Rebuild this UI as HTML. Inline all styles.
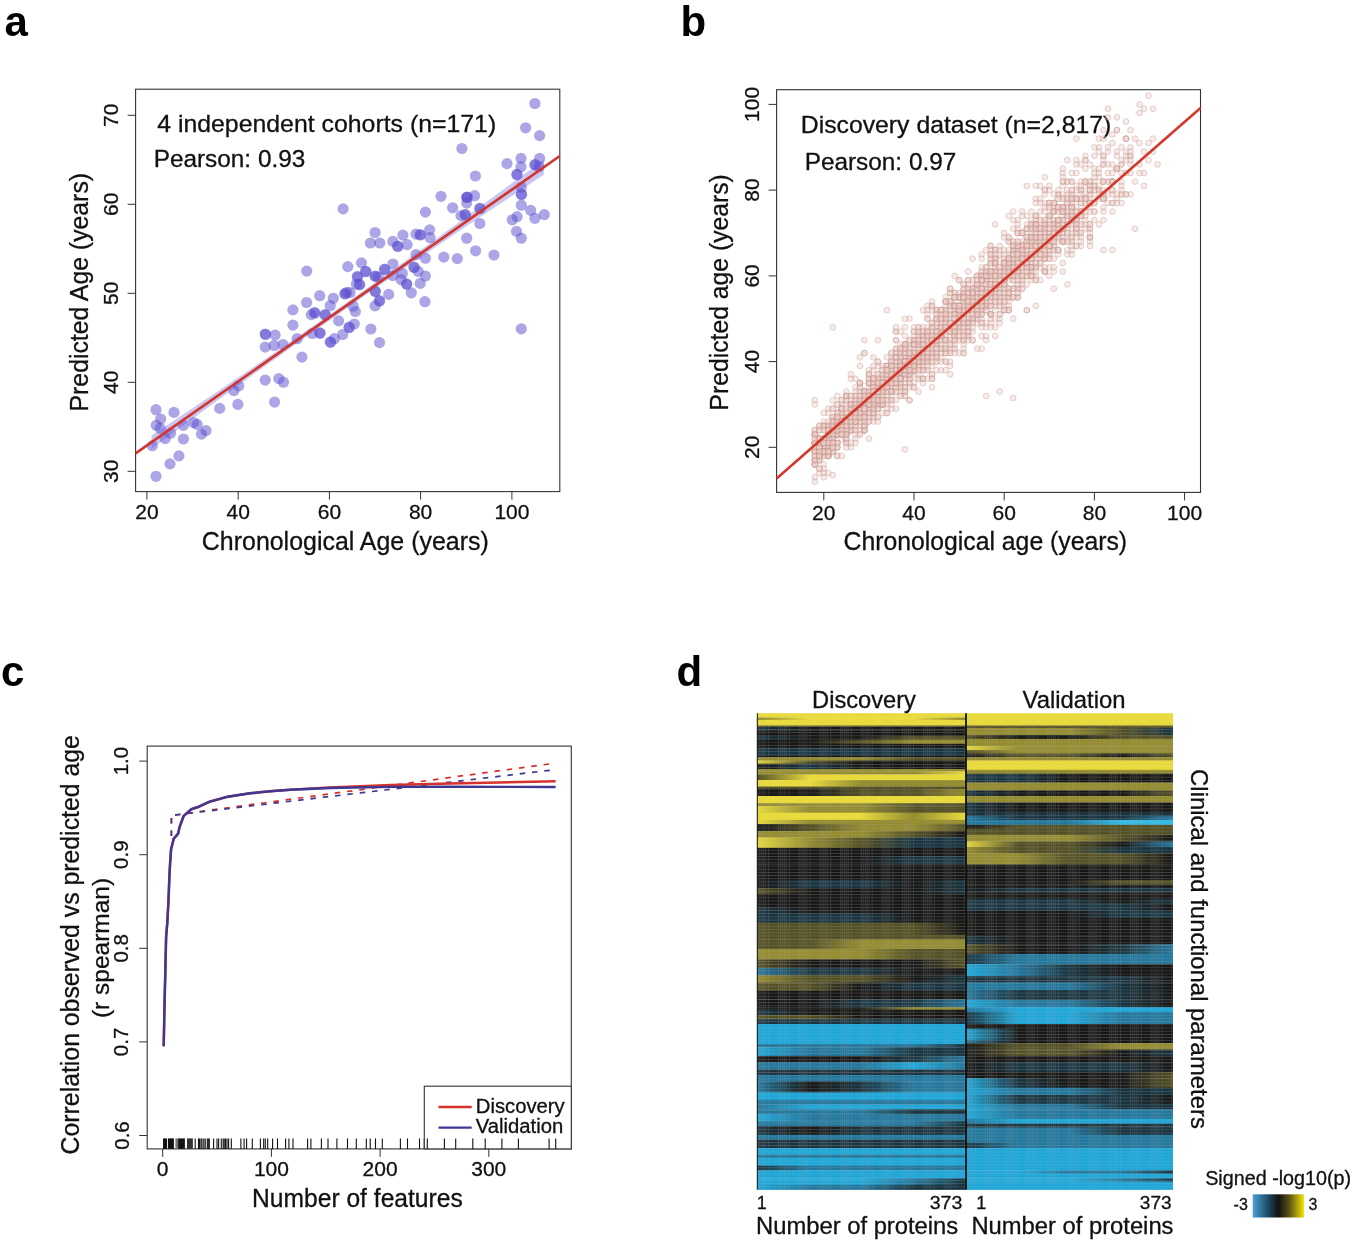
<!DOCTYPE html>
<html><head><meta charset="utf-8"><title>Figure</title>
<style>html,body{margin:0;padding:0;background:#fff;}svg{display:block;will-change:transform;}text{font-family:"Liberation Sans",sans-serif;}</style>
</head><body>
<svg width="1352" height="1240" viewBox="0 0 1352 1240">
<rect width="1352" height="1240" fill="#fff"/>
<text x="4.5" y="35.5" font-size="42" text-anchor="start" fill="#000" font-weight="bold">a</text>
<text x="680.5" y="35.5" font-size="42" text-anchor="start" fill="#000" font-weight="bold">b</text>
<text x="1.0" y="686.3" font-size="42" text-anchor="start" fill="#000" font-weight="bold">c</text>
<text x="676.5" y="686.3" font-size="42" text-anchor="start" fill="#000" font-weight="bold">d</text>
<rect x="135.6" y="89.2" width="424.2" height="402.4" fill="none" stroke="#333" stroke-width="1.1"/>
<line x1="146.9" y1="491.6" x2="146.9" y2="499.6" stroke="#333" stroke-width="1"/>
<text x="146.9" y="518.8" font-size="21" text-anchor="middle" fill="#111" stroke="#111" stroke-width="0.3">20</text>
<line x1="238.2" y1="491.6" x2="238.2" y2="499.6" stroke="#333" stroke-width="1"/>
<text x="238.2" y="518.8" font-size="21" text-anchor="middle" fill="#111" stroke="#111" stroke-width="0.3">40</text>
<line x1="329.4" y1="491.6" x2="329.4" y2="499.6" stroke="#333" stroke-width="1"/>
<text x="329.4" y="518.8" font-size="21" text-anchor="middle" fill="#111" stroke="#111" stroke-width="0.3">60</text>
<line x1="420.6" y1="491.6" x2="420.6" y2="499.6" stroke="#333" stroke-width="1"/>
<text x="420.6" y="518.8" font-size="21" text-anchor="middle" fill="#111" stroke="#111" stroke-width="0.3">80</text>
<line x1="511.9" y1="491.6" x2="511.9" y2="499.6" stroke="#333" stroke-width="1"/>
<text x="511.9" y="518.8" font-size="21" text-anchor="middle" fill="#111" stroke="#111" stroke-width="0.3">100</text>
<line x1="127.6" y1="471.3" x2="135.6" y2="471.3" stroke="#333" stroke-width="1"/>
<text x="117.6" y="471.3" font-size="21" text-anchor="middle" fill="#111" stroke="#111" stroke-width="0.3" transform="rotate(-90 117.6 471.3)">30</text>
<line x1="127.6" y1="382.3" x2="135.6" y2="382.3" stroke="#333" stroke-width="1"/>
<text x="117.6" y="382.3" font-size="21" text-anchor="middle" fill="#111" stroke="#111" stroke-width="0.3" transform="rotate(-90 117.6 382.3)">40</text>
<line x1="127.6" y1="293.3" x2="135.6" y2="293.3" stroke="#333" stroke-width="1"/>
<text x="117.6" y="293.3" font-size="21" text-anchor="middle" fill="#111" stroke="#111" stroke-width="0.3" transform="rotate(-90 117.6 293.3)">50</text>
<line x1="127.6" y1="204.3" x2="135.6" y2="204.3" stroke="#333" stroke-width="1"/>
<text x="117.6" y="204.3" font-size="21" text-anchor="middle" fill="#111" stroke="#111" stroke-width="0.3" transform="rotate(-90 117.6 204.3)">60</text>
<line x1="127.6" y1="115.3" x2="135.6" y2="115.3" stroke="#333" stroke-width="1"/>
<text x="117.6" y="115.3" font-size="21" text-anchor="middle" fill="#111" stroke="#111" stroke-width="0.3" transform="rotate(-90 117.6 115.3)">70</text>
<text x="345.3" y="549.8" font-size="25" text-anchor="middle" fill="#111" stroke="#111" stroke-width="0.3" textLength="286.9" lengthAdjust="spacingAndGlyphs">Chronological Age (years)</text>
<text x="87.7" y="292.2" font-size="25" text-anchor="middle" fill="#111" stroke="#111" stroke-width="0.3" textLength="238.5" lengthAdjust="spacingAndGlyphs" transform="rotate(-90 87.7 292.2)">Predicted Age (years)</text>
<text x="157.2" y="131.8" font-size="24.5" text-anchor="start" fill="#111" stroke="#111" stroke-width="0.3" textLength="339.0" lengthAdjust="spacingAndGlyphs">4 independent cohorts (n=171)</text>
<text x="153.7" y="166.6" font-size="24.5" text-anchor="start" fill="#111" stroke="#111" stroke-width="0.3" textLength="151.6" lengthAdjust="spacingAndGlyphs">Pearson: 0.93</text>
<polygon points="151.5,435.4 169.7,423.4 192.5,408.2 215.3,392.9 238.2,377.5 261.0,362.0 283.8,346.3 306.6,330.6 329.4,314.7 352.2,298.7 375.0,282.5 397.8,266.3 420.6,249.9 443.5,233.5 466.3,216.9 489.1,200.1 511.9,183.3 534.7,166.4 543.8,159.5 543.8,174.8 534.7,180.8 511.9,195.9 489.1,211.0 466.3,226.3 443.5,241.7 420.6,257.2 397.8,272.8 375.0,288.5 352.2,304.4 329.4,320.4 306.6,336.5 283.8,352.7 261.0,369.0 238.2,385.5 215.3,402.1 192.5,418.8 169.7,435.6 151.5,449.1" fill="#b3aeea" fill-opacity="0.7"/>
<circle cx="156.0" cy="409.7" r="5.6" fill="#5a4ecf" fill-opacity="0.5"/>
<circle cx="174.0" cy="412.4" r="5.6" fill="#5a4ecf" fill-opacity="0.5"/>
<circle cx="160.7" cy="419.0" r="5.6" fill="#5a4ecf" fill-opacity="0.5"/>
<circle cx="156.3" cy="425.3" r="5.6" fill="#5a4ecf" fill-opacity="0.5"/>
<circle cx="160.3" cy="428.4" r="5.6" fill="#5a4ecf" fill-opacity="0.5"/>
<circle cx="152.3" cy="445.7" r="5.6" fill="#5a4ecf" fill-opacity="0.5"/>
<circle cx="165.2" cy="438.6" r="5.6" fill="#5a4ecf" fill-opacity="0.5"/>
<circle cx="170.5" cy="433.2" r="5.6" fill="#5a4ecf" fill-opacity="0.5"/>
<circle cx="183.4" cy="425.3" r="5.6" fill="#5a4ecf" fill-opacity="0.5"/>
<circle cx="193.6" cy="422.6" r="5.6" fill="#5a4ecf" fill-opacity="0.5"/>
<circle cx="197.1" cy="424.4" r="5.6" fill="#5a4ecf" fill-opacity="0.5"/>
<circle cx="206.0" cy="430.6" r="5.6" fill="#5a4ecf" fill-opacity="0.5"/>
<circle cx="201.5" cy="434.1" r="5.6" fill="#5a4ecf" fill-opacity="0.5"/>
<circle cx="183.4" cy="439.0" r="5.6" fill="#5a4ecf" fill-opacity="0.5"/>
<circle cx="178.9" cy="455.9" r="5.6" fill="#5a4ecf" fill-opacity="0.5"/>
<circle cx="170.0" cy="463.9" r="5.6" fill="#5a4ecf" fill-opacity="0.5"/>
<circle cx="156.0" cy="476.3" r="5.6" fill="#5a4ecf" fill-opacity="0.5"/>
<circle cx="219.7" cy="408.4" r="5.6" fill="#5a4ecf" fill-opacity="0.5"/>
<circle cx="237.9" cy="404.4" r="5.6" fill="#5a4ecf" fill-opacity="0.5"/>
<circle cx="233.9" cy="390.6" r="5.6" fill="#5a4ecf" fill-opacity="0.5"/>
<circle cx="238.8" cy="385.8" r="5.6" fill="#5a4ecf" fill-opacity="0.5"/>
<circle cx="265.2" cy="334.0" r="5.6" fill="#5a4ecf" fill-opacity="0.5"/>
<circle cx="265.5" cy="334.5" r="5.6" fill="#5a4ecf" fill-opacity="0.5"/>
<circle cx="275.1" cy="335.0" r="5.6" fill="#5a4ecf" fill-opacity="0.5"/>
<circle cx="265.2" cy="347.1" r="5.6" fill="#5a4ecf" fill-opacity="0.5"/>
<circle cx="274.1" cy="345.5" r="5.6" fill="#5a4ecf" fill-opacity="0.5"/>
<circle cx="283.0" cy="344.5" r="5.6" fill="#5a4ecf" fill-opacity="0.5"/>
<circle cx="292.9" cy="309.9" r="5.6" fill="#5a4ecf" fill-opacity="0.5"/>
<circle cx="292.9" cy="325.1" r="5.6" fill="#5a4ecf" fill-opacity="0.5"/>
<circle cx="297.1" cy="338.7" r="5.6" fill="#5a4ecf" fill-opacity="0.5"/>
<circle cx="301.9" cy="357.1" r="5.6" fill="#5a4ecf" fill-opacity="0.5"/>
<circle cx="265.2" cy="380.1" r="5.6" fill="#5a4ecf" fill-opacity="0.5"/>
<circle cx="278.8" cy="378.6" r="5.6" fill="#5a4ecf" fill-opacity="0.5"/>
<circle cx="283.5" cy="382.2" r="5.6" fill="#5a4ecf" fill-opacity="0.5"/>
<circle cx="274.6" cy="402.1" r="5.6" fill="#5a4ecf" fill-opacity="0.5"/>
<circle cx="306.6" cy="302.5" r="5.6" fill="#5a4ecf" fill-opacity="0.5"/>
<circle cx="319.7" cy="295.7" r="5.6" fill="#5a4ecf" fill-opacity="0.5"/>
<circle cx="314.4" cy="312.5" r="5.6" fill="#5a4ecf" fill-opacity="0.5"/>
<circle cx="315.0" cy="313.0" r="5.6" fill="#5a4ecf" fill-opacity="0.5"/>
<circle cx="311.3" cy="314.6" r="5.6" fill="#5a4ecf" fill-opacity="0.5"/>
<circle cx="330.2" cy="305.7" r="5.6" fill="#5a4ecf" fill-opacity="0.5"/>
<circle cx="333.3" cy="298.3" r="5.6" fill="#5a4ecf" fill-opacity="0.5"/>
<circle cx="324.9" cy="314.6" r="5.6" fill="#5a4ecf" fill-opacity="0.5"/>
<circle cx="325.5" cy="315.0" r="5.6" fill="#5a4ecf" fill-opacity="0.5"/>
<circle cx="319.7" cy="332.9" r="5.6" fill="#5a4ecf" fill-opacity="0.5"/>
<circle cx="320.2" cy="333.3" r="5.6" fill="#5a4ecf" fill-opacity="0.5"/>
<circle cx="312.3" cy="333.5" r="5.6" fill="#5a4ecf" fill-opacity="0.5"/>
<circle cx="330.2" cy="341.9" r="5.6" fill="#5a4ecf" fill-opacity="0.5"/>
<circle cx="330.6" cy="342.3" r="5.6" fill="#5a4ecf" fill-opacity="0.5"/>
<circle cx="334.4" cy="338.7" r="5.6" fill="#5a4ecf" fill-opacity="0.5"/>
<circle cx="338.6" cy="320.9" r="5.6" fill="#5a4ecf" fill-opacity="0.5"/>
<circle cx="342.7" cy="334.5" r="5.6" fill="#5a4ecf" fill-opacity="0.5"/>
<circle cx="349.0" cy="327.2" r="5.6" fill="#5a4ecf" fill-opacity="0.5"/>
<circle cx="349.4" cy="327.6" r="5.6" fill="#5a4ecf" fill-opacity="0.5"/>
<circle cx="344.8" cy="293.6" r="5.6" fill="#5a4ecf" fill-opacity="0.5"/>
<circle cx="345.2" cy="294.0" r="5.6" fill="#5a4ecf" fill-opacity="0.5"/>
<circle cx="350.1" cy="292.6" r="5.6" fill="#5a4ecf" fill-opacity="0.5"/>
<circle cx="356.4" cy="284.2" r="5.6" fill="#5a4ecf" fill-opacity="0.5"/>
<circle cx="355.3" cy="311.5" r="5.6" fill="#5a4ecf" fill-opacity="0.5"/>
<circle cx="354.3" cy="324.0" r="5.6" fill="#5a4ecf" fill-opacity="0.5"/>
<circle cx="353.2" cy="306.2" r="5.6" fill="#5a4ecf" fill-opacity="0.5"/>
<circle cx="306.7" cy="271.1" r="5.6" fill="#5a4ecf" fill-opacity="0.5"/>
<circle cx="379.5" cy="342.6" r="5.6" fill="#5a4ecf" fill-opacity="0.5"/>
<circle cx="343.1" cy="208.9" r="5.6" fill="#5a4ecf" fill-opacity="0.5"/>
<circle cx="425.4" cy="212.1" r="5.6" fill="#5a4ecf" fill-opacity="0.5"/>
<circle cx="375.1" cy="232.5" r="5.6" fill="#5a4ecf" fill-opacity="0.5"/>
<circle cx="370.4" cy="243.0" r="5.6" fill="#5a4ecf" fill-opacity="0.5"/>
<circle cx="379.8" cy="243.0" r="5.6" fill="#5a4ecf" fill-opacity="0.5"/>
<circle cx="392.9" cy="241.4" r="5.6" fill="#5a4ecf" fill-opacity="0.5"/>
<circle cx="402.9" cy="235.1" r="5.6" fill="#5a4ecf" fill-opacity="0.5"/>
<circle cx="397.6" cy="246.1" r="5.6" fill="#5a4ecf" fill-opacity="0.5"/>
<circle cx="397.9" cy="246.5" r="5.6" fill="#5a4ecf" fill-opacity="0.5"/>
<circle cx="407.1" cy="244.6" r="5.6" fill="#5a4ecf" fill-opacity="0.5"/>
<circle cx="416.0" cy="234.1" r="5.6" fill="#5a4ecf" fill-opacity="0.5"/>
<circle cx="420.2" cy="234.6" r="5.6" fill="#5a4ecf" fill-opacity="0.5"/>
<circle cx="420.5" cy="235.0" r="5.6" fill="#5a4ecf" fill-opacity="0.5"/>
<circle cx="429.6" cy="229.9" r="5.6" fill="#5a4ecf" fill-opacity="0.5"/>
<circle cx="430.1" cy="237.7" r="5.6" fill="#5a4ecf" fill-opacity="0.5"/>
<circle cx="443.8" cy="257.1" r="5.6" fill="#5a4ecf" fill-opacity="0.5"/>
<circle cx="416.0" cy="254.5" r="5.6" fill="#5a4ecf" fill-opacity="0.5"/>
<circle cx="425.4" cy="258.2" r="5.6" fill="#5a4ecf" fill-opacity="0.5"/>
<circle cx="413.9" cy="267.1" r="5.6" fill="#5a4ecf" fill-opacity="0.5"/>
<circle cx="414.2" cy="267.5" r="5.6" fill="#5a4ecf" fill-opacity="0.5"/>
<circle cx="418.1" cy="271.3" r="5.6" fill="#5a4ecf" fill-opacity="0.5"/>
<circle cx="425.4" cy="276.0" r="5.6" fill="#5a4ecf" fill-opacity="0.5"/>
<circle cx="420.2" cy="283.4" r="5.6" fill="#5a4ecf" fill-opacity="0.5"/>
<circle cx="406.5" cy="283.9" r="5.6" fill="#5a4ecf" fill-opacity="0.5"/>
<circle cx="406.8" cy="284.3" r="5.6" fill="#5a4ecf" fill-opacity="0.5"/>
<circle cx="411.3" cy="292.8" r="5.6" fill="#5a4ecf" fill-opacity="0.5"/>
<circle cx="401.3" cy="279.7" r="5.6" fill="#5a4ecf" fill-opacity="0.5"/>
<circle cx="402.3" cy="273.4" r="5.6" fill="#5a4ecf" fill-opacity="0.5"/>
<circle cx="392.9" cy="264.0" r="5.6" fill="#5a4ecf" fill-opacity="0.5"/>
<circle cx="392.9" cy="275.5" r="5.6" fill="#5a4ecf" fill-opacity="0.5"/>
<circle cx="384.5" cy="269.2" r="5.6" fill="#5a4ecf" fill-opacity="0.5"/>
<circle cx="384.8" cy="269.6" r="5.6" fill="#5a4ecf" fill-opacity="0.5"/>
<circle cx="375.1" cy="276.0" r="5.6" fill="#5a4ecf" fill-opacity="0.5"/>
<circle cx="375.4" cy="276.4" r="5.6" fill="#5a4ecf" fill-opacity="0.5"/>
<circle cx="378.2" cy="277.1" r="5.6" fill="#5a4ecf" fill-opacity="0.5"/>
<circle cx="375.1" cy="291.2" r="5.6" fill="#5a4ecf" fill-opacity="0.5"/>
<circle cx="375.4" cy="291.6" r="5.6" fill="#5a4ecf" fill-opacity="0.5"/>
<circle cx="379.3" cy="300.7" r="5.6" fill="#5a4ecf" fill-opacity="0.5"/>
<circle cx="379.6" cy="301.1" r="5.6" fill="#5a4ecf" fill-opacity="0.5"/>
<circle cx="388.7" cy="294.4" r="5.6" fill="#5a4ecf" fill-opacity="0.5"/>
<circle cx="375.1" cy="305.9" r="5.6" fill="#5a4ecf" fill-opacity="0.5"/>
<circle cx="424.9" cy="301.7" r="5.6" fill="#5a4ecf" fill-opacity="0.5"/>
<circle cx="347.8" cy="266.6" r="5.6" fill="#5a4ecf" fill-opacity="0.5"/>
<circle cx="361.5" cy="262.9" r="5.6" fill="#5a4ecf" fill-opacity="0.5"/>
<circle cx="365.6" cy="271.3" r="5.6" fill="#5a4ecf" fill-opacity="0.5"/>
<circle cx="365.9" cy="271.7" r="5.6" fill="#5a4ecf" fill-opacity="0.5"/>
<circle cx="357.3" cy="276.5" r="5.6" fill="#5a4ecf" fill-opacity="0.5"/>
<circle cx="357.6" cy="276.9" r="5.6" fill="#5a4ecf" fill-opacity="0.5"/>
<circle cx="359.4" cy="284.4" r="5.6" fill="#5a4ecf" fill-opacity="0.5"/>
<circle cx="359.7" cy="284.8" r="5.6" fill="#5a4ecf" fill-opacity="0.5"/>
<circle cx="346.8" cy="292.3" r="5.6" fill="#5a4ecf" fill-opacity="0.5"/>
<circle cx="370.9" cy="329.0" r="5.6" fill="#5a4ecf" fill-opacity="0.5"/>
<circle cx="441.0" cy="196.3" r="5.6" fill="#5a4ecf" fill-opacity="0.5"/>
<circle cx="452.6" cy="207.8" r="5.6" fill="#5a4ecf" fill-opacity="0.5"/>
<circle cx="466.7" cy="197.3" r="5.6" fill="#5a4ecf" fill-opacity="0.5"/>
<circle cx="467.0" cy="197.6" r="5.6" fill="#5a4ecf" fill-opacity="0.5"/>
<circle cx="467.3" cy="197.0" r="5.6" fill="#5a4ecf" fill-opacity="0.5"/>
<circle cx="474.6" cy="195.7" r="5.6" fill="#5a4ecf" fill-opacity="0.5"/>
<circle cx="466.7" cy="203.1" r="5.6" fill="#5a4ecf" fill-opacity="0.5"/>
<circle cx="465.2" cy="214.6" r="5.6" fill="#5a4ecf" fill-opacity="0.5"/>
<circle cx="465.5" cy="214.9" r="5.6" fill="#5a4ecf" fill-opacity="0.5"/>
<circle cx="461.0" cy="215.6" r="5.6" fill="#5a4ecf" fill-opacity="0.5"/>
<circle cx="479.8" cy="208.3" r="5.6" fill="#5a4ecf" fill-opacity="0.5"/>
<circle cx="480.1" cy="208.6" r="5.6" fill="#5a4ecf" fill-opacity="0.5"/>
<circle cx="479.8" cy="223.5" r="5.6" fill="#5a4ecf" fill-opacity="0.5"/>
<circle cx="466.7" cy="238.2" r="5.6" fill="#5a4ecf" fill-opacity="0.5"/>
<circle cx="475.6" cy="250.8" r="5.6" fill="#5a4ecf" fill-opacity="0.5"/>
<circle cx="457.3" cy="258.6" r="5.6" fill="#5a4ecf" fill-opacity="0.5"/>
<circle cx="494.0" cy="255.0" r="5.6" fill="#5a4ecf" fill-opacity="0.5"/>
<circle cx="521.3" cy="187.3" r="5.6" fill="#5a4ecf" fill-opacity="0.5"/>
<circle cx="521.3" cy="194.2" r="5.6" fill="#5a4ecf" fill-opacity="0.5"/>
<circle cx="521.6" cy="194.5" r="5.6" fill="#5a4ecf" fill-opacity="0.5"/>
<circle cx="521.3" cy="205.2" r="5.6" fill="#5a4ecf" fill-opacity="0.5"/>
<circle cx="530.7" cy="210.4" r="5.6" fill="#5a4ecf" fill-opacity="0.5"/>
<circle cx="534.9" cy="218.3" r="5.6" fill="#5a4ecf" fill-opacity="0.5"/>
<circle cx="544.3" cy="214.6" r="5.6" fill="#5a4ecf" fill-opacity="0.5"/>
<circle cx="517.1" cy="216.7" r="5.6" fill="#5a4ecf" fill-opacity="0.5"/>
<circle cx="512.3" cy="219.8" r="5.6" fill="#5a4ecf" fill-opacity="0.5"/>
<circle cx="516.5" cy="231.4" r="5.6" fill="#5a4ecf" fill-opacity="0.5"/>
<circle cx="521.3" cy="238.2" r="5.6" fill="#5a4ecf" fill-opacity="0.5"/>
<circle cx="534.9" cy="103.5" r="5.6" fill="#5a4ecf" fill-opacity="0.5"/>
<circle cx="525.6" cy="127.8" r="5.6" fill="#5a4ecf" fill-opacity="0.5"/>
<circle cx="539.6" cy="135.6" r="5.6" fill="#5a4ecf" fill-opacity="0.5"/>
<circle cx="461.9" cy="148.5" r="5.6" fill="#5a4ecf" fill-opacity="0.5"/>
<circle cx="475.4" cy="176.0" r="5.6" fill="#5a4ecf" fill-opacity="0.5"/>
<circle cx="507.0" cy="163.6" r="5.6" fill="#5a4ecf" fill-opacity="0.5"/>
<circle cx="521.0" cy="158.4" r="5.6" fill="#5a4ecf" fill-opacity="0.5"/>
<circle cx="521.0" cy="166.7" r="5.6" fill="#5a4ecf" fill-opacity="0.5"/>
<circle cx="516.8" cy="174.4" r="5.6" fill="#5a4ecf" fill-opacity="0.5"/>
<circle cx="517.1" cy="174.7" r="5.6" fill="#5a4ecf" fill-opacity="0.5"/>
<circle cx="539.6" cy="158.4" r="5.6" fill="#5a4ecf" fill-opacity="0.5"/>
<circle cx="534.9" cy="164.6" r="5.6" fill="#5a4ecf" fill-opacity="0.5"/>
<circle cx="535.2" cy="164.9" r="5.6" fill="#5a4ecf" fill-opacity="0.5"/>
<circle cx="539.1" cy="166.7" r="5.6" fill="#5a4ecf" fill-opacity="0.5"/>
<circle cx="521.3" cy="328.8" r="5.6" fill="#5a4ecf" fill-opacity="0.5"/>
<line x1="135.6" y1="453.4" x2="559.8" y2="156.0" stroke="#d2352c" stroke-width="2.6"/>
<rect x="776.6" y="89.7" width="423.9" height="402.7" fill="none" stroke="#333" stroke-width="1.1"/>
<line x1="823.8" y1="492.4" x2="823.8" y2="500.4" stroke="#333" stroke-width="1"/>
<text x="823.8" y="519.8" font-size="21" text-anchor="middle" fill="#111" stroke="#111" stroke-width="0.3">20</text>
<line x1="914.0" y1="492.4" x2="914.0" y2="500.4" stroke="#333" stroke-width="1"/>
<text x="914.0" y="519.8" font-size="21" text-anchor="middle" fill="#111" stroke="#111" stroke-width="0.3">40</text>
<line x1="1004.2" y1="492.4" x2="1004.2" y2="500.4" stroke="#333" stroke-width="1"/>
<text x="1004.2" y="519.8" font-size="21" text-anchor="middle" fill="#111" stroke="#111" stroke-width="0.3">60</text>
<line x1="1094.4" y1="492.4" x2="1094.4" y2="500.4" stroke="#333" stroke-width="1"/>
<text x="1094.4" y="519.8" font-size="21" text-anchor="middle" fill="#111" stroke="#111" stroke-width="0.3">80</text>
<line x1="1184.6" y1="492.4" x2="1184.6" y2="500.4" stroke="#333" stroke-width="1"/>
<text x="1184.6" y="519.8" font-size="21" text-anchor="middle" fill="#111" stroke="#111" stroke-width="0.3">100</text>
<line x1="768.6" y1="447.3" x2="776.6" y2="447.3" stroke="#333" stroke-width="1"/>
<text x="758.6" y="447.3" font-size="21" text-anchor="middle" fill="#111" stroke="#111" stroke-width="0.3" transform="rotate(-90 758.6 447.3)">20</text>
<line x1="768.6" y1="361.6" x2="776.6" y2="361.6" stroke="#333" stroke-width="1"/>
<text x="758.6" y="361.6" font-size="21" text-anchor="middle" fill="#111" stroke="#111" stroke-width="0.3" transform="rotate(-90 758.6 361.6)">40</text>
<line x1="768.6" y1="275.9" x2="776.6" y2="275.9" stroke="#333" stroke-width="1"/>
<text x="758.6" y="275.9" font-size="21" text-anchor="middle" fill="#111" stroke="#111" stroke-width="0.3" transform="rotate(-90 758.6 275.9)">60</text>
<line x1="768.6" y1="190.1" x2="776.6" y2="190.1" stroke="#333" stroke-width="1"/>
<text x="758.6" y="190.1" font-size="21" text-anchor="middle" fill="#111" stroke="#111" stroke-width="0.3" transform="rotate(-90 758.6 190.1)">80</text>
<line x1="768.6" y1="104.4" x2="776.6" y2="104.4" stroke="#333" stroke-width="1"/>
<text x="758.6" y="104.4" font-size="21" text-anchor="middle" fill="#111" stroke="#111" stroke-width="0.3" transform="rotate(-90 758.6 104.4)">100</text>
<text x="985.3" y="550.1" font-size="25" text-anchor="middle" fill="#111" stroke="#111" stroke-width="0.3" textLength="283.6" lengthAdjust="spacingAndGlyphs">Chronological age (years)</text>
<text x="727.9" y="292.3" font-size="25" text-anchor="middle" fill="#111" stroke="#111" stroke-width="0.3" textLength="236.2" lengthAdjust="spacingAndGlyphs" transform="rotate(-90 727.9 292.3)">Predicted age (years)</text>
<text x="800.8" y="133.4" font-size="24.5" text-anchor="start" fill="#111" stroke="#111" stroke-width="0.3" textLength="310.4" lengthAdjust="spacingAndGlyphs">Discovery dataset (n=2,817)</text>
<text x="804.7" y="169.7" font-size="24.5" text-anchor="start" fill="#111" stroke="#111" stroke-width="0.3" textLength="151.6" lengthAdjust="spacingAndGlyphs">Pearson: 0.97</text>
<g fill="#ecccc6" fill-opacity="0.38" stroke="#bb8883" stroke-opacity="0.40" stroke-width="0.9">
<circle cx="941.1" cy="370.2" r="2.9"/>
<circle cx="954.6" cy="335.9" r="2.9"/>
<circle cx="864.4" cy="425.9" r="2.9"/>
<circle cx="837.3" cy="434.4" r="2.9"/>
<circle cx="837.3" cy="395.9" r="2.9"/>
<circle cx="1112.4" cy="143.0" r="2.9"/>
<circle cx="855.4" cy="413.0" r="2.9"/>
<circle cx="864.4" cy="408.7" r="2.9"/>
<circle cx="819.3" cy="460.2" r="2.9"/>
<circle cx="959.1" cy="314.4" r="2.9"/>
<circle cx="954.6" cy="331.6" r="2.9"/>
<circle cx="1139.5" cy="173.0" r="2.9"/>
<circle cx="1049.3" cy="237.3" r="2.9"/>
<circle cx="891.4" cy="391.6" r="2.9"/>
<circle cx="1049.3" cy="254.4" r="2.9"/>
<circle cx="1094.4" cy="190.1" r="2.9"/>
<circle cx="1071.8" cy="211.6" r="2.9"/>
<circle cx="1112.4" cy="181.6" r="2.9"/>
<circle cx="1031.3" cy="245.9" r="2.9"/>
<circle cx="837.3" cy="447.3" r="2.9"/>
<circle cx="846.3" cy="395.9" r="2.9"/>
<circle cx="841.8" cy="408.7" r="2.9"/>
<circle cx="968.1" cy="297.3" r="2.9"/>
<circle cx="864.4" cy="408.7" r="2.9"/>
<circle cx="846.3" cy="430.2" r="2.9"/>
<circle cx="873.4" cy="400.2" r="2.9"/>
<circle cx="896.0" cy="340.2" r="2.9"/>
<circle cx="873.4" cy="417.3" r="2.9"/>
<circle cx="841.8" cy="413.0" r="2.9"/>
<circle cx="873.4" cy="400.2" r="2.9"/>
<circle cx="896.0" cy="331.6" r="2.9"/>
<circle cx="882.4" cy="378.7" r="2.9"/>
<circle cx="918.5" cy="391.6" r="2.9"/>
<circle cx="972.6" cy="293.0" r="2.9"/>
<circle cx="864.4" cy="391.6" r="2.9"/>
<circle cx="882.4" cy="365.9" r="2.9"/>
<circle cx="1017.7" cy="250.1" r="2.9"/>
<circle cx="1062.8" cy="228.7" r="2.9"/>
<circle cx="932.0" cy="340.2" r="2.9"/>
<circle cx="877.9" cy="391.6" r="2.9"/>
<circle cx="882.4" cy="383.0" r="2.9"/>
<circle cx="859.9" cy="425.9" r="2.9"/>
<circle cx="832.8" cy="434.4" r="2.9"/>
<circle cx="986.2" cy="271.6" r="2.9"/>
<circle cx="1076.4" cy="207.3" r="2.9"/>
<circle cx="936.5" cy="327.3" r="2.9"/>
<circle cx="972.6" cy="288.7" r="2.9"/>
<circle cx="914.0" cy="327.3" r="2.9"/>
<circle cx="1004.2" cy="310.1" r="2.9"/>
<circle cx="850.9" cy="417.3" r="2.9"/>
<circle cx="1008.7" cy="271.6" r="2.9"/>
<circle cx="819.3" cy="455.9" r="2.9"/>
<circle cx="900.5" cy="383.0" r="2.9"/>
<circle cx="832.8" cy="451.6" r="2.9"/>
<circle cx="1017.7" cy="271.6" r="2.9"/>
<circle cx="1035.8" cy="228.7" r="2.9"/>
<circle cx="1067.3" cy="228.7" r="2.9"/>
<circle cx="927.5" cy="340.2" r="2.9"/>
<circle cx="986.2" cy="327.3" r="2.9"/>
<circle cx="977.1" cy="305.9" r="2.9"/>
<circle cx="1130.5" cy="164.4" r="2.9"/>
<circle cx="1017.7" cy="288.7" r="2.9"/>
<circle cx="936.5" cy="323.0" r="2.9"/>
<circle cx="837.3" cy="430.2" r="2.9"/>
<circle cx="945.6" cy="335.9" r="2.9"/>
<circle cx="1008.7" cy="297.3" r="2.9"/>
<circle cx="882.4" cy="378.7" r="2.9"/>
<circle cx="868.9" cy="383.0" r="2.9"/>
<circle cx="1071.8" cy="224.4" r="2.9"/>
<circle cx="905.0" cy="383.0" r="2.9"/>
<circle cx="868.9" cy="421.6" r="2.9"/>
<circle cx="1062.8" cy="207.3" r="2.9"/>
<circle cx="977.1" cy="305.9" r="2.9"/>
<circle cx="1044.8" cy="228.7" r="2.9"/>
<circle cx="1013.2" cy="254.4" r="2.9"/>
<circle cx="936.5" cy="344.4" r="2.9"/>
<circle cx="873.4" cy="413.0" r="2.9"/>
<circle cx="900.5" cy="361.6" r="2.9"/>
<circle cx="1112.4" cy="181.6" r="2.9"/>
<circle cx="1058.3" cy="194.4" r="2.9"/>
<circle cx="900.5" cy="365.9" r="2.9"/>
<circle cx="819.3" cy="425.9" r="2.9"/>
<circle cx="1044.8" cy="228.7" r="2.9"/>
<circle cx="990.7" cy="314.4" r="2.9"/>
<circle cx="1040.3" cy="233.0" r="2.9"/>
<circle cx="1004.2" cy="267.3" r="2.9"/>
<circle cx="814.8" cy="443.0" r="2.9"/>
<circle cx="1013.2" cy="263.0" r="2.9"/>
<circle cx="1008.7" cy="258.7" r="2.9"/>
<circle cx="986.2" cy="293.0" r="2.9"/>
<circle cx="1071.8" cy="207.3" r="2.9"/>
<circle cx="850.9" cy="425.9" r="2.9"/>
<circle cx="986.2" cy="280.1" r="2.9"/>
<circle cx="1058.3" cy="237.3" r="2.9"/>
<circle cx="1089.9" cy="228.7" r="2.9"/>
<circle cx="1013.2" cy="263.0" r="2.9"/>
<circle cx="990.7" cy="293.0" r="2.9"/>
<circle cx="1112.4" cy="190.1" r="2.9"/>
<circle cx="963.6" cy="310.1" r="2.9"/>
<circle cx="1053.8" cy="245.9" r="2.9"/>
<circle cx="837.3" cy="447.3" r="2.9"/>
<circle cx="950.1" cy="314.4" r="2.9"/>
<circle cx="1035.8" cy="254.4" r="2.9"/>
<circle cx="905.0" cy="365.9" r="2.9"/>
<circle cx="959.1" cy="327.3" r="2.9"/>
<circle cx="1049.3" cy="254.4" r="2.9"/>
<circle cx="1089.9" cy="241.6" r="2.9"/>
<circle cx="891.4" cy="365.9" r="2.9"/>
<circle cx="990.7" cy="323.0" r="2.9"/>
<circle cx="900.5" cy="378.7" r="2.9"/>
<circle cx="1049.3" cy="224.4" r="2.9"/>
<circle cx="1103.4" cy="194.4" r="2.9"/>
<circle cx="972.6" cy="297.3" r="2.9"/>
<circle cx="981.6" cy="254.4" r="2.9"/>
<circle cx="923.0" cy="357.3" r="2.9"/>
<circle cx="968.1" cy="335.9" r="2.9"/>
<circle cx="963.6" cy="348.7" r="2.9"/>
<circle cx="886.9" cy="365.9" r="2.9"/>
<circle cx="846.3" cy="443.0" r="2.9"/>
<circle cx="945.6" cy="318.7" r="2.9"/>
<circle cx="864.4" cy="425.9" r="2.9"/>
<circle cx="1031.3" cy="275.9" r="2.9"/>
<circle cx="1004.2" cy="263.0" r="2.9"/>
<circle cx="914.0" cy="365.9" r="2.9"/>
<circle cx="846.3" cy="425.9" r="2.9"/>
<circle cx="882.4" cy="383.0" r="2.9"/>
<circle cx="918.5" cy="340.2" r="2.9"/>
<circle cx="959.1" cy="310.1" r="2.9"/>
<circle cx="990.7" cy="280.1" r="2.9"/>
<circle cx="1049.3" cy="267.3" r="2.9"/>
<circle cx="1017.7" cy="288.7" r="2.9"/>
<circle cx="1067.3" cy="224.4" r="2.9"/>
<circle cx="873.4" cy="387.3" r="2.9"/>
<circle cx="1062.8" cy="211.6" r="2.9"/>
<circle cx="886.9" cy="365.9" r="2.9"/>
<circle cx="1031.3" cy="267.3" r="2.9"/>
<circle cx="923.0" cy="353.0" r="2.9"/>
<circle cx="1004.2" cy="280.1" r="2.9"/>
<circle cx="1103.4" cy="164.4" r="2.9"/>
<circle cx="954.6" cy="310.1" r="2.9"/>
<circle cx="864.4" cy="395.9" r="2.9"/>
<circle cx="968.1" cy="331.6" r="2.9"/>
<circle cx="864.4" cy="408.7" r="2.9"/>
<circle cx="1049.3" cy="185.9" r="2.9"/>
<circle cx="828.3" cy="425.9" r="2.9"/>
<circle cx="905.0" cy="374.4" r="2.9"/>
<circle cx="954.6" cy="331.6" r="2.9"/>
<circle cx="1008.7" cy="267.3" r="2.9"/>
<circle cx="1017.7" cy="271.6" r="2.9"/>
<circle cx="868.9" cy="374.4" r="2.9"/>
<circle cx="1067.3" cy="207.3" r="2.9"/>
<circle cx="990.7" cy="314.4" r="2.9"/>
<circle cx="981.6" cy="348.7" r="2.9"/>
<circle cx="886.9" cy="387.3" r="2.9"/>
<circle cx="1022.2" cy="254.4" r="2.9"/>
<circle cx="1067.3" cy="254.4" r="2.9"/>
<circle cx="1008.7" cy="267.3" r="2.9"/>
<circle cx="1013.2" cy="288.7" r="2.9"/>
<circle cx="814.8" cy="443.0" r="2.9"/>
<circle cx="990.7" cy="297.3" r="2.9"/>
<circle cx="999.7" cy="288.7" r="2.9"/>
<circle cx="995.2" cy="305.9" r="2.9"/>
<circle cx="1153.0" cy="151.6" r="2.9"/>
<circle cx="1008.7" cy="215.9" r="2.9"/>
<circle cx="986.2" cy="293.0" r="2.9"/>
<circle cx="828.3" cy="447.3" r="2.9"/>
<circle cx="918.5" cy="344.4" r="2.9"/>
<circle cx="968.1" cy="301.6" r="2.9"/>
<circle cx="1103.4" cy="250.1" r="2.9"/>
<circle cx="1040.3" cy="241.6" r="2.9"/>
<circle cx="823.8" cy="455.9" r="2.9"/>
<circle cx="855.4" cy="421.6" r="2.9"/>
<circle cx="981.6" cy="275.9" r="2.9"/>
<circle cx="959.1" cy="323.0" r="2.9"/>
<circle cx="914.0" cy="365.9" r="2.9"/>
<circle cx="891.4" cy="361.6" r="2.9"/>
<circle cx="896.0" cy="365.9" r="2.9"/>
<circle cx="855.4" cy="413.0" r="2.9"/>
<circle cx="1022.2" cy="233.0" r="2.9"/>
<circle cx="832.8" cy="438.7" r="2.9"/>
<circle cx="932.0" cy="387.3" r="2.9"/>
<circle cx="959.1" cy="310.1" r="2.9"/>
<circle cx="1013.2" cy="318.7" r="2.9"/>
<circle cx="981.6" cy="271.6" r="2.9"/>
<circle cx="868.9" cy="404.4" r="2.9"/>
<circle cx="936.5" cy="340.2" r="2.9"/>
<circle cx="941.1" cy="335.9" r="2.9"/>
<circle cx="1031.3" cy="224.4" r="2.9"/>
<circle cx="1139.5" cy="113.0" r="2.9"/>
<circle cx="846.3" cy="430.2" r="2.9"/>
<circle cx="1031.3" cy="263.0" r="2.9"/>
<circle cx="1004.2" cy="288.7" r="2.9"/>
<circle cx="977.1" cy="323.0" r="2.9"/>
<circle cx="882.4" cy="404.4" r="2.9"/>
<circle cx="1076.4" cy="198.7" r="2.9"/>
<circle cx="886.9" cy="391.6" r="2.9"/>
<circle cx="963.6" cy="305.9" r="2.9"/>
<circle cx="968.1" cy="305.9" r="2.9"/>
<circle cx="918.5" cy="365.9" r="2.9"/>
<circle cx="1022.2" cy="258.7" r="2.9"/>
<circle cx="832.8" cy="421.6" r="2.9"/>
<circle cx="1026.8" cy="228.7" r="2.9"/>
<circle cx="932.0" cy="344.4" r="2.9"/>
<circle cx="995.2" cy="250.1" r="2.9"/>
<circle cx="905.0" cy="391.6" r="2.9"/>
<circle cx="932.0" cy="353.0" r="2.9"/>
<circle cx="841.8" cy="417.3" r="2.9"/>
<circle cx="968.1" cy="335.9" r="2.9"/>
<circle cx="1031.3" cy="241.6" r="2.9"/>
<circle cx="837.3" cy="413.0" r="2.9"/>
<circle cx="1013.2" cy="271.6" r="2.9"/>
<circle cx="914.0" cy="370.2" r="2.9"/>
<circle cx="914.0" cy="344.4" r="2.9"/>
<circle cx="1076.4" cy="185.9" r="2.9"/>
<circle cx="1071.8" cy="250.1" r="2.9"/>
<circle cx="900.5" cy="361.6" r="2.9"/>
<circle cx="1080.9" cy="190.1" r="2.9"/>
<circle cx="914.0" cy="365.9" r="2.9"/>
<circle cx="923.0" cy="357.3" r="2.9"/>
<circle cx="1035.8" cy="237.3" r="2.9"/>
<circle cx="1044.8" cy="250.1" r="2.9"/>
<circle cx="1062.8" cy="228.7" r="2.9"/>
<circle cx="819.3" cy="460.2" r="2.9"/>
<circle cx="1098.9" cy="190.1" r="2.9"/>
<circle cx="1035.8" cy="224.4" r="2.9"/>
<circle cx="837.3" cy="421.6" r="2.9"/>
<circle cx="837.3" cy="455.9" r="2.9"/>
<circle cx="850.9" cy="417.3" r="2.9"/>
<circle cx="873.4" cy="417.3" r="2.9"/>
<circle cx="959.1" cy="314.4" r="2.9"/>
<circle cx="1103.4" cy="207.3" r="2.9"/>
<circle cx="950.1" cy="353.0" r="2.9"/>
<circle cx="1076.4" cy="215.9" r="2.9"/>
<circle cx="1044.8" cy="258.7" r="2.9"/>
<circle cx="1044.8" cy="271.6" r="2.9"/>
<circle cx="1094.4" cy="211.6" r="2.9"/>
<circle cx="1035.8" cy="267.3" r="2.9"/>
<circle cx="932.0" cy="327.3" r="2.9"/>
<circle cx="918.5" cy="335.9" r="2.9"/>
<circle cx="868.9" cy="413.0" r="2.9"/>
<circle cx="828.3" cy="434.4" r="2.9"/>
<circle cx="846.3" cy="434.4" r="2.9"/>
<circle cx="828.3" cy="455.9" r="2.9"/>
<circle cx="977.1" cy="293.0" r="2.9"/>
<circle cx="864.4" cy="404.4" r="2.9"/>
<circle cx="977.1" cy="288.7" r="2.9"/>
<circle cx="864.4" cy="408.7" r="2.9"/>
<circle cx="900.5" cy="365.9" r="2.9"/>
<circle cx="1040.3" cy="258.7" r="2.9"/>
<circle cx="1071.8" cy="211.6" r="2.9"/>
<circle cx="963.6" cy="293.0" r="2.9"/>
<circle cx="828.3" cy="443.0" r="2.9"/>
<circle cx="1035.8" cy="267.3" r="2.9"/>
<circle cx="891.4" cy="370.2" r="2.9"/>
<circle cx="995.2" cy="284.4" r="2.9"/>
<circle cx="918.5" cy="353.0" r="2.9"/>
<circle cx="1013.2" cy="275.9" r="2.9"/>
<circle cx="900.5" cy="378.7" r="2.9"/>
<circle cx="1058.3" cy="254.4" r="2.9"/>
<circle cx="886.9" cy="387.3" r="2.9"/>
<circle cx="855.4" cy="413.0" r="2.9"/>
<circle cx="1049.3" cy="237.3" r="2.9"/>
<circle cx="837.3" cy="404.4" r="2.9"/>
<circle cx="945.6" cy="370.2" r="2.9"/>
<circle cx="1053.8" cy="220.1" r="2.9"/>
<circle cx="1031.3" cy="267.3" r="2.9"/>
<circle cx="1044.8" cy="233.0" r="2.9"/>
<circle cx="855.4" cy="400.2" r="2.9"/>
<circle cx="900.5" cy="374.4" r="2.9"/>
<circle cx="941.1" cy="327.3" r="2.9"/>
<circle cx="914.0" cy="361.6" r="2.9"/>
<circle cx="941.1" cy="340.2" r="2.9"/>
<circle cx="1044.8" cy="241.6" r="2.9"/>
<circle cx="1013.2" cy="271.6" r="2.9"/>
<circle cx="968.1" cy="310.1" r="2.9"/>
<circle cx="1035.8" cy="245.9" r="2.9"/>
<circle cx="986.2" cy="297.3" r="2.9"/>
<circle cx="896.0" cy="361.6" r="2.9"/>
<circle cx="923.0" cy="357.3" r="2.9"/>
<circle cx="1017.7" cy="275.9" r="2.9"/>
<circle cx="1089.9" cy="228.7" r="2.9"/>
<circle cx="1044.8" cy="245.9" r="2.9"/>
<circle cx="1004.2" cy="271.6" r="2.9"/>
<circle cx="864.4" cy="425.9" r="2.9"/>
<circle cx="837.3" cy="417.3" r="2.9"/>
<circle cx="855.4" cy="391.6" r="2.9"/>
<circle cx="1076.4" cy="233.0" r="2.9"/>
<circle cx="1026.8" cy="245.9" r="2.9"/>
<circle cx="918.5" cy="344.4" r="2.9"/>
<circle cx="923.0" cy="365.9" r="2.9"/>
<circle cx="995.2" cy="335.9" r="2.9"/>
<circle cx="819.3" cy="451.6" r="2.9"/>
<circle cx="841.8" cy="417.3" r="2.9"/>
<circle cx="954.6" cy="314.4" r="2.9"/>
<circle cx="855.4" cy="438.7" r="2.9"/>
<circle cx="1067.3" cy="237.3" r="2.9"/>
<circle cx="850.9" cy="421.6" r="2.9"/>
<circle cx="1121.5" cy="203.0" r="2.9"/>
<circle cx="868.9" cy="404.4" r="2.9"/>
<circle cx="986.2" cy="288.7" r="2.9"/>
<circle cx="972.6" cy="297.3" r="2.9"/>
<circle cx="905.0" cy="357.3" r="2.9"/>
<circle cx="846.3" cy="425.9" r="2.9"/>
<circle cx="850.9" cy="404.4" r="2.9"/>
<circle cx="968.1" cy="323.0" r="2.9"/>
<circle cx="1071.8" cy="173.0" r="2.9"/>
<circle cx="846.3" cy="425.9" r="2.9"/>
<circle cx="891.4" cy="374.4" r="2.9"/>
<circle cx="1044.8" cy="245.9" r="2.9"/>
<circle cx="963.6" cy="310.1" r="2.9"/>
<circle cx="1121.5" cy="164.4" r="2.9"/>
<circle cx="995.2" cy="293.0" r="2.9"/>
<circle cx="918.5" cy="335.9" r="2.9"/>
<circle cx="1035.8" cy="233.0" r="2.9"/>
<circle cx="850.9" cy="417.3" r="2.9"/>
<circle cx="972.6" cy="297.3" r="2.9"/>
<circle cx="972.6" cy="288.7" r="2.9"/>
<circle cx="990.7" cy="263.0" r="2.9"/>
<circle cx="1094.4" cy="185.9" r="2.9"/>
<circle cx="945.6" cy="348.7" r="2.9"/>
<circle cx="1026.8" cy="241.6" r="2.9"/>
<circle cx="950.1" cy="293.0" r="2.9"/>
<circle cx="927.5" cy="348.7" r="2.9"/>
<circle cx="972.6" cy="288.7" r="2.9"/>
<circle cx="932.0" cy="353.0" r="2.9"/>
<circle cx="900.5" cy="353.0" r="2.9"/>
<circle cx="1017.7" cy="254.4" r="2.9"/>
<circle cx="1022.2" cy="245.9" r="2.9"/>
<circle cx="846.3" cy="434.4" r="2.9"/>
<circle cx="828.3" cy="434.4" r="2.9"/>
<circle cx="959.1" cy="318.7" r="2.9"/>
<circle cx="877.9" cy="340.2" r="2.9"/>
<circle cx="999.7" cy="305.9" r="2.9"/>
<circle cx="932.0" cy="340.2" r="2.9"/>
<circle cx="972.6" cy="318.7" r="2.9"/>
<circle cx="841.8" cy="425.9" r="2.9"/>
<circle cx="1089.9" cy="207.3" r="2.9"/>
<circle cx="905.0" cy="327.3" r="2.9"/>
<circle cx="923.0" cy="370.2" r="2.9"/>
<circle cx="977.1" cy="297.3" r="2.9"/>
<circle cx="900.5" cy="370.2" r="2.9"/>
<circle cx="1080.9" cy="181.6" r="2.9"/>
<circle cx="896.0" cy="378.7" r="2.9"/>
<circle cx="1067.3" cy="203.0" r="2.9"/>
<circle cx="945.6" cy="301.6" r="2.9"/>
<circle cx="1062.8" cy="207.3" r="2.9"/>
<circle cx="864.4" cy="404.4" r="2.9"/>
<circle cx="828.3" cy="425.9" r="2.9"/>
<circle cx="1067.3" cy="194.4" r="2.9"/>
<circle cx="1013.2" cy="250.1" r="2.9"/>
<circle cx="936.5" cy="318.7" r="2.9"/>
<circle cx="1013.2" cy="250.1" r="2.9"/>
<circle cx="864.4" cy="404.4" r="2.9"/>
<circle cx="918.5" cy="331.6" r="2.9"/>
<circle cx="1062.8" cy="233.0" r="2.9"/>
<circle cx="1080.9" cy="211.6" r="2.9"/>
<circle cx="891.4" cy="383.0" r="2.9"/>
<circle cx="936.5" cy="344.4" r="2.9"/>
<circle cx="959.1" cy="297.3" r="2.9"/>
<circle cx="882.4" cy="383.0" r="2.9"/>
<circle cx="837.3" cy="434.4" r="2.9"/>
<circle cx="891.4" cy="357.3" r="2.9"/>
<circle cx="864.4" cy="340.2" r="2.9"/>
<circle cx="941.1" cy="335.9" r="2.9"/>
<circle cx="954.6" cy="340.2" r="2.9"/>
<circle cx="968.1" cy="318.7" r="2.9"/>
<circle cx="1031.3" cy="267.3" r="2.9"/>
<circle cx="954.6" cy="305.9" r="2.9"/>
<circle cx="1089.9" cy="224.4" r="2.9"/>
<circle cx="1031.3" cy="237.3" r="2.9"/>
<circle cx="936.5" cy="318.7" r="2.9"/>
<circle cx="1031.3" cy="245.9" r="2.9"/>
<circle cx="873.4" cy="408.7" r="2.9"/>
<circle cx="950.1" cy="305.9" r="2.9"/>
<circle cx="972.6" cy="301.6" r="2.9"/>
<circle cx="864.4" cy="404.4" r="2.9"/>
<circle cx="932.0" cy="340.2" r="2.9"/>
<circle cx="886.9" cy="383.0" r="2.9"/>
<circle cx="972.6" cy="310.1" r="2.9"/>
<circle cx="1035.8" cy="245.9" r="2.9"/>
<circle cx="823.8" cy="438.7" r="2.9"/>
<circle cx="986.2" cy="305.9" r="2.9"/>
<circle cx="837.3" cy="434.4" r="2.9"/>
<circle cx="859.9" cy="408.7" r="2.9"/>
<circle cx="1044.8" cy="224.4" r="2.9"/>
<circle cx="828.3" cy="447.3" r="2.9"/>
<circle cx="1103.4" cy="138.7" r="2.9"/>
<circle cx="1116.9" cy="168.7" r="2.9"/>
<circle cx="941.1" cy="335.9" r="2.9"/>
<circle cx="1062.8" cy="228.7" r="2.9"/>
<circle cx="923.0" cy="335.9" r="2.9"/>
<circle cx="823.8" cy="425.9" r="2.9"/>
<circle cx="877.9" cy="395.9" r="2.9"/>
<circle cx="968.1" cy="310.1" r="2.9"/>
<circle cx="914.0" cy="344.4" r="2.9"/>
<circle cx="1112.4" cy="181.6" r="2.9"/>
<circle cx="995.2" cy="271.6" r="2.9"/>
<circle cx="1053.8" cy="203.0" r="2.9"/>
<circle cx="1062.8" cy="241.6" r="2.9"/>
<circle cx="918.5" cy="353.0" r="2.9"/>
<circle cx="873.4" cy="404.4" r="2.9"/>
<circle cx="859.9" cy="404.4" r="2.9"/>
<circle cx="873.4" cy="408.7" r="2.9"/>
<circle cx="1130.5" cy="155.9" r="2.9"/>
<circle cx="1053.8" cy="207.3" r="2.9"/>
<circle cx="1004.2" cy="275.9" r="2.9"/>
<circle cx="864.4" cy="408.7" r="2.9"/>
<circle cx="1013.2" cy="250.1" r="2.9"/>
<circle cx="914.0" cy="340.2" r="2.9"/>
<circle cx="1026.8" cy="215.9" r="2.9"/>
<circle cx="1071.8" cy="194.4" r="2.9"/>
<circle cx="837.3" cy="430.2" r="2.9"/>
<circle cx="905.0" cy="344.4" r="2.9"/>
<circle cx="923.0" cy="353.0" r="2.9"/>
<circle cx="977.1" cy="288.7" r="2.9"/>
<circle cx="963.6" cy="297.3" r="2.9"/>
<circle cx="1008.7" cy="275.9" r="2.9"/>
<circle cx="855.4" cy="395.9" r="2.9"/>
<circle cx="891.4" cy="383.0" r="2.9"/>
<circle cx="1053.8" cy="250.1" r="2.9"/>
<circle cx="896.0" cy="370.2" r="2.9"/>
<circle cx="819.3" cy="455.9" r="2.9"/>
<circle cx="1107.9" cy="203.0" r="2.9"/>
<circle cx="999.7" cy="267.3" r="2.9"/>
<circle cx="999.7" cy="288.7" r="2.9"/>
<circle cx="1058.3" cy="194.4" r="2.9"/>
<circle cx="932.0" cy="348.7" r="2.9"/>
<circle cx="905.0" cy="365.9" r="2.9"/>
<circle cx="891.4" cy="374.4" r="2.9"/>
<circle cx="859.9" cy="400.2" r="2.9"/>
<circle cx="877.9" cy="383.0" r="2.9"/>
<circle cx="855.4" cy="408.7" r="2.9"/>
<circle cx="1008.7" cy="288.7" r="2.9"/>
<circle cx="923.0" cy="357.3" r="2.9"/>
<circle cx="828.3" cy="438.7" r="2.9"/>
<circle cx="977.1" cy="318.7" r="2.9"/>
<circle cx="819.3" cy="447.3" r="2.9"/>
<circle cx="1062.8" cy="237.3" r="2.9"/>
<circle cx="864.4" cy="408.7" r="2.9"/>
<circle cx="986.2" cy="275.9" r="2.9"/>
<circle cx="1085.4" cy="207.3" r="2.9"/>
<circle cx="986.2" cy="305.9" r="2.9"/>
<circle cx="891.4" cy="391.6" r="2.9"/>
<circle cx="1062.8" cy="228.7" r="2.9"/>
<circle cx="850.9" cy="430.2" r="2.9"/>
<circle cx="1107.9" cy="181.6" r="2.9"/>
<circle cx="864.4" cy="404.4" r="2.9"/>
<circle cx="814.8" cy="434.4" r="2.9"/>
<circle cx="923.0" cy="348.7" r="2.9"/>
<circle cx="968.1" cy="288.7" r="2.9"/>
<circle cx="968.1" cy="288.7" r="2.9"/>
<circle cx="909.5" cy="400.2" r="2.9"/>
<circle cx="900.5" cy="378.7" r="2.9"/>
<circle cx="1098.9" cy="224.4" r="2.9"/>
<circle cx="855.4" cy="425.9" r="2.9"/>
<circle cx="914.0" cy="370.2" r="2.9"/>
<circle cx="1022.2" cy="271.6" r="2.9"/>
<circle cx="905.0" cy="370.2" r="2.9"/>
<circle cx="954.6" cy="314.4" r="2.9"/>
<circle cx="841.8" cy="430.2" r="2.9"/>
<circle cx="1026.8" cy="263.0" r="2.9"/>
<circle cx="859.9" cy="365.9" r="2.9"/>
<circle cx="882.4" cy="413.0" r="2.9"/>
<circle cx="1013.2" cy="267.3" r="2.9"/>
<circle cx="1013.2" cy="275.9" r="2.9"/>
<circle cx="1049.3" cy="215.9" r="2.9"/>
<circle cx="972.6" cy="331.6" r="2.9"/>
<circle cx="1044.8" cy="224.4" r="2.9"/>
<circle cx="846.3" cy="434.4" r="2.9"/>
<circle cx="864.4" cy="353.0" r="2.9"/>
<circle cx="1103.4" cy="211.6" r="2.9"/>
<circle cx="1004.2" cy="297.3" r="2.9"/>
<circle cx="1080.9" cy="190.1" r="2.9"/>
<circle cx="828.3" cy="430.2" r="2.9"/>
<circle cx="891.4" cy="387.3" r="2.9"/>
<circle cx="905.0" cy="391.6" r="2.9"/>
<circle cx="918.5" cy="361.6" r="2.9"/>
<circle cx="1035.8" cy="237.3" r="2.9"/>
<circle cx="986.2" cy="305.9" r="2.9"/>
<circle cx="1112.4" cy="203.0" r="2.9"/>
<circle cx="1035.8" cy="228.7" r="2.9"/>
<circle cx="859.9" cy="387.3" r="2.9"/>
<circle cx="950.1" cy="301.6" r="2.9"/>
<circle cx="905.0" cy="348.7" r="2.9"/>
<circle cx="986.2" cy="288.7" r="2.9"/>
<circle cx="877.9" cy="404.4" r="2.9"/>
<circle cx="828.3" cy="425.9" r="2.9"/>
<circle cx="832.8" cy="443.0" r="2.9"/>
<circle cx="945.6" cy="318.7" r="2.9"/>
<circle cx="950.1" cy="327.3" r="2.9"/>
<circle cx="1040.3" cy="250.1" r="2.9"/>
<circle cx="995.2" cy="280.1" r="2.9"/>
<circle cx="891.4" cy="353.0" r="2.9"/>
<circle cx="936.5" cy="353.0" r="2.9"/>
<circle cx="1013.2" cy="267.3" r="2.9"/>
<circle cx="846.3" cy="400.2" r="2.9"/>
<circle cx="900.5" cy="353.0" r="2.9"/>
<circle cx="814.8" cy="400.2" r="2.9"/>
<circle cx="959.1" cy="305.9" r="2.9"/>
<circle cx="923.0" cy="378.7" r="2.9"/>
<circle cx="1044.8" cy="177.3" r="2.9"/>
<circle cx="1089.9" cy="224.4" r="2.9"/>
<circle cx="1071.8" cy="181.6" r="2.9"/>
<circle cx="923.0" cy="357.3" r="2.9"/>
<circle cx="995.2" cy="275.9" r="2.9"/>
<circle cx="909.5" cy="378.7" r="2.9"/>
<circle cx="1071.8" cy="215.9" r="2.9"/>
<circle cx="1022.2" cy="250.1" r="2.9"/>
<circle cx="1022.2" cy="288.7" r="2.9"/>
<circle cx="841.8" cy="434.4" r="2.9"/>
<circle cx="909.5" cy="365.9" r="2.9"/>
<circle cx="927.5" cy="344.4" r="2.9"/>
<circle cx="963.6" cy="301.6" r="2.9"/>
<circle cx="900.5" cy="374.4" r="2.9"/>
<circle cx="841.8" cy="413.0" r="2.9"/>
<circle cx="873.4" cy="400.2" r="2.9"/>
<circle cx="1008.7" cy="267.3" r="2.9"/>
<circle cx="1089.9" cy="181.6" r="2.9"/>
<circle cx="864.4" cy="430.2" r="2.9"/>
<circle cx="990.7" cy="245.9" r="2.9"/>
<circle cx="990.7" cy="284.4" r="2.9"/>
<circle cx="1053.8" cy="203.0" r="2.9"/>
<circle cx="954.6" cy="331.6" r="2.9"/>
<circle cx="1004.2" cy="280.1" r="2.9"/>
<circle cx="999.7" cy="297.3" r="2.9"/>
<circle cx="981.6" cy="288.7" r="2.9"/>
<circle cx="954.6" cy="297.3" r="2.9"/>
<circle cx="977.1" cy="297.3" r="2.9"/>
<circle cx="1080.9" cy="190.1" r="2.9"/>
<circle cx="1017.7" cy="245.9" r="2.9"/>
<circle cx="1017.7" cy="245.9" r="2.9"/>
<circle cx="846.3" cy="425.9" r="2.9"/>
<circle cx="950.1" cy="323.0" r="2.9"/>
<circle cx="1085.4" cy="160.1" r="2.9"/>
<circle cx="1035.8" cy="305.9" r="2.9"/>
<circle cx="1058.3" cy="228.7" r="2.9"/>
<circle cx="941.1" cy="348.7" r="2.9"/>
<circle cx="1053.8" cy="224.4" r="2.9"/>
<circle cx="832.8" cy="425.9" r="2.9"/>
<circle cx="1031.3" cy="267.3" r="2.9"/>
<circle cx="1053.8" cy="228.7" r="2.9"/>
<circle cx="968.1" cy="284.4" r="2.9"/>
<circle cx="914.0" cy="357.3" r="2.9"/>
<circle cx="1053.8" cy="224.4" r="2.9"/>
<circle cx="846.3" cy="417.3" r="2.9"/>
<circle cx="986.2" cy="275.9" r="2.9"/>
<circle cx="832.8" cy="425.9" r="2.9"/>
<circle cx="1058.3" cy="228.7" r="2.9"/>
<circle cx="868.9" cy="391.6" r="2.9"/>
<circle cx="909.5" cy="374.4" r="2.9"/>
<circle cx="981.6" cy="275.9" r="2.9"/>
<circle cx="864.4" cy="391.6" r="2.9"/>
<circle cx="850.9" cy="378.7" r="2.9"/>
<circle cx="914.0" cy="365.9" r="2.9"/>
<circle cx="1130.5" cy="173.0" r="2.9"/>
<circle cx="900.5" cy="395.9" r="2.9"/>
<circle cx="855.4" cy="421.6" r="2.9"/>
<circle cx="927.5" cy="361.6" r="2.9"/>
<circle cx="954.6" cy="305.9" r="2.9"/>
<circle cx="877.9" cy="400.2" r="2.9"/>
<circle cx="891.4" cy="374.4" r="2.9"/>
<circle cx="999.7" cy="293.0" r="2.9"/>
<circle cx="1080.9" cy="233.0" r="2.9"/>
<circle cx="936.5" cy="310.1" r="2.9"/>
<circle cx="936.5" cy="331.6" r="2.9"/>
<circle cx="896.0" cy="383.0" r="2.9"/>
<circle cx="927.5" cy="370.2" r="2.9"/>
<circle cx="1067.3" cy="215.9" r="2.9"/>
<circle cx="1040.3" cy="220.1" r="2.9"/>
<circle cx="977.1" cy="310.1" r="2.9"/>
<circle cx="837.3" cy="434.4" r="2.9"/>
<circle cx="918.5" cy="361.6" r="2.9"/>
<circle cx="1067.3" cy="250.1" r="2.9"/>
<circle cx="819.3" cy="455.9" r="2.9"/>
<circle cx="941.1" cy="348.7" r="2.9"/>
<circle cx="999.7" cy="318.7" r="2.9"/>
<circle cx="1130.5" cy="194.4" r="2.9"/>
<circle cx="1044.8" cy="258.7" r="2.9"/>
<circle cx="832.8" cy="451.6" r="2.9"/>
<circle cx="923.0" cy="357.3" r="2.9"/>
<circle cx="868.9" cy="408.7" r="2.9"/>
<circle cx="850.9" cy="417.3" r="2.9"/>
<circle cx="859.9" cy="421.6" r="2.9"/>
<circle cx="882.4" cy="404.4" r="2.9"/>
<circle cx="1017.7" cy="263.0" r="2.9"/>
<circle cx="814.8" cy="455.9" r="2.9"/>
<circle cx="1089.9" cy="194.4" r="2.9"/>
<circle cx="963.6" cy="314.4" r="2.9"/>
<circle cx="841.8" cy="425.9" r="2.9"/>
<circle cx="846.3" cy="434.4" r="2.9"/>
<circle cx="850.9" cy="404.4" r="2.9"/>
<circle cx="1031.3" cy="237.3" r="2.9"/>
<circle cx="927.5" cy="335.9" r="2.9"/>
<circle cx="968.1" cy="305.9" r="2.9"/>
<circle cx="1049.3" cy="203.0" r="2.9"/>
<circle cx="1103.4" cy="155.9" r="2.9"/>
<circle cx="927.5" cy="370.2" r="2.9"/>
<circle cx="927.5" cy="348.7" r="2.9"/>
<circle cx="1017.7" cy="233.0" r="2.9"/>
<circle cx="855.4" cy="417.3" r="2.9"/>
<circle cx="896.0" cy="357.3" r="2.9"/>
<circle cx="823.8" cy="447.3" r="2.9"/>
<circle cx="832.8" cy="434.4" r="2.9"/>
<circle cx="905.0" cy="361.6" r="2.9"/>
<circle cx="995.2" cy="250.1" r="2.9"/>
<circle cx="954.6" cy="348.7" r="2.9"/>
<circle cx="923.0" cy="357.3" r="2.9"/>
<circle cx="914.0" cy="335.9" r="2.9"/>
<circle cx="945.6" cy="340.2" r="2.9"/>
<circle cx="828.3" cy="430.2" r="2.9"/>
<circle cx="828.3" cy="455.9" r="2.9"/>
<circle cx="873.4" cy="387.3" r="2.9"/>
<circle cx="950.1" cy="314.4" r="2.9"/>
<circle cx="1022.2" cy="263.0" r="2.9"/>
<circle cx="1098.9" cy="147.3" r="2.9"/>
<circle cx="914.0" cy="383.0" r="2.9"/>
<circle cx="914.0" cy="365.9" r="2.9"/>
<circle cx="900.5" cy="353.0" r="2.9"/>
<circle cx="959.1" cy="310.1" r="2.9"/>
<circle cx="882.4" cy="391.6" r="2.9"/>
<circle cx="1053.8" cy="194.4" r="2.9"/>
<circle cx="891.4" cy="383.0" r="2.9"/>
<circle cx="1044.8" cy="245.9" r="2.9"/>
<circle cx="900.5" cy="361.6" r="2.9"/>
<circle cx="828.3" cy="455.9" r="2.9"/>
<circle cx="823.8" cy="455.9" r="2.9"/>
<circle cx="990.7" cy="275.9" r="2.9"/>
<circle cx="972.6" cy="314.4" r="2.9"/>
<circle cx="1004.2" cy="297.3" r="2.9"/>
<circle cx="1076.4" cy="173.0" r="2.9"/>
<circle cx="1022.2" cy="245.9" r="2.9"/>
<circle cx="936.5" cy="344.4" r="2.9"/>
<circle cx="1017.7" cy="233.0" r="2.9"/>
<circle cx="999.7" cy="258.7" r="2.9"/>
<circle cx="846.3" cy="417.3" r="2.9"/>
<circle cx="968.1" cy="301.6" r="2.9"/>
<circle cx="873.4" cy="413.0" r="2.9"/>
<circle cx="846.3" cy="417.3" r="2.9"/>
<circle cx="945.6" cy="314.4" r="2.9"/>
<circle cx="999.7" cy="275.9" r="2.9"/>
<circle cx="950.1" cy="331.6" r="2.9"/>
<circle cx="841.8" cy="438.7" r="2.9"/>
<circle cx="859.9" cy="417.3" r="2.9"/>
<circle cx="859.9" cy="413.0" r="2.9"/>
<circle cx="977.1" cy="318.7" r="2.9"/>
<circle cx="1049.3" cy="237.3" r="2.9"/>
<circle cx="977.1" cy="348.7" r="2.9"/>
<circle cx="1008.7" cy="267.3" r="2.9"/>
<circle cx="886.9" cy="387.3" r="2.9"/>
<circle cx="828.3" cy="455.9" r="2.9"/>
<circle cx="918.5" cy="357.3" r="2.9"/>
<circle cx="968.1" cy="327.3" r="2.9"/>
<circle cx="1071.8" cy="237.3" r="2.9"/>
<circle cx="1022.2" cy="241.6" r="2.9"/>
<circle cx="823.8" cy="425.9" r="2.9"/>
<circle cx="972.6" cy="318.7" r="2.9"/>
<circle cx="1089.9" cy="203.0" r="2.9"/>
<circle cx="1035.8" cy="215.9" r="2.9"/>
<circle cx="868.9" cy="387.3" r="2.9"/>
<circle cx="981.6" cy="275.9" r="2.9"/>
<circle cx="1067.3" cy="190.1" r="2.9"/>
<circle cx="1004.2" cy="305.9" r="2.9"/>
<circle cx="896.0" cy="348.7" r="2.9"/>
<circle cx="1017.7" cy="250.1" r="2.9"/>
<circle cx="963.6" cy="314.4" r="2.9"/>
<circle cx="850.9" cy="408.7" r="2.9"/>
<circle cx="886.9" cy="387.3" r="2.9"/>
<circle cx="1058.3" cy="207.3" r="2.9"/>
<circle cx="1053.8" cy="211.6" r="2.9"/>
<circle cx="1017.7" cy="284.4" r="2.9"/>
<circle cx="995.2" cy="258.7" r="2.9"/>
<circle cx="828.3" cy="447.3" r="2.9"/>
<circle cx="914.0" cy="357.3" r="2.9"/>
<circle cx="914.0" cy="370.2" r="2.9"/>
<circle cx="1085.4" cy="228.7" r="2.9"/>
<circle cx="877.9" cy="395.9" r="2.9"/>
<circle cx="841.8" cy="400.2" r="2.9"/>
<circle cx="1067.3" cy="181.6" r="2.9"/>
<circle cx="1121.5" cy="147.3" r="2.9"/>
<circle cx="999.7" cy="275.9" r="2.9"/>
<circle cx="1116.9" cy="168.7" r="2.9"/>
<circle cx="1053.8" cy="203.0" r="2.9"/>
<circle cx="959.1" cy="310.1" r="2.9"/>
<circle cx="950.1" cy="305.9" r="2.9"/>
<circle cx="1008.7" cy="280.1" r="2.9"/>
<circle cx="950.1" cy="365.9" r="2.9"/>
<circle cx="850.9" cy="430.2" r="2.9"/>
<circle cx="905.0" cy="378.7" r="2.9"/>
<circle cx="1089.9" cy="245.9" r="2.9"/>
<circle cx="1053.8" cy="224.4" r="2.9"/>
<circle cx="977.1" cy="301.6" r="2.9"/>
<circle cx="986.2" cy="297.3" r="2.9"/>
<circle cx="959.1" cy="314.4" r="2.9"/>
<circle cx="1058.3" cy="220.1" r="2.9"/>
<circle cx="1044.8" cy="245.9" r="2.9"/>
<circle cx="1022.2" cy="280.1" r="2.9"/>
<circle cx="814.8" cy="434.4" r="2.9"/>
<circle cx="1044.8" cy="224.4" r="2.9"/>
<circle cx="905.0" cy="370.2" r="2.9"/>
<circle cx="886.9" cy="383.0" r="2.9"/>
<circle cx="959.1" cy="331.6" r="2.9"/>
<circle cx="877.9" cy="374.4" r="2.9"/>
<circle cx="859.9" cy="404.4" r="2.9"/>
<circle cx="1031.3" cy="237.3" r="2.9"/>
<circle cx="877.9" cy="400.2" r="2.9"/>
<circle cx="882.4" cy="400.2" r="2.9"/>
<circle cx="864.4" cy="404.4" r="2.9"/>
<circle cx="1017.7" cy="245.9" r="2.9"/>
<circle cx="1035.8" cy="254.4" r="2.9"/>
<circle cx="882.4" cy="391.6" r="2.9"/>
<circle cx="927.5" cy="331.6" r="2.9"/>
<circle cx="1071.8" cy="215.9" r="2.9"/>
<circle cx="923.0" cy="335.9" r="2.9"/>
<circle cx="905.0" cy="348.7" r="2.9"/>
<circle cx="918.5" cy="361.6" r="2.9"/>
<circle cx="945.6" cy="310.1" r="2.9"/>
<circle cx="814.8" cy="464.4" r="2.9"/>
<circle cx="1071.8" cy="203.0" r="2.9"/>
<circle cx="1098.9" cy="177.3" r="2.9"/>
<circle cx="909.5" cy="357.3" r="2.9"/>
<circle cx="1089.9" cy="203.0" r="2.9"/>
<circle cx="850.9" cy="430.2" r="2.9"/>
<circle cx="1089.9" cy="237.3" r="2.9"/>
<circle cx="918.5" cy="348.7" r="2.9"/>
<circle cx="832.8" cy="430.2" r="2.9"/>
<circle cx="909.5" cy="353.0" r="2.9"/>
<circle cx="846.3" cy="421.6" r="2.9"/>
<circle cx="963.6" cy="340.2" r="2.9"/>
<circle cx="1089.9" cy="211.6" r="2.9"/>
<circle cx="900.5" cy="365.9" r="2.9"/>
<circle cx="1076.4" cy="220.1" r="2.9"/>
<circle cx="972.6" cy="305.9" r="2.9"/>
<circle cx="1035.8" cy="224.4" r="2.9"/>
<circle cx="1049.3" cy="237.3" r="2.9"/>
<circle cx="864.4" cy="353.0" r="2.9"/>
<circle cx="1026.8" cy="258.7" r="2.9"/>
<circle cx="859.9" cy="408.7" r="2.9"/>
<circle cx="873.4" cy="387.3" r="2.9"/>
<circle cx="950.1" cy="323.0" r="2.9"/>
<circle cx="941.1" cy="331.6" r="2.9"/>
<circle cx="823.8" cy="443.0" r="2.9"/>
<circle cx="986.2" cy="305.9" r="2.9"/>
<circle cx="900.5" cy="361.6" r="2.9"/>
<circle cx="1062.8" cy="241.6" r="2.9"/>
<circle cx="941.1" cy="344.4" r="2.9"/>
<circle cx="1071.8" cy="207.3" r="2.9"/>
<circle cx="1062.8" cy="173.0" r="2.9"/>
<circle cx="954.6" cy="310.1" r="2.9"/>
<circle cx="1013.2" cy="267.3" r="2.9"/>
<circle cx="977.1" cy="275.9" r="2.9"/>
<circle cx="841.8" cy="404.4" r="2.9"/>
<circle cx="909.5" cy="378.7" r="2.9"/>
<circle cx="954.6" cy="327.3" r="2.9"/>
<circle cx="814.8" cy="460.2" r="2.9"/>
<circle cx="990.7" cy="288.7" r="2.9"/>
<circle cx="837.3" cy="443.0" r="2.9"/>
<circle cx="1103.4" cy="181.6" r="2.9"/>
<circle cx="936.5" cy="314.4" r="2.9"/>
<circle cx="1044.8" cy="220.1" r="2.9"/>
<circle cx="882.4" cy="374.4" r="2.9"/>
<circle cx="968.1" cy="323.0" r="2.9"/>
<circle cx="950.1" cy="340.2" r="2.9"/>
<circle cx="954.6" cy="318.7" r="2.9"/>
<circle cx="868.9" cy="395.9" r="2.9"/>
<circle cx="1112.4" cy="134.4" r="2.9"/>
<circle cx="1004.2" cy="267.3" r="2.9"/>
<circle cx="1035.8" cy="275.9" r="2.9"/>
<circle cx="1040.3" cy="245.9" r="2.9"/>
<circle cx="819.3" cy="438.7" r="2.9"/>
<circle cx="909.5" cy="357.3" r="2.9"/>
<circle cx="1080.9" cy="233.0" r="2.9"/>
<circle cx="832.8" cy="438.7" r="2.9"/>
<circle cx="1058.3" cy="233.0" r="2.9"/>
<circle cx="864.4" cy="413.0" r="2.9"/>
<circle cx="986.2" cy="323.0" r="2.9"/>
<circle cx="1017.7" cy="228.7" r="2.9"/>
<circle cx="1031.3" cy="237.3" r="2.9"/>
<circle cx="972.6" cy="280.1" r="2.9"/>
<circle cx="918.5" cy="361.6" r="2.9"/>
<circle cx="819.3" cy="438.7" r="2.9"/>
<circle cx="995.2" cy="258.7" r="2.9"/>
<circle cx="1008.7" cy="288.7" r="2.9"/>
<circle cx="864.4" cy="408.7" r="2.9"/>
<circle cx="1004.2" cy="258.7" r="2.9"/>
<circle cx="1071.8" cy="220.1" r="2.9"/>
<circle cx="1089.9" cy="237.3" r="2.9"/>
<circle cx="905.0" cy="395.9" r="2.9"/>
<circle cx="959.1" cy="323.0" r="2.9"/>
<circle cx="963.6" cy="314.4" r="2.9"/>
<circle cx="1022.2" cy="258.7" r="2.9"/>
<circle cx="877.9" cy="383.0" r="2.9"/>
<circle cx="832.8" cy="425.9" r="2.9"/>
<circle cx="1089.9" cy="190.1" r="2.9"/>
<circle cx="927.5" cy="357.3" r="2.9"/>
<circle cx="1094.4" cy="181.6" r="2.9"/>
<circle cx="932.0" cy="353.0" r="2.9"/>
<circle cx="990.7" cy="318.7" r="2.9"/>
<circle cx="1067.3" cy="215.9" r="2.9"/>
<circle cx="959.1" cy="297.3" r="2.9"/>
<circle cx="1026.8" cy="245.9" r="2.9"/>
<circle cx="886.9" cy="383.0" r="2.9"/>
<circle cx="1017.7" cy="275.9" r="2.9"/>
<circle cx="1008.7" cy="241.6" r="2.9"/>
<circle cx="932.0" cy="327.3" r="2.9"/>
<circle cx="1062.8" cy="194.4" r="2.9"/>
<circle cx="1008.7" cy="267.3" r="2.9"/>
<circle cx="846.3" cy="438.7" r="2.9"/>
<circle cx="923.0" cy="344.4" r="2.9"/>
<circle cx="1004.2" cy="280.1" r="2.9"/>
<circle cx="846.3" cy="421.6" r="2.9"/>
<circle cx="832.8" cy="434.4" r="2.9"/>
<circle cx="945.6" cy="297.3" r="2.9"/>
<circle cx="950.1" cy="301.6" r="2.9"/>
<circle cx="900.5" cy="365.9" r="2.9"/>
<circle cx="873.4" cy="400.2" r="2.9"/>
<circle cx="954.6" cy="335.9" r="2.9"/>
<circle cx="882.4" cy="383.0" r="2.9"/>
<circle cx="1008.7" cy="288.7" r="2.9"/>
<circle cx="941.1" cy="331.6" r="2.9"/>
<circle cx="986.2" cy="305.9" r="2.9"/>
<circle cx="941.1" cy="327.3" r="2.9"/>
<circle cx="1062.8" cy="241.6" r="2.9"/>
<circle cx="1107.9" cy="173.0" r="2.9"/>
<circle cx="923.0" cy="361.6" r="2.9"/>
<circle cx="1013.2" cy="297.3" r="2.9"/>
<circle cx="995.2" cy="293.0" r="2.9"/>
<circle cx="877.9" cy="404.4" r="2.9"/>
<circle cx="963.6" cy="297.3" r="2.9"/>
<circle cx="819.3" cy="451.6" r="2.9"/>
<circle cx="1026.8" cy="258.7" r="2.9"/>
<circle cx="923.0" cy="331.6" r="2.9"/>
<circle cx="868.9" cy="400.2" r="2.9"/>
<circle cx="1040.3" cy="245.9" r="2.9"/>
<circle cx="923.0" cy="370.2" r="2.9"/>
<circle cx="1022.2" cy="275.9" r="2.9"/>
<circle cx="882.4" cy="395.9" r="2.9"/>
<circle cx="1121.5" cy="194.4" r="2.9"/>
<circle cx="1031.3" cy="267.3" r="2.9"/>
<circle cx="891.4" cy="361.6" r="2.9"/>
<circle cx="959.1" cy="327.3" r="2.9"/>
<circle cx="1067.3" cy="215.9" r="2.9"/>
<circle cx="891.4" cy="374.4" r="2.9"/>
<circle cx="981.6" cy="314.4" r="2.9"/>
<circle cx="959.1" cy="297.3" r="2.9"/>
<circle cx="909.5" cy="365.9" r="2.9"/>
<circle cx="832.8" cy="443.0" r="2.9"/>
<circle cx="1044.8" cy="207.3" r="2.9"/>
<circle cx="886.9" cy="378.7" r="2.9"/>
<circle cx="918.5" cy="361.6" r="2.9"/>
<circle cx="1058.3" cy="237.3" r="2.9"/>
<circle cx="882.4" cy="378.7" r="2.9"/>
<circle cx="1035.8" cy="245.9" r="2.9"/>
<circle cx="1008.7" cy="271.6" r="2.9"/>
<circle cx="873.4" cy="421.6" r="2.9"/>
<circle cx="1008.7" cy="293.0" r="2.9"/>
<circle cx="945.6" cy="301.6" r="2.9"/>
<circle cx="936.5" cy="331.6" r="2.9"/>
<circle cx="1121.5" cy="194.4" r="2.9"/>
<circle cx="873.4" cy="404.4" r="2.9"/>
<circle cx="909.5" cy="370.2" r="2.9"/>
<circle cx="932.0" cy="327.3" r="2.9"/>
<circle cx="859.9" cy="434.4" r="2.9"/>
<circle cx="1008.7" cy="263.0" r="2.9"/>
<circle cx="877.9" cy="365.9" r="2.9"/>
<circle cx="877.9" cy="395.9" r="2.9"/>
<circle cx="828.3" cy="443.0" r="2.9"/>
<circle cx="963.6" cy="314.4" r="2.9"/>
<circle cx="909.5" cy="344.4" r="2.9"/>
<circle cx="828.3" cy="413.0" r="2.9"/>
<circle cx="859.9" cy="408.7" r="2.9"/>
<circle cx="999.7" cy="284.4" r="2.9"/>
<circle cx="891.4" cy="391.6" r="2.9"/>
<circle cx="914.0" cy="365.9" r="2.9"/>
<circle cx="886.9" cy="365.9" r="2.9"/>
<circle cx="886.9" cy="357.3" r="2.9"/>
<circle cx="954.6" cy="335.9" r="2.9"/>
<circle cx="1062.8" cy="220.1" r="2.9"/>
<circle cx="1004.2" cy="301.6" r="2.9"/>
<circle cx="927.5" cy="361.6" r="2.9"/>
<circle cx="959.1" cy="305.9" r="2.9"/>
<circle cx="1031.3" cy="233.0" r="2.9"/>
<circle cx="896.0" cy="353.0" r="2.9"/>
<circle cx="891.4" cy="374.4" r="2.9"/>
<circle cx="1058.3" cy="207.3" r="2.9"/>
<circle cx="1022.2" cy="284.4" r="2.9"/>
<circle cx="923.0" cy="383.0" r="2.9"/>
<circle cx="1076.4" cy="224.4" r="2.9"/>
<circle cx="832.8" cy="434.4" r="2.9"/>
<circle cx="954.6" cy="275.9" r="2.9"/>
<circle cx="1053.8" cy="288.7" r="2.9"/>
<circle cx="1130.5" cy="147.3" r="2.9"/>
<circle cx="990.7" cy="245.9" r="2.9"/>
<circle cx="936.5" cy="353.0" r="2.9"/>
<circle cx="977.1" cy="310.1" r="2.9"/>
<circle cx="1067.3" cy="224.4" r="2.9"/>
<circle cx="873.4" cy="413.0" r="2.9"/>
<circle cx="972.6" cy="297.3" r="2.9"/>
<circle cx="819.3" cy="447.3" r="2.9"/>
<circle cx="832.8" cy="417.3" r="2.9"/>
<circle cx="905.0" cy="344.4" r="2.9"/>
<circle cx="990.7" cy="293.0" r="2.9"/>
<circle cx="1026.8" cy="185.9" r="2.9"/>
<circle cx="850.9" cy="413.0" r="2.9"/>
<circle cx="819.3" cy="443.0" r="2.9"/>
<circle cx="900.5" cy="357.3" r="2.9"/>
<circle cx="1044.8" cy="228.7" r="2.9"/>
<circle cx="1085.4" cy="155.9" r="2.9"/>
<circle cx="1044.8" cy="245.9" r="2.9"/>
<circle cx="1013.2" cy="258.7" r="2.9"/>
<circle cx="877.9" cy="378.7" r="2.9"/>
<circle cx="1076.4" cy="211.6" r="2.9"/>
<circle cx="877.9" cy="400.2" r="2.9"/>
<circle cx="1049.3" cy="250.1" r="2.9"/>
<circle cx="986.2" cy="340.2" r="2.9"/>
<circle cx="1013.2" cy="275.9" r="2.9"/>
<circle cx="918.5" cy="357.3" r="2.9"/>
<circle cx="828.3" cy="408.7" r="2.9"/>
<circle cx="905.0" cy="361.6" r="2.9"/>
<circle cx="977.1" cy="293.0" r="2.9"/>
<circle cx="950.1" cy="331.6" r="2.9"/>
<circle cx="972.6" cy="305.9" r="2.9"/>
<circle cx="832.8" cy="430.2" r="2.9"/>
<circle cx="823.8" cy="438.7" r="2.9"/>
<circle cx="986.2" cy="275.9" r="2.9"/>
<circle cx="1026.8" cy="254.4" r="2.9"/>
<circle cx="855.4" cy="417.3" r="2.9"/>
<circle cx="823.8" cy="421.6" r="2.9"/>
<circle cx="837.3" cy="413.0" r="2.9"/>
<circle cx="1076.4" cy="220.1" r="2.9"/>
<circle cx="864.4" cy="391.6" r="2.9"/>
<circle cx="859.9" cy="391.6" r="2.9"/>
<circle cx="963.6" cy="318.7" r="2.9"/>
<circle cx="954.6" cy="314.4" r="2.9"/>
<circle cx="945.6" cy="310.1" r="2.9"/>
<circle cx="905.0" cy="344.4" r="2.9"/>
<circle cx="923.0" cy="365.9" r="2.9"/>
<circle cx="1085.4" cy="185.9" r="2.9"/>
<circle cx="918.5" cy="344.4" r="2.9"/>
<circle cx="1071.8" cy="194.4" r="2.9"/>
<circle cx="1022.2" cy="254.4" r="2.9"/>
<circle cx="1008.7" cy="263.0" r="2.9"/>
<circle cx="1053.8" cy="237.3" r="2.9"/>
<circle cx="841.8" cy="408.7" r="2.9"/>
<circle cx="914.0" cy="361.6" r="2.9"/>
<circle cx="1094.4" cy="168.7" r="2.9"/>
<circle cx="1148.5" cy="160.1" r="2.9"/>
<circle cx="995.2" cy="275.9" r="2.9"/>
<circle cx="968.1" cy="310.1" r="2.9"/>
<circle cx="1031.3" cy="224.4" r="2.9"/>
<circle cx="905.0" cy="361.6" r="2.9"/>
<circle cx="864.4" cy="430.2" r="2.9"/>
<circle cx="886.9" cy="374.4" r="2.9"/>
<circle cx="1008.7" cy="258.7" r="2.9"/>
<circle cx="968.1" cy="280.1" r="2.9"/>
<circle cx="814.8" cy="451.6" r="2.9"/>
<circle cx="891.4" cy="383.0" r="2.9"/>
<circle cx="990.7" cy="263.0" r="2.9"/>
<circle cx="945.6" cy="318.7" r="2.9"/>
<circle cx="1053.8" cy="211.6" r="2.9"/>
<circle cx="923.0" cy="357.3" r="2.9"/>
<circle cx="1022.2" cy="288.7" r="2.9"/>
<circle cx="1031.3" cy="245.9" r="2.9"/>
<circle cx="868.9" cy="400.2" r="2.9"/>
<circle cx="927.5" cy="335.9" r="2.9"/>
<circle cx="999.7" cy="254.4" r="2.9"/>
<circle cx="828.3" cy="438.7" r="2.9"/>
<circle cx="1044.8" cy="233.0" r="2.9"/>
<circle cx="963.6" cy="288.7" r="2.9"/>
<circle cx="990.7" cy="271.6" r="2.9"/>
<circle cx="859.9" cy="395.9" r="2.9"/>
<circle cx="981.6" cy="288.7" r="2.9"/>
<circle cx="909.5" cy="348.7" r="2.9"/>
<circle cx="1062.8" cy="198.7" r="2.9"/>
<circle cx="977.1" cy="284.4" r="2.9"/>
<circle cx="891.4" cy="395.9" r="2.9"/>
<circle cx="990.7" cy="293.0" r="2.9"/>
<circle cx="886.9" cy="383.0" r="2.9"/>
<circle cx="954.6" cy="327.3" r="2.9"/>
<circle cx="981.6" cy="297.3" r="2.9"/>
<circle cx="1126.0" cy="155.9" r="2.9"/>
<circle cx="954.6" cy="335.9" r="2.9"/>
<circle cx="923.0" cy="335.9" r="2.9"/>
<circle cx="945.6" cy="340.2" r="2.9"/>
<circle cx="1153.0" cy="108.7" r="2.9"/>
<circle cx="1004.2" cy="271.6" r="2.9"/>
<circle cx="981.6" cy="288.7" r="2.9"/>
<circle cx="936.5" cy="344.4" r="2.9"/>
<circle cx="873.4" cy="370.2" r="2.9"/>
<circle cx="850.9" cy="430.2" r="2.9"/>
<circle cx="1062.8" cy="220.1" r="2.9"/>
<circle cx="873.4" cy="404.4" r="2.9"/>
<circle cx="981.6" cy="258.7" r="2.9"/>
<circle cx="850.9" cy="408.7" r="2.9"/>
<circle cx="841.8" cy="408.7" r="2.9"/>
<circle cx="1067.3" cy="211.6" r="2.9"/>
<circle cx="868.9" cy="383.0" r="2.9"/>
<circle cx="896.0" cy="370.2" r="2.9"/>
<circle cx="868.9" cy="404.4" r="2.9"/>
<circle cx="1089.9" cy="203.0" r="2.9"/>
<circle cx="900.5" cy="378.7" r="2.9"/>
<circle cx="823.8" cy="468.7" r="2.9"/>
<circle cx="850.9" cy="447.3" r="2.9"/>
<circle cx="882.4" cy="400.2" r="2.9"/>
<circle cx="900.5" cy="361.6" r="2.9"/>
<circle cx="905.0" cy="348.7" r="2.9"/>
<circle cx="1008.7" cy="254.4" r="2.9"/>
<circle cx="837.3" cy="421.6" r="2.9"/>
<circle cx="990.7" cy="258.7" r="2.9"/>
<circle cx="914.0" cy="340.2" r="2.9"/>
<circle cx="846.3" cy="395.9" r="2.9"/>
<circle cx="981.6" cy="318.7" r="2.9"/>
<circle cx="1058.3" cy="250.1" r="2.9"/>
<circle cx="927.5" cy="357.3" r="2.9"/>
<circle cx="914.0" cy="370.2" r="2.9"/>
<circle cx="909.5" cy="383.0" r="2.9"/>
<circle cx="999.7" cy="250.1" r="2.9"/>
<circle cx="918.5" cy="361.6" r="2.9"/>
<circle cx="841.8" cy="434.4" r="2.9"/>
<circle cx="1076.4" cy="198.7" r="2.9"/>
<circle cx="850.9" cy="404.4" r="2.9"/>
<circle cx="882.4" cy="387.3" r="2.9"/>
<circle cx="909.5" cy="374.4" r="2.9"/>
<circle cx="868.9" cy="404.4" r="2.9"/>
<circle cx="1017.7" cy="220.1" r="2.9"/>
<circle cx="905.0" cy="387.3" r="2.9"/>
<circle cx="846.3" cy="404.4" r="2.9"/>
<circle cx="814.8" cy="443.0" r="2.9"/>
<circle cx="981.6" cy="297.3" r="2.9"/>
<circle cx="909.5" cy="361.6" r="2.9"/>
<circle cx="914.0" cy="331.6" r="2.9"/>
<circle cx="846.3" cy="434.4" r="2.9"/>
<circle cx="837.3" cy="434.4" r="2.9"/>
<circle cx="927.5" cy="318.7" r="2.9"/>
<circle cx="1067.3" cy="160.1" r="2.9"/>
<circle cx="1026.8" cy="267.3" r="2.9"/>
<circle cx="999.7" cy="297.3" r="2.9"/>
<circle cx="959.1" cy="335.9" r="2.9"/>
<circle cx="1004.2" cy="263.0" r="2.9"/>
<circle cx="1031.3" cy="245.9" r="2.9"/>
<circle cx="823.8" cy="447.3" r="2.9"/>
<circle cx="1094.4" cy="203.0" r="2.9"/>
<circle cx="972.6" cy="288.7" r="2.9"/>
<circle cx="1031.3" cy="271.6" r="2.9"/>
<circle cx="814.8" cy="434.4" r="2.9"/>
<circle cx="837.3" cy="430.2" r="2.9"/>
<circle cx="1026.8" cy="258.7" r="2.9"/>
<circle cx="999.7" cy="301.6" r="2.9"/>
<circle cx="941.1" cy="323.0" r="2.9"/>
<circle cx="999.7" cy="271.6" r="2.9"/>
<circle cx="963.6" cy="310.1" r="2.9"/>
<circle cx="814.8" cy="430.2" r="2.9"/>
<circle cx="855.4" cy="417.3" r="2.9"/>
<circle cx="1107.9" cy="164.4" r="2.9"/>
<circle cx="1085.4" cy="168.7" r="2.9"/>
<circle cx="846.3" cy="417.3" r="2.9"/>
<circle cx="1071.8" cy="198.7" r="2.9"/>
<circle cx="846.3" cy="430.2" r="2.9"/>
<circle cx="1013.2" cy="254.4" r="2.9"/>
<circle cx="936.5" cy="357.3" r="2.9"/>
<circle cx="941.1" cy="331.6" r="2.9"/>
<circle cx="1013.2" cy="280.1" r="2.9"/>
<circle cx="823.8" cy="430.2" r="2.9"/>
<circle cx="914.0" cy="353.0" r="2.9"/>
<circle cx="1085.4" cy="198.7" r="2.9"/>
<circle cx="819.3" cy="451.6" r="2.9"/>
<circle cx="850.9" cy="408.7" r="2.9"/>
<circle cx="1049.3" cy="237.3" r="2.9"/>
<circle cx="814.8" cy="451.6" r="2.9"/>
<circle cx="1035.8" cy="254.4" r="2.9"/>
<circle cx="1026.8" cy="237.3" r="2.9"/>
<circle cx="896.0" cy="391.6" r="2.9"/>
<circle cx="1035.8" cy="241.6" r="2.9"/>
<circle cx="1040.3" cy="220.1" r="2.9"/>
<circle cx="1085.4" cy="215.9" r="2.9"/>
<circle cx="1126.0" cy="151.6" r="2.9"/>
<circle cx="896.0" cy="353.0" r="2.9"/>
<circle cx="1049.3" cy="241.6" r="2.9"/>
<circle cx="1053.8" cy="241.6" r="2.9"/>
<circle cx="828.3" cy="443.0" r="2.9"/>
<circle cx="1085.4" cy="181.6" r="2.9"/>
<circle cx="1040.3" cy="228.7" r="2.9"/>
<circle cx="909.5" cy="361.6" r="2.9"/>
<circle cx="828.3" cy="430.2" r="2.9"/>
<circle cx="923.0" cy="348.7" r="2.9"/>
<circle cx="896.0" cy="357.3" r="2.9"/>
<circle cx="950.1" cy="323.0" r="2.9"/>
<circle cx="886.9" cy="374.4" r="2.9"/>
<circle cx="846.3" cy="417.3" r="2.9"/>
<circle cx="1058.3" cy="224.4" r="2.9"/>
<circle cx="936.5" cy="340.2" r="2.9"/>
<circle cx="1031.3" cy="271.6" r="2.9"/>
<circle cx="1022.2" cy="267.3" r="2.9"/>
<circle cx="1035.8" cy="224.4" r="2.9"/>
<circle cx="999.7" cy="314.4" r="2.9"/>
<circle cx="963.6" cy="331.6" r="2.9"/>
<circle cx="1053.8" cy="241.6" r="2.9"/>
<circle cx="981.6" cy="323.0" r="2.9"/>
<circle cx="828.3" cy="451.6" r="2.9"/>
<circle cx="859.9" cy="408.7" r="2.9"/>
<circle cx="850.9" cy="417.3" r="2.9"/>
<circle cx="900.5" cy="387.3" r="2.9"/>
<circle cx="814.8" cy="451.6" r="2.9"/>
<circle cx="1031.3" cy="220.1" r="2.9"/>
<circle cx="837.3" cy="404.4" r="2.9"/>
<circle cx="1080.9" cy="211.6" r="2.9"/>
<circle cx="905.0" cy="335.9" r="2.9"/>
<circle cx="846.3" cy="443.0" r="2.9"/>
<circle cx="886.9" cy="387.3" r="2.9"/>
<circle cx="927.5" cy="353.0" r="2.9"/>
<circle cx="932.0" cy="374.4" r="2.9"/>
<circle cx="1071.8" cy="241.6" r="2.9"/>
<circle cx="877.9" cy="391.6" r="2.9"/>
<circle cx="981.6" cy="275.9" r="2.9"/>
<circle cx="1126.0" cy="160.1" r="2.9"/>
<circle cx="868.9" cy="370.2" r="2.9"/>
<circle cx="877.9" cy="391.6" r="2.9"/>
<circle cx="886.9" cy="310.1" r="2.9"/>
<circle cx="1013.2" cy="280.1" r="2.9"/>
<circle cx="1022.2" cy="258.7" r="2.9"/>
<circle cx="959.1" cy="340.2" r="2.9"/>
<circle cx="905.0" cy="374.4" r="2.9"/>
<circle cx="873.4" cy="404.4" r="2.9"/>
<circle cx="1098.9" cy="138.7" r="2.9"/>
<circle cx="1049.3" cy="250.1" r="2.9"/>
<circle cx="972.6" cy="280.1" r="2.9"/>
<circle cx="1049.3" cy="190.1" r="2.9"/>
<circle cx="950.1" cy="314.4" r="2.9"/>
<circle cx="1126.0" cy="194.4" r="2.9"/>
<circle cx="1008.7" cy="263.0" r="2.9"/>
<circle cx="990.7" cy="254.4" r="2.9"/>
<circle cx="1035.8" cy="228.7" r="2.9"/>
<circle cx="868.9" cy="421.6" r="2.9"/>
<circle cx="841.8" cy="408.7" r="2.9"/>
<circle cx="877.9" cy="387.3" r="2.9"/>
<circle cx="927.5" cy="357.3" r="2.9"/>
<circle cx="819.3" cy="473.0" r="2.9"/>
<circle cx="981.6" cy="301.6" r="2.9"/>
<circle cx="909.5" cy="383.0" r="2.9"/>
<circle cx="1004.2" cy="280.1" r="2.9"/>
<circle cx="999.7" cy="305.9" r="2.9"/>
<circle cx="1040.3" cy="267.3" r="2.9"/>
<circle cx="941.1" cy="314.4" r="2.9"/>
<circle cx="1053.8" cy="228.7" r="2.9"/>
<circle cx="914.0" cy="331.6" r="2.9"/>
<circle cx="1116.9" cy="168.7" r="2.9"/>
<circle cx="1053.8" cy="220.1" r="2.9"/>
<circle cx="1067.3" cy="284.4" r="2.9"/>
<circle cx="814.8" cy="455.9" r="2.9"/>
<circle cx="923.0" cy="340.2" r="2.9"/>
<circle cx="1004.2" cy="263.0" r="2.9"/>
<circle cx="846.3" cy="417.3" r="2.9"/>
<circle cx="932.0" cy="340.2" r="2.9"/>
<circle cx="868.9" cy="413.0" r="2.9"/>
<circle cx="877.9" cy="383.0" r="2.9"/>
<circle cx="896.0" cy="374.4" r="2.9"/>
<circle cx="959.1" cy="297.3" r="2.9"/>
<circle cx="909.5" cy="370.2" r="2.9"/>
<circle cx="1008.7" cy="237.3" r="2.9"/>
<circle cx="1058.3" cy="224.4" r="2.9"/>
<circle cx="1022.2" cy="267.3" r="2.9"/>
<circle cx="1121.5" cy="164.4" r="2.9"/>
<circle cx="986.2" cy="301.6" r="2.9"/>
<circle cx="850.9" cy="404.4" r="2.9"/>
<circle cx="1112.4" cy="181.6" r="2.9"/>
<circle cx="832.8" cy="438.7" r="2.9"/>
<circle cx="896.0" cy="387.3" r="2.9"/>
<circle cx="900.5" cy="387.3" r="2.9"/>
<circle cx="1062.8" cy="263.0" r="2.9"/>
<circle cx="882.4" cy="387.3" r="2.9"/>
<circle cx="832.8" cy="430.2" r="2.9"/>
<circle cx="1013.2" cy="271.6" r="2.9"/>
<circle cx="814.8" cy="451.6" r="2.9"/>
<circle cx="1040.3" cy="250.1" r="2.9"/>
<circle cx="936.5" cy="310.1" r="2.9"/>
<circle cx="959.1" cy="280.1" r="2.9"/>
<circle cx="1013.2" cy="271.6" r="2.9"/>
<circle cx="972.6" cy="318.7" r="2.9"/>
<circle cx="959.1" cy="318.7" r="2.9"/>
<circle cx="909.5" cy="353.0" r="2.9"/>
<circle cx="914.0" cy="361.6" r="2.9"/>
<circle cx="1022.2" cy="258.7" r="2.9"/>
<circle cx="977.1" cy="288.7" r="2.9"/>
<circle cx="981.6" cy="327.3" r="2.9"/>
<circle cx="877.9" cy="417.3" r="2.9"/>
<circle cx="855.4" cy="400.2" r="2.9"/>
<circle cx="914.0" cy="357.3" r="2.9"/>
<circle cx="900.5" cy="344.4" r="2.9"/>
<circle cx="819.3" cy="438.7" r="2.9"/>
<circle cx="1008.7" cy="267.3" r="2.9"/>
<circle cx="1017.7" cy="233.0" r="2.9"/>
<circle cx="855.4" cy="387.3" r="2.9"/>
<circle cx="963.6" cy="293.0" r="2.9"/>
<circle cx="832.8" cy="417.3" r="2.9"/>
<circle cx="823.8" cy="425.9" r="2.9"/>
<circle cx="914.0" cy="357.3" r="2.9"/>
<circle cx="995.2" cy="258.7" r="2.9"/>
<circle cx="936.5" cy="340.2" r="2.9"/>
<circle cx="886.9" cy="378.7" r="2.9"/>
<circle cx="1035.8" cy="237.3" r="2.9"/>
<circle cx="1013.2" cy="275.9" r="2.9"/>
<circle cx="1008.7" cy="271.6" r="2.9"/>
<circle cx="891.4" cy="370.2" r="2.9"/>
<circle cx="837.3" cy="417.3" r="2.9"/>
<circle cx="846.3" cy="400.2" r="2.9"/>
<circle cx="923.0" cy="361.6" r="2.9"/>
<circle cx="859.9" cy="413.0" r="2.9"/>
<circle cx="814.8" cy="477.3" r="2.9"/>
<circle cx="837.3" cy="425.9" r="2.9"/>
<circle cx="846.3" cy="438.7" r="2.9"/>
<circle cx="850.9" cy="408.7" r="2.9"/>
<circle cx="1035.8" cy="224.4" r="2.9"/>
<circle cx="850.9" cy="421.6" r="2.9"/>
<circle cx="819.3" cy="443.0" r="2.9"/>
<circle cx="1004.2" cy="267.3" r="2.9"/>
<circle cx="1044.8" cy="258.7" r="2.9"/>
<circle cx="1035.8" cy="224.4" r="2.9"/>
<circle cx="1026.8" cy="310.1" r="2.9"/>
<circle cx="932.0" cy="335.9" r="2.9"/>
<circle cx="1103.4" cy="181.6" r="2.9"/>
<circle cx="886.9" cy="413.0" r="2.9"/>
<circle cx="828.3" cy="451.6" r="2.9"/>
<circle cx="855.4" cy="443.0" r="2.9"/>
<circle cx="832.8" cy="438.7" r="2.9"/>
<circle cx="1040.3" cy="241.6" r="2.9"/>
<circle cx="1053.8" cy="245.9" r="2.9"/>
<circle cx="1031.3" cy="267.3" r="2.9"/>
<circle cx="941.1" cy="335.9" r="2.9"/>
<circle cx="932.0" cy="340.2" r="2.9"/>
<circle cx="1044.8" cy="271.6" r="2.9"/>
<circle cx="855.4" cy="430.2" r="2.9"/>
<circle cx="1049.3" cy="258.7" r="2.9"/>
<circle cx="823.8" cy="451.6" r="2.9"/>
<circle cx="932.0" cy="323.0" r="2.9"/>
<circle cx="886.9" cy="395.9" r="2.9"/>
<circle cx="1080.9" cy="211.6" r="2.9"/>
<circle cx="868.9" cy="400.2" r="2.9"/>
<circle cx="1058.3" cy="224.4" r="2.9"/>
<circle cx="814.8" cy="460.2" r="2.9"/>
<circle cx="1071.8" cy="220.1" r="2.9"/>
<circle cx="891.4" cy="391.6" r="2.9"/>
<circle cx="886.9" cy="391.6" r="2.9"/>
<circle cx="1004.2" cy="263.0" r="2.9"/>
<circle cx="977.1" cy="310.1" r="2.9"/>
<circle cx="995.2" cy="280.1" r="2.9"/>
<circle cx="981.6" cy="297.3" r="2.9"/>
<circle cx="850.9" cy="413.0" r="2.9"/>
<circle cx="886.9" cy="404.4" r="2.9"/>
<circle cx="1044.8" cy="203.0" r="2.9"/>
<circle cx="981.6" cy="275.9" r="2.9"/>
<circle cx="905.0" cy="374.4" r="2.9"/>
<circle cx="972.6" cy="305.9" r="2.9"/>
<circle cx="1013.2" cy="241.6" r="2.9"/>
<circle cx="819.3" cy="455.9" r="2.9"/>
<circle cx="963.6" cy="301.6" r="2.9"/>
<circle cx="981.6" cy="323.0" r="2.9"/>
<circle cx="968.1" cy="318.7" r="2.9"/>
<circle cx="846.3" cy="447.3" r="2.9"/>
<circle cx="896.0" cy="365.9" r="2.9"/>
<circle cx="959.1" cy="327.3" r="2.9"/>
<circle cx="837.3" cy="430.2" r="2.9"/>
<circle cx="891.4" cy="365.9" r="2.9"/>
<circle cx="959.1" cy="305.9" r="2.9"/>
<circle cx="986.2" cy="271.6" r="2.9"/>
<circle cx="981.6" cy="301.6" r="2.9"/>
<circle cx="873.4" cy="383.0" r="2.9"/>
<circle cx="977.1" cy="275.9" r="2.9"/>
<circle cx="1026.8" cy="258.7" r="2.9"/>
<circle cx="918.5" cy="378.7" r="2.9"/>
<circle cx="864.4" cy="395.9" r="2.9"/>
<circle cx="1112.4" cy="250.1" r="2.9"/>
<circle cx="918.5" cy="327.3" r="2.9"/>
<circle cx="1013.2" cy="263.0" r="2.9"/>
<circle cx="1031.3" cy="280.1" r="2.9"/>
<circle cx="990.7" cy="275.9" r="2.9"/>
<circle cx="999.7" cy="288.7" r="2.9"/>
<circle cx="1008.7" cy="275.9" r="2.9"/>
<circle cx="1103.4" cy="198.7" r="2.9"/>
<circle cx="914.0" cy="357.3" r="2.9"/>
<circle cx="1062.8" cy="207.3" r="2.9"/>
<circle cx="959.1" cy="293.0" r="2.9"/>
<circle cx="837.3" cy="430.2" r="2.9"/>
<circle cx="1071.8" cy="215.9" r="2.9"/>
<circle cx="990.7" cy="297.3" r="2.9"/>
<circle cx="936.5" cy="335.9" r="2.9"/>
<circle cx="846.3" cy="434.4" r="2.9"/>
<circle cx="1035.8" cy="250.1" r="2.9"/>
<circle cx="905.0" cy="348.7" r="2.9"/>
<circle cx="963.6" cy="318.7" r="2.9"/>
<circle cx="823.8" cy="451.6" r="2.9"/>
<circle cx="855.4" cy="425.9" r="2.9"/>
<circle cx="936.5" cy="357.3" r="2.9"/>
<circle cx="986.2" cy="280.1" r="2.9"/>
<circle cx="1035.8" cy="241.6" r="2.9"/>
<circle cx="963.6" cy="327.3" r="2.9"/>
<circle cx="882.4" cy="391.6" r="2.9"/>
<circle cx="882.4" cy="404.4" r="2.9"/>
<circle cx="886.9" cy="374.4" r="2.9"/>
<circle cx="972.6" cy="318.7" r="2.9"/>
<circle cx="963.6" cy="353.0" r="2.9"/>
<circle cx="837.3" cy="443.0" r="2.9"/>
<circle cx="814.8" cy="434.4" r="2.9"/>
<circle cx="819.3" cy="443.0" r="2.9"/>
<circle cx="950.1" cy="323.0" r="2.9"/>
<circle cx="814.8" cy="447.3" r="2.9"/>
<circle cx="1103.4" cy="160.1" r="2.9"/>
<circle cx="1053.8" cy="267.3" r="2.9"/>
<circle cx="877.9" cy="408.7" r="2.9"/>
<circle cx="945.6" cy="301.6" r="2.9"/>
<circle cx="868.9" cy="383.0" r="2.9"/>
<circle cx="1035.8" cy="224.4" r="2.9"/>
<circle cx="877.9" cy="387.3" r="2.9"/>
<circle cx="877.9" cy="378.7" r="2.9"/>
<circle cx="977.1" cy="301.6" r="2.9"/>
<circle cx="1135.0" cy="228.7" r="2.9"/>
<circle cx="954.6" cy="318.7" r="2.9"/>
<circle cx="841.8" cy="400.2" r="2.9"/>
<circle cx="868.9" cy="395.9" r="2.9"/>
<circle cx="1026.8" cy="267.3" r="2.9"/>
<circle cx="1130.5" cy="155.9" r="2.9"/>
<circle cx="936.5" cy="361.6" r="2.9"/>
<circle cx="1031.3" cy="258.7" r="2.9"/>
<circle cx="1031.3" cy="241.6" r="2.9"/>
<circle cx="864.4" cy="400.2" r="2.9"/>
<circle cx="891.4" cy="365.9" r="2.9"/>
<circle cx="1089.9" cy="203.0" r="2.9"/>
<circle cx="1026.8" cy="275.9" r="2.9"/>
<circle cx="995.2" cy="284.4" r="2.9"/>
<circle cx="1004.2" cy="284.4" r="2.9"/>
<circle cx="923.0" cy="335.9" r="2.9"/>
<circle cx="814.8" cy="464.4" r="2.9"/>
<circle cx="1017.7" cy="258.7" r="2.9"/>
<circle cx="927.5" cy="348.7" r="2.9"/>
<circle cx="1004.2" cy="250.1" r="2.9"/>
<circle cx="1031.3" cy="258.7" r="2.9"/>
<circle cx="882.4" cy="391.6" r="2.9"/>
<circle cx="1089.9" cy="233.0" r="2.9"/>
<circle cx="990.7" cy="284.4" r="2.9"/>
<circle cx="819.3" cy="443.0" r="2.9"/>
<circle cx="1098.9" cy="190.1" r="2.9"/>
<circle cx="999.7" cy="275.9" r="2.9"/>
<circle cx="877.9" cy="400.2" r="2.9"/>
<circle cx="1026.8" cy="254.4" r="2.9"/>
<circle cx="981.6" cy="275.9" r="2.9"/>
<circle cx="864.4" cy="400.2" r="2.9"/>
<circle cx="977.1" cy="297.3" r="2.9"/>
<circle cx="990.7" cy="314.4" r="2.9"/>
<circle cx="1049.3" cy="245.9" r="2.9"/>
<circle cx="1062.8" cy="181.6" r="2.9"/>
<circle cx="1004.2" cy="280.1" r="2.9"/>
<circle cx="882.4" cy="374.4" r="2.9"/>
<circle cx="981.6" cy="280.1" r="2.9"/>
<circle cx="981.6" cy="310.1" r="2.9"/>
<circle cx="1008.7" cy="267.3" r="2.9"/>
<circle cx="900.5" cy="378.7" r="2.9"/>
<circle cx="990.7" cy="271.6" r="2.9"/>
<circle cx="1026.8" cy="241.6" r="2.9"/>
<circle cx="936.5" cy="361.6" r="2.9"/>
<circle cx="995.2" cy="297.3" r="2.9"/>
<circle cx="968.1" cy="280.1" r="2.9"/>
<circle cx="914.0" cy="348.7" r="2.9"/>
<circle cx="1089.9" cy="194.4" r="2.9"/>
<circle cx="1067.3" cy="181.6" r="2.9"/>
<circle cx="819.3" cy="451.6" r="2.9"/>
<circle cx="832.8" cy="443.0" r="2.9"/>
<circle cx="1044.8" cy="190.1" r="2.9"/>
<circle cx="864.4" cy="413.0" r="2.9"/>
<circle cx="950.1" cy="327.3" r="2.9"/>
<circle cx="891.4" cy="383.0" r="2.9"/>
<circle cx="828.3" cy="447.3" r="2.9"/>
<circle cx="977.1" cy="305.9" r="2.9"/>
<circle cx="1013.2" cy="288.7" r="2.9"/>
<circle cx="1058.3" cy="220.1" r="2.9"/>
<circle cx="981.6" cy="284.4" r="2.9"/>
<circle cx="1004.2" cy="233.0" r="2.9"/>
<circle cx="868.9" cy="391.6" r="2.9"/>
<circle cx="986.2" cy="280.1" r="2.9"/>
<circle cx="945.6" cy="348.7" r="2.9"/>
<circle cx="909.5" cy="370.2" r="2.9"/>
<circle cx="846.3" cy="395.9" r="2.9"/>
<circle cx="923.0" cy="357.3" r="2.9"/>
<circle cx="981.6" cy="305.9" r="2.9"/>
<circle cx="909.5" cy="374.4" r="2.9"/>
<circle cx="882.4" cy="370.2" r="2.9"/>
<circle cx="1017.7" cy="271.6" r="2.9"/>
<circle cx="918.5" cy="365.9" r="2.9"/>
<circle cx="855.4" cy="408.7" r="2.9"/>
<circle cx="837.3" cy="430.2" r="2.9"/>
<circle cx="932.0" cy="357.3" r="2.9"/>
<circle cx="1062.8" cy="233.0" r="2.9"/>
<circle cx="1080.9" cy="245.9" r="2.9"/>
<circle cx="977.1" cy="284.4" r="2.9"/>
<circle cx="986.2" cy="284.4" r="2.9"/>
<circle cx="932.0" cy="348.7" r="2.9"/>
<circle cx="1049.3" cy="241.6" r="2.9"/>
<circle cx="877.9" cy="400.2" r="2.9"/>
<circle cx="927.5" cy="331.6" r="2.9"/>
<circle cx="900.5" cy="378.7" r="2.9"/>
<circle cx="909.5" cy="361.6" r="2.9"/>
<circle cx="1085.4" cy="160.1" r="2.9"/>
<circle cx="950.1" cy="301.6" r="2.9"/>
<circle cx="999.7" cy="275.9" r="2.9"/>
<circle cx="896.0" cy="374.4" r="2.9"/>
<circle cx="891.4" cy="378.7" r="2.9"/>
<circle cx="1026.8" cy="250.1" r="2.9"/>
<circle cx="837.3" cy="430.2" r="2.9"/>
<circle cx="950.1" cy="331.6" r="2.9"/>
<circle cx="1031.3" cy="275.9" r="2.9"/>
<circle cx="819.3" cy="447.3" r="2.9"/>
<circle cx="923.0" cy="348.7" r="2.9"/>
<circle cx="963.6" cy="323.0" r="2.9"/>
<circle cx="832.8" cy="408.7" r="2.9"/>
<circle cx="963.6" cy="331.6" r="2.9"/>
<circle cx="981.6" cy="305.9" r="2.9"/>
<circle cx="936.5" cy="335.9" r="2.9"/>
<circle cx="823.8" cy="447.3" r="2.9"/>
<circle cx="945.6" cy="323.0" r="2.9"/>
<circle cx="1031.3" cy="267.3" r="2.9"/>
<circle cx="814.8" cy="404.4" r="2.9"/>
<circle cx="1058.3" cy="211.6" r="2.9"/>
<circle cx="1085.4" cy="224.4" r="2.9"/>
<circle cx="936.5" cy="353.0" r="2.9"/>
<circle cx="909.5" cy="374.4" r="2.9"/>
<circle cx="868.9" cy="417.3" r="2.9"/>
<circle cx="828.3" cy="438.7" r="2.9"/>
<circle cx="1013.2" cy="258.7" r="2.9"/>
<circle cx="981.6" cy="280.1" r="2.9"/>
<circle cx="1026.8" cy="237.3" r="2.9"/>
<circle cx="1022.2" cy="250.1" r="2.9"/>
<circle cx="968.1" cy="305.9" r="2.9"/>
<circle cx="1053.8" cy="258.7" r="2.9"/>
<circle cx="995.2" cy="263.0" r="2.9"/>
<circle cx="954.6" cy="331.6" r="2.9"/>
<circle cx="864.4" cy="400.2" r="2.9"/>
<circle cx="823.8" cy="425.9" r="2.9"/>
<circle cx="1044.8" cy="245.9" r="2.9"/>
<circle cx="864.4" cy="413.0" r="2.9"/>
<circle cx="941.1" cy="327.3" r="2.9"/>
<circle cx="859.9" cy="383.0" r="2.9"/>
<circle cx="882.4" cy="404.4" r="2.9"/>
<circle cx="932.0" cy="378.7" r="2.9"/>
<circle cx="941.1" cy="323.0" r="2.9"/>
<circle cx="1017.7" cy="267.3" r="2.9"/>
<circle cx="1022.2" cy="254.4" r="2.9"/>
<circle cx="846.3" cy="421.6" r="2.9"/>
<circle cx="986.2" cy="305.9" r="2.9"/>
<circle cx="832.8" cy="425.9" r="2.9"/>
<circle cx="823.8" cy="464.4" r="2.9"/>
<circle cx="877.9" cy="361.6" r="2.9"/>
<circle cx="1008.7" cy="301.6" r="2.9"/>
<circle cx="1022.2" cy="245.9" r="2.9"/>
<circle cx="1094.4" cy="173.0" r="2.9"/>
<circle cx="1026.8" cy="228.7" r="2.9"/>
<circle cx="832.8" cy="417.3" r="2.9"/>
<circle cx="972.6" cy="340.2" r="2.9"/>
<circle cx="1044.8" cy="267.3" r="2.9"/>
<circle cx="954.6" cy="305.9" r="2.9"/>
<circle cx="990.7" cy="293.0" r="2.9"/>
<circle cx="977.1" cy="288.7" r="2.9"/>
<circle cx="1058.3" cy="233.0" r="2.9"/>
<circle cx="819.3" cy="460.2" r="2.9"/>
<circle cx="968.1" cy="323.0" r="2.9"/>
<circle cx="1026.8" cy="241.6" r="2.9"/>
<circle cx="873.4" cy="378.7" r="2.9"/>
<circle cx="914.0" cy="361.6" r="2.9"/>
<circle cx="828.3" cy="455.9" r="2.9"/>
<circle cx="1022.2" cy="211.6" r="2.9"/>
<circle cx="891.4" cy="391.6" r="2.9"/>
<circle cx="868.9" cy="391.6" r="2.9"/>
<circle cx="819.3" cy="447.3" r="2.9"/>
<circle cx="981.6" cy="301.6" r="2.9"/>
<circle cx="959.1" cy="318.7" r="2.9"/>
<circle cx="873.4" cy="387.3" r="2.9"/>
<circle cx="977.1" cy="284.4" r="2.9"/>
<circle cx="891.4" cy="391.6" r="2.9"/>
<circle cx="868.9" cy="408.7" r="2.9"/>
<circle cx="1017.7" cy="254.4" r="2.9"/>
<circle cx="1116.9" cy="198.7" r="2.9"/>
<circle cx="914.0" cy="361.6" r="2.9"/>
<circle cx="859.9" cy="383.0" r="2.9"/>
<circle cx="1076.4" cy="224.4" r="2.9"/>
<circle cx="959.1" cy="310.1" r="2.9"/>
<circle cx="841.8" cy="408.7" r="2.9"/>
<circle cx="1112.4" cy="203.0" r="2.9"/>
<circle cx="1103.4" cy="130.1" r="2.9"/>
<circle cx="819.3" cy="447.3" r="2.9"/>
<circle cx="905.0" cy="365.9" r="2.9"/>
<circle cx="837.3" cy="425.9" r="2.9"/>
<circle cx="959.1" cy="353.0" r="2.9"/>
<circle cx="1031.3" cy="275.9" r="2.9"/>
<circle cx="972.6" cy="293.0" r="2.9"/>
<circle cx="932.0" cy="305.9" r="2.9"/>
<circle cx="1026.8" cy="250.1" r="2.9"/>
<circle cx="873.4" cy="391.6" r="2.9"/>
<circle cx="977.1" cy="314.4" r="2.9"/>
<circle cx="1008.7" cy="263.0" r="2.9"/>
<circle cx="981.6" cy="293.0" r="2.9"/>
<circle cx="909.5" cy="370.2" r="2.9"/>
<circle cx="986.2" cy="267.3" r="2.9"/>
<circle cx="954.6" cy="314.4" r="2.9"/>
<circle cx="963.6" cy="310.1" r="2.9"/>
<circle cx="977.1" cy="284.4" r="2.9"/>
<circle cx="1049.3" cy="245.9" r="2.9"/>
<circle cx="986.2" cy="275.9" r="2.9"/>
<circle cx="927.5" cy="305.9" r="2.9"/>
<circle cx="864.4" cy="395.9" r="2.9"/>
<circle cx="963.6" cy="318.7" r="2.9"/>
<circle cx="981.6" cy="305.9" r="2.9"/>
<circle cx="819.3" cy="455.9" r="2.9"/>
<circle cx="1053.8" cy="271.6" r="2.9"/>
<circle cx="900.5" cy="387.3" r="2.9"/>
<circle cx="968.1" cy="323.0" r="2.9"/>
<circle cx="877.9" cy="391.6" r="2.9"/>
<circle cx="837.3" cy="430.2" r="2.9"/>
<circle cx="1094.4" cy="155.9" r="2.9"/>
<circle cx="814.8" cy="430.2" r="2.9"/>
<circle cx="914.0" cy="361.6" r="2.9"/>
<circle cx="819.3" cy="443.0" r="2.9"/>
<circle cx="945.6" cy="327.3" r="2.9"/>
<circle cx="950.1" cy="288.7" r="2.9"/>
<circle cx="909.5" cy="365.9" r="2.9"/>
<circle cx="1017.7" cy="297.3" r="2.9"/>
<circle cx="859.9" cy="417.3" r="2.9"/>
<circle cx="882.4" cy="387.3" r="2.9"/>
<circle cx="1040.3" cy="280.1" r="2.9"/>
<circle cx="1004.2" cy="301.6" r="2.9"/>
<circle cx="1004.2" cy="254.4" r="2.9"/>
<circle cx="968.1" cy="323.0" r="2.9"/>
<circle cx="1085.4" cy="203.0" r="2.9"/>
<circle cx="900.5" cy="365.9" r="2.9"/>
<circle cx="990.7" cy="275.9" r="2.9"/>
<circle cx="923.0" cy="353.0" r="2.9"/>
<circle cx="945.6" cy="310.1" r="2.9"/>
<circle cx="837.3" cy="421.6" r="2.9"/>
<circle cx="986.2" cy="310.1" r="2.9"/>
<circle cx="1121.5" cy="185.9" r="2.9"/>
<circle cx="932.0" cy="335.9" r="2.9"/>
<circle cx="1144.0" cy="173.0" r="2.9"/>
<circle cx="1040.3" cy="228.7" r="2.9"/>
<circle cx="877.9" cy="421.6" r="2.9"/>
<circle cx="977.1" cy="297.3" r="2.9"/>
<circle cx="1076.4" cy="160.1" r="2.9"/>
<circle cx="986.2" cy="267.3" r="2.9"/>
<circle cx="896.0" cy="387.3" r="2.9"/>
<circle cx="1107.9" cy="108.7" r="2.9"/>
<circle cx="1094.4" cy="220.1" r="2.9"/>
<circle cx="891.4" cy="374.4" r="2.9"/>
<circle cx="972.6" cy="297.3" r="2.9"/>
<circle cx="855.4" cy="400.2" r="2.9"/>
<circle cx="846.3" cy="413.0" r="2.9"/>
<circle cx="1112.4" cy="194.4" r="2.9"/>
<circle cx="819.3" cy="438.7" r="2.9"/>
<circle cx="1031.3" cy="254.4" r="2.9"/>
<circle cx="1085.4" cy="198.7" r="2.9"/>
<circle cx="1094.4" cy="177.3" r="2.9"/>
<circle cx="864.4" cy="430.2" r="2.9"/>
<circle cx="995.2" cy="267.3" r="2.9"/>
<circle cx="1013.2" cy="228.7" r="2.9"/>
<circle cx="927.5" cy="340.2" r="2.9"/>
<circle cx="859.9" cy="395.9" r="2.9"/>
<circle cx="990.7" cy="275.9" r="2.9"/>
<circle cx="846.3" cy="430.2" r="2.9"/>
<circle cx="981.6" cy="310.1" r="2.9"/>
<circle cx="1071.8" cy="203.0" r="2.9"/>
<circle cx="837.3" cy="434.4" r="2.9"/>
<circle cx="873.4" cy="383.0" r="2.9"/>
<circle cx="1062.8" cy="211.6" r="2.9"/>
<circle cx="828.3" cy="434.4" r="2.9"/>
<circle cx="1013.2" cy="245.9" r="2.9"/>
<circle cx="959.1" cy="297.3" r="2.9"/>
<circle cx="963.6" cy="297.3" r="2.9"/>
<circle cx="1080.9" cy="215.9" r="2.9"/>
<circle cx="1017.7" cy="245.9" r="2.9"/>
<circle cx="873.4" cy="391.6" r="2.9"/>
<circle cx="936.5" cy="323.0" r="2.9"/>
<circle cx="945.6" cy="340.2" r="2.9"/>
<circle cx="1013.2" cy="258.7" r="2.9"/>
<circle cx="896.0" cy="374.4" r="2.9"/>
<circle cx="868.9" cy="404.4" r="2.9"/>
<circle cx="886.9" cy="387.3" r="2.9"/>
<circle cx="1044.8" cy="254.4" r="2.9"/>
<circle cx="864.4" cy="430.2" r="2.9"/>
<circle cx="954.6" cy="305.9" r="2.9"/>
<circle cx="819.3" cy="455.9" r="2.9"/>
<circle cx="814.8" cy="443.0" r="2.9"/>
<circle cx="846.3" cy="417.3" r="2.9"/>
<circle cx="859.9" cy="417.3" r="2.9"/>
<circle cx="841.8" cy="434.4" r="2.9"/>
<circle cx="1130.5" cy="151.6" r="2.9"/>
<circle cx="1017.7" cy="297.3" r="2.9"/>
<circle cx="990.7" cy="250.1" r="2.9"/>
<circle cx="828.3" cy="451.6" r="2.9"/>
<circle cx="1144.0" cy="151.6" r="2.9"/>
<circle cx="882.4" cy="370.2" r="2.9"/>
<circle cx="868.9" cy="378.7" r="2.9"/>
<circle cx="999.7" cy="275.9" r="2.9"/>
<circle cx="1026.8" cy="263.0" r="2.9"/>
<circle cx="950.1" cy="361.6" r="2.9"/>
<circle cx="923.0" cy="357.3" r="2.9"/>
<circle cx="859.9" cy="404.4" r="2.9"/>
<circle cx="923.0" cy="310.1" r="2.9"/>
<circle cx="945.6" cy="327.3" r="2.9"/>
<circle cx="896.0" cy="331.6" r="2.9"/>
<circle cx="846.3" cy="417.3" r="2.9"/>
<circle cx="968.1" cy="310.1" r="2.9"/>
<circle cx="882.4" cy="404.4" r="2.9"/>
<circle cx="832.8" cy="421.6" r="2.9"/>
<circle cx="1040.3" cy="254.4" r="2.9"/>
<circle cx="850.9" cy="395.9" r="2.9"/>
<circle cx="1035.8" cy="280.1" r="2.9"/>
<circle cx="972.6" cy="318.7" r="2.9"/>
<circle cx="1031.3" cy="241.6" r="2.9"/>
<circle cx="832.8" cy="451.6" r="2.9"/>
<circle cx="819.3" cy="455.9" r="2.9"/>
<circle cx="1031.3" cy="254.4" r="2.9"/>
<circle cx="1040.3" cy="254.4" r="2.9"/>
<circle cx="941.1" cy="361.6" r="2.9"/>
<circle cx="990.7" cy="280.1" r="2.9"/>
<circle cx="896.0" cy="383.0" r="2.9"/>
<circle cx="1022.2" cy="215.9" r="2.9"/>
<circle cx="1107.9" cy="181.6" r="2.9"/>
<circle cx="1017.7" cy="245.9" r="2.9"/>
<circle cx="841.8" cy="421.6" r="2.9"/>
<circle cx="918.5" cy="357.3" r="2.9"/>
<circle cx="905.0" cy="361.6" r="2.9"/>
<circle cx="990.7" cy="293.0" r="2.9"/>
<circle cx="1004.2" cy="293.0" r="2.9"/>
<circle cx="927.5" cy="357.3" r="2.9"/>
<circle cx="828.3" cy="438.7" r="2.9"/>
<circle cx="905.0" cy="344.4" r="2.9"/>
<circle cx="896.0" cy="374.4" r="2.9"/>
<circle cx="1013.2" cy="275.9" r="2.9"/>
<circle cx="1017.7" cy="258.7" r="2.9"/>
<circle cx="900.5" cy="391.6" r="2.9"/>
<circle cx="823.8" cy="451.6" r="2.9"/>
<circle cx="1053.8" cy="233.0" r="2.9"/>
<circle cx="877.9" cy="361.6" r="2.9"/>
<circle cx="1062.8" cy="207.3" r="2.9"/>
<circle cx="977.1" cy="275.9" r="2.9"/>
<circle cx="918.5" cy="378.7" r="2.9"/>
<circle cx="1085.4" cy="220.1" r="2.9"/>
<circle cx="837.3" cy="443.0" r="2.9"/>
<circle cx="877.9" cy="408.7" r="2.9"/>
<circle cx="1071.8" cy="233.0" r="2.9"/>
<circle cx="914.0" cy="353.0" r="2.9"/>
<circle cx="945.6" cy="327.3" r="2.9"/>
<circle cx="1035.8" cy="258.7" r="2.9"/>
<circle cx="1017.7" cy="271.6" r="2.9"/>
<circle cx="914.0" cy="344.4" r="2.9"/>
<circle cx="1148.5" cy="143.0" r="2.9"/>
<circle cx="1008.7" cy="297.3" r="2.9"/>
<circle cx="891.4" cy="378.7" r="2.9"/>
<circle cx="877.9" cy="387.3" r="2.9"/>
<circle cx="954.6" cy="293.0" r="2.9"/>
<circle cx="1022.2" cy="263.0" r="2.9"/>
<circle cx="954.6" cy="301.6" r="2.9"/>
<circle cx="846.3" cy="413.0" r="2.9"/>
<circle cx="873.4" cy="357.3" r="2.9"/>
<circle cx="1116.9" cy="130.1" r="2.9"/>
<circle cx="850.9" cy="374.4" r="2.9"/>
<circle cx="855.4" cy="434.4" r="2.9"/>
<circle cx="1049.3" cy="275.9" r="2.9"/>
<circle cx="1017.7" cy="224.4" r="2.9"/>
<circle cx="1026.8" cy="271.6" r="2.9"/>
<circle cx="1008.7" cy="293.0" r="2.9"/>
<circle cx="972.6" cy="258.7" r="2.9"/>
<circle cx="1008.7" cy="258.7" r="2.9"/>
<circle cx="1080.9" cy="203.0" r="2.9"/>
<circle cx="1058.3" cy="220.1" r="2.9"/>
<circle cx="1049.3" cy="237.3" r="2.9"/>
<circle cx="873.4" cy="387.3" r="2.9"/>
<circle cx="1035.8" cy="237.3" r="2.9"/>
<circle cx="891.4" cy="400.2" r="2.9"/>
<circle cx="1126.0" cy="138.7" r="2.9"/>
<circle cx="959.1" cy="318.7" r="2.9"/>
<circle cx="1004.2" cy="310.1" r="2.9"/>
<circle cx="1044.8" cy="237.3" r="2.9"/>
<circle cx="1040.3" cy="237.3" r="2.9"/>
<circle cx="1049.3" cy="233.0" r="2.9"/>
<circle cx="995.2" cy="297.3" r="2.9"/>
<circle cx="855.4" cy="408.7" r="2.9"/>
<circle cx="1089.9" cy="203.0" r="2.9"/>
<circle cx="1008.7" cy="310.1" r="2.9"/>
<circle cx="927.5" cy="357.3" r="2.9"/>
<circle cx="1049.3" cy="215.9" r="2.9"/>
<circle cx="1062.8" cy="185.9" r="2.9"/>
<circle cx="900.5" cy="370.2" r="2.9"/>
<circle cx="927.5" cy="318.7" r="2.9"/>
<circle cx="1035.8" cy="224.4" r="2.9"/>
<circle cx="1040.3" cy="211.6" r="2.9"/>
<circle cx="918.5" cy="353.0" r="2.9"/>
<circle cx="1053.8" cy="228.7" r="2.9"/>
<circle cx="1026.8" cy="224.4" r="2.9"/>
<circle cx="832.8" cy="447.3" r="2.9"/>
<circle cx="968.1" cy="305.9" r="2.9"/>
<circle cx="923.0" cy="378.7" r="2.9"/>
<circle cx="864.4" cy="408.7" r="2.9"/>
<circle cx="886.9" cy="370.2" r="2.9"/>
<circle cx="1098.9" cy="194.4" r="2.9"/>
<circle cx="914.0" cy="361.6" r="2.9"/>
<circle cx="954.6" cy="340.2" r="2.9"/>
<circle cx="1004.2" cy="284.4" r="2.9"/>
<circle cx="932.0" cy="348.7" r="2.9"/>
<circle cx="1031.3" cy="245.9" r="2.9"/>
<circle cx="1098.9" cy="168.7" r="2.9"/>
<circle cx="936.5" cy="310.1" r="2.9"/>
<circle cx="954.6" cy="327.3" r="2.9"/>
<circle cx="918.5" cy="344.4" r="2.9"/>
<circle cx="945.6" cy="323.0" r="2.9"/>
<circle cx="963.6" cy="310.1" r="2.9"/>
<circle cx="959.1" cy="310.1" r="2.9"/>
<circle cx="950.1" cy="348.7" r="2.9"/>
<circle cx="828.3" cy="430.2" r="2.9"/>
<circle cx="882.4" cy="404.4" r="2.9"/>
<circle cx="1098.9" cy="198.7" r="2.9"/>
<circle cx="986.2" cy="301.6" r="2.9"/>
<circle cx="868.9" cy="404.4" r="2.9"/>
<circle cx="977.1" cy="305.9" r="2.9"/>
<circle cx="1107.9" cy="117.3" r="2.9"/>
<circle cx="972.6" cy="301.6" r="2.9"/>
<circle cx="977.1" cy="284.4" r="2.9"/>
<circle cx="1022.2" cy="267.3" r="2.9"/>
<circle cx="886.9" cy="370.2" r="2.9"/>
<circle cx="963.6" cy="284.4" r="2.9"/>
<circle cx="981.6" cy="314.4" r="2.9"/>
<circle cx="896.0" cy="370.2" r="2.9"/>
<circle cx="968.1" cy="293.0" r="2.9"/>
<circle cx="1035.8" cy="271.6" r="2.9"/>
<circle cx="1071.8" cy="220.1" r="2.9"/>
<circle cx="864.4" cy="391.6" r="2.9"/>
<circle cx="1022.2" cy="275.9" r="2.9"/>
<circle cx="1008.7" cy="297.3" r="2.9"/>
<circle cx="1062.8" cy="224.4" r="2.9"/>
<circle cx="923.0" cy="327.3" r="2.9"/>
<circle cx="954.6" cy="327.3" r="2.9"/>
<circle cx="896.0" cy="357.3" r="2.9"/>
<circle cx="891.4" cy="408.7" r="2.9"/>
<circle cx="995.2" cy="297.3" r="2.9"/>
<circle cx="923.0" cy="370.2" r="2.9"/>
<circle cx="1022.2" cy="245.9" r="2.9"/>
<circle cx="1062.8" cy="177.3" r="2.9"/>
<circle cx="850.9" cy="408.7" r="2.9"/>
<circle cx="909.5" cy="357.3" r="2.9"/>
<circle cx="963.6" cy="293.0" r="2.9"/>
<circle cx="986.2" cy="288.7" r="2.9"/>
<circle cx="1044.8" cy="271.6" r="2.9"/>
<circle cx="990.7" cy="284.4" r="2.9"/>
<circle cx="1004.2" cy="271.6" r="2.9"/>
<circle cx="1094.4" cy="198.7" r="2.9"/>
<circle cx="1103.4" cy="155.9" r="2.9"/>
<circle cx="882.4" cy="400.2" r="2.9"/>
<circle cx="850.9" cy="425.9" r="2.9"/>
<circle cx="936.5" cy="348.7" r="2.9"/>
<circle cx="841.8" cy="430.2" r="2.9"/>
<circle cx="832.8" cy="447.3" r="2.9"/>
<circle cx="936.5" cy="340.2" r="2.9"/>
<circle cx="819.3" cy="447.3" r="2.9"/>
<circle cx="823.8" cy="413.0" r="2.9"/>
<circle cx="914.0" cy="374.4" r="2.9"/>
<circle cx="945.6" cy="331.6" r="2.9"/>
<circle cx="864.4" cy="421.6" r="2.9"/>
<circle cx="1017.7" cy="267.3" r="2.9"/>
<circle cx="873.4" cy="391.6" r="2.9"/>
<circle cx="927.5" cy="348.7" r="2.9"/>
<circle cx="873.4" cy="391.6" r="2.9"/>
<circle cx="981.6" cy="310.1" r="2.9"/>
<circle cx="932.0" cy="331.6" r="2.9"/>
<circle cx="1053.8" cy="211.6" r="2.9"/>
<circle cx="846.3" cy="438.7" r="2.9"/>
<circle cx="1089.9" cy="185.9" r="2.9"/>
<circle cx="1058.3" cy="207.3" r="2.9"/>
<circle cx="1049.3" cy="224.4" r="2.9"/>
<circle cx="1053.8" cy="228.7" r="2.9"/>
<circle cx="959.1" cy="305.9" r="2.9"/>
<circle cx="1067.3" cy="241.6" r="2.9"/>
<circle cx="1031.3" cy="228.7" r="2.9"/>
<circle cx="954.6" cy="318.7" r="2.9"/>
<circle cx="968.1" cy="335.9" r="2.9"/>
<circle cx="891.4" cy="370.2" r="2.9"/>
<circle cx="877.9" cy="400.2" r="2.9"/>
<circle cx="1026.8" cy="237.3" r="2.9"/>
<circle cx="886.9" cy="365.9" r="2.9"/>
<circle cx="990.7" cy="263.0" r="2.9"/>
<circle cx="918.5" cy="353.0" r="2.9"/>
<circle cx="900.5" cy="365.9" r="2.9"/>
<circle cx="1017.7" cy="263.0" r="2.9"/>
<circle cx="909.5" cy="357.3" r="2.9"/>
<circle cx="972.6" cy="314.4" r="2.9"/>
<circle cx="1035.8" cy="263.0" r="2.9"/>
<circle cx="1004.2" cy="237.3" r="2.9"/>
<circle cx="873.4" cy="408.7" r="2.9"/>
<circle cx="905.0" cy="374.4" r="2.9"/>
<circle cx="995.2" cy="271.6" r="2.9"/>
<circle cx="1008.7" cy="263.0" r="2.9"/>
<circle cx="981.6" cy="280.1" r="2.9"/>
<circle cx="927.5" cy="361.6" r="2.9"/>
<circle cx="1071.8" cy="241.6" r="2.9"/>
<circle cx="1062.8" cy="241.6" r="2.9"/>
<circle cx="954.6" cy="327.3" r="2.9"/>
<circle cx="990.7" cy="254.4" r="2.9"/>
<circle cx="981.6" cy="301.6" r="2.9"/>
<circle cx="1071.8" cy="254.4" r="2.9"/>
<circle cx="1062.8" cy="215.9" r="2.9"/>
<circle cx="963.6" cy="353.0" r="2.9"/>
<circle cx="963.6" cy="297.3" r="2.9"/>
<circle cx="941.1" cy="335.9" r="2.9"/>
<circle cx="832.8" cy="421.6" r="2.9"/>
<circle cx="819.3" cy="451.6" r="2.9"/>
<circle cx="900.5" cy="378.7" r="2.9"/>
<circle cx="968.1" cy="318.7" r="2.9"/>
<circle cx="1076.4" cy="138.7" r="2.9"/>
<circle cx="1004.2" cy="263.0" r="2.9"/>
<circle cx="990.7" cy="301.6" r="2.9"/>
<circle cx="963.6" cy="297.3" r="2.9"/>
<circle cx="1049.3" cy="233.0" r="2.9"/>
<circle cx="1058.3" cy="198.7" r="2.9"/>
<circle cx="1053.8" cy="211.6" r="2.9"/>
<circle cx="1103.4" cy="194.4" r="2.9"/>
<circle cx="959.1" cy="314.4" r="2.9"/>
<circle cx="995.2" cy="310.1" r="2.9"/>
<circle cx="918.5" cy="331.6" r="2.9"/>
<circle cx="1017.7" cy="263.0" r="2.9"/>
<circle cx="1022.2" cy="245.9" r="2.9"/>
<circle cx="841.8" cy="421.6" r="2.9"/>
<circle cx="1035.8" cy="237.3" r="2.9"/>
<circle cx="995.2" cy="263.0" r="2.9"/>
<circle cx="1053.8" cy="233.0" r="2.9"/>
<circle cx="814.8" cy="451.6" r="2.9"/>
<circle cx="1062.8" cy="220.1" r="2.9"/>
<circle cx="814.8" cy="443.0" r="2.9"/>
<circle cx="1026.8" cy="263.0" r="2.9"/>
<circle cx="846.3" cy="421.6" r="2.9"/>
<circle cx="918.5" cy="331.6" r="2.9"/>
<circle cx="927.5" cy="335.9" r="2.9"/>
<circle cx="1031.3" cy="228.7" r="2.9"/>
<circle cx="1044.8" cy="233.0" r="2.9"/>
<circle cx="936.5" cy="348.7" r="2.9"/>
<circle cx="1071.8" cy="207.3" r="2.9"/>
<circle cx="1089.9" cy="164.4" r="2.9"/>
<circle cx="999.7" cy="284.4" r="2.9"/>
<circle cx="945.6" cy="327.3" r="2.9"/>
<circle cx="981.6" cy="288.7" r="2.9"/>
<circle cx="1017.7" cy="284.4" r="2.9"/>
<circle cx="995.2" cy="271.6" r="2.9"/>
<circle cx="1031.3" cy="237.3" r="2.9"/>
<circle cx="823.8" cy="443.0" r="2.9"/>
<circle cx="918.5" cy="353.0" r="2.9"/>
<circle cx="823.8" cy="438.7" r="2.9"/>
<circle cx="914.0" cy="361.6" r="2.9"/>
<circle cx="981.6" cy="297.3" r="2.9"/>
<circle cx="1004.2" cy="271.6" r="2.9"/>
<circle cx="1130.5" cy="160.1" r="2.9"/>
<circle cx="954.6" cy="293.0" r="2.9"/>
<circle cx="927.5" cy="335.9" r="2.9"/>
<circle cx="1071.8" cy="220.1" r="2.9"/>
<circle cx="1040.3" cy="263.0" r="2.9"/>
<circle cx="995.2" cy="288.7" r="2.9"/>
<circle cx="1144.0" cy="108.7" r="2.9"/>
<circle cx="1013.2" cy="245.9" r="2.9"/>
<circle cx="1022.2" cy="233.0" r="2.9"/>
<circle cx="927.5" cy="340.2" r="2.9"/>
<circle cx="1008.7" cy="305.9" r="2.9"/>
<circle cx="846.3" cy="421.6" r="2.9"/>
<circle cx="1022.2" cy="250.1" r="2.9"/>
<circle cx="814.8" cy="443.0" r="2.9"/>
<circle cx="909.5" cy="378.7" r="2.9"/>
<circle cx="891.4" cy="365.9" r="2.9"/>
<circle cx="932.0" cy="305.9" r="2.9"/>
<circle cx="1008.7" cy="310.1" r="2.9"/>
<circle cx="1071.8" cy="207.3" r="2.9"/>
<circle cx="819.3" cy="443.0" r="2.9"/>
<circle cx="923.0" cy="331.6" r="2.9"/>
<circle cx="832.8" cy="443.0" r="2.9"/>
<circle cx="968.1" cy="327.3" r="2.9"/>
<circle cx="914.0" cy="353.0" r="2.9"/>
<circle cx="864.4" cy="417.3" r="2.9"/>
<circle cx="1058.3" cy="241.6" r="2.9"/>
<circle cx="1062.8" cy="211.6" r="2.9"/>
<circle cx="1094.4" cy="147.3" r="2.9"/>
<circle cx="1085.4" cy="181.6" r="2.9"/>
<circle cx="823.8" cy="430.2" r="2.9"/>
<circle cx="882.4" cy="383.0" r="2.9"/>
<circle cx="936.5" cy="340.2" r="2.9"/>
<circle cx="1031.3" cy="233.0" r="2.9"/>
<circle cx="1085.4" cy="194.4" r="2.9"/>
<circle cx="900.5" cy="365.9" r="2.9"/>
<circle cx="1022.2" cy="233.0" r="2.9"/>
<circle cx="900.5" cy="370.2" r="2.9"/>
<circle cx="941.1" cy="310.1" r="2.9"/>
<circle cx="1121.5" cy="181.6" r="2.9"/>
<circle cx="864.4" cy="421.6" r="2.9"/>
<circle cx="954.6" cy="344.4" r="2.9"/>
<circle cx="905.0" cy="344.4" r="2.9"/>
<circle cx="963.6" cy="323.0" r="2.9"/>
<circle cx="945.6" cy="314.4" r="2.9"/>
<circle cx="900.5" cy="378.7" r="2.9"/>
<circle cx="968.1" cy="340.2" r="2.9"/>
<circle cx="864.4" cy="413.0" r="2.9"/>
<circle cx="959.1" cy="323.0" r="2.9"/>
<circle cx="1121.5" cy="160.1" r="2.9"/>
<circle cx="972.6" cy="293.0" r="2.9"/>
<circle cx="837.3" cy="425.9" r="2.9"/>
<circle cx="914.0" cy="365.9" r="2.9"/>
<circle cx="1089.9" cy="190.1" r="2.9"/>
<circle cx="877.9" cy="404.4" r="2.9"/>
<circle cx="859.9" cy="408.7" r="2.9"/>
<circle cx="1080.9" cy="241.6" r="2.9"/>
<circle cx="963.6" cy="344.4" r="2.9"/>
<circle cx="1004.2" cy="280.1" r="2.9"/>
<circle cx="1040.3" cy="237.3" r="2.9"/>
<circle cx="823.8" cy="443.0" r="2.9"/>
<circle cx="864.4" cy="408.7" r="2.9"/>
<circle cx="877.9" cy="408.7" r="2.9"/>
<circle cx="954.6" cy="331.6" r="2.9"/>
<circle cx="846.3" cy="421.6" r="2.9"/>
<circle cx="896.0" cy="361.6" r="2.9"/>
<circle cx="945.6" cy="305.9" r="2.9"/>
<circle cx="864.4" cy="408.7" r="2.9"/>
<circle cx="1080.9" cy="203.0" r="2.9"/>
<circle cx="896.0" cy="387.3" r="2.9"/>
<circle cx="990.7" cy="305.9" r="2.9"/>
<circle cx="1062.8" cy="168.7" r="2.9"/>
<circle cx="1004.2" cy="284.4" r="2.9"/>
<circle cx="868.9" cy="395.9" r="2.9"/>
<circle cx="819.3" cy="430.2" r="2.9"/>
<circle cx="850.9" cy="421.6" r="2.9"/>
<circle cx="1044.8" cy="194.4" r="2.9"/>
<circle cx="1035.8" cy="267.3" r="2.9"/>
<circle cx="1013.2" cy="250.1" r="2.9"/>
<circle cx="999.7" cy="271.6" r="2.9"/>
<circle cx="855.4" cy="408.7" r="2.9"/>
<circle cx="846.3" cy="430.2" r="2.9"/>
<circle cx="1112.4" cy="181.6" r="2.9"/>
<circle cx="954.6" cy="305.9" r="2.9"/>
<circle cx="986.2" cy="284.4" r="2.9"/>
<circle cx="1017.7" cy="254.4" r="2.9"/>
<circle cx="896.0" cy="383.0" r="2.9"/>
<circle cx="972.6" cy="293.0" r="2.9"/>
<circle cx="855.4" cy="421.6" r="2.9"/>
<circle cx="859.9" cy="383.0" r="2.9"/>
<circle cx="963.6" cy="284.4" r="2.9"/>
<circle cx="873.4" cy="383.0" r="2.9"/>
<circle cx="814.8" cy="464.4" r="2.9"/>
<circle cx="1121.5" cy="173.0" r="2.9"/>
<circle cx="850.9" cy="417.3" r="2.9"/>
<circle cx="1044.8" cy="241.6" r="2.9"/>
<circle cx="819.3" cy="430.2" r="2.9"/>
<circle cx="886.9" cy="374.4" r="2.9"/>
<circle cx="1040.3" cy="185.9" r="2.9"/>
<circle cx="905.0" cy="365.9" r="2.9"/>
<circle cx="823.8" cy="438.7" r="2.9"/>
<circle cx="873.4" cy="404.4" r="2.9"/>
<circle cx="968.1" cy="323.0" r="2.9"/>
<circle cx="1026.8" cy="275.9" r="2.9"/>
<circle cx="1035.8" cy="254.4" r="2.9"/>
<circle cx="941.1" cy="318.7" r="2.9"/>
<circle cx="859.9" cy="413.0" r="2.9"/>
<circle cx="990.7" cy="293.0" r="2.9"/>
<circle cx="995.2" cy="224.4" r="2.9"/>
<circle cx="886.9" cy="383.0" r="2.9"/>
<circle cx="972.6" cy="340.2" r="2.9"/>
<circle cx="882.4" cy="383.0" r="2.9"/>
<circle cx="990.7" cy="284.4" r="2.9"/>
<circle cx="886.9" cy="378.7" r="2.9"/>
<circle cx="886.9" cy="374.4" r="2.9"/>
<circle cx="1004.2" cy="267.3" r="2.9"/>
<circle cx="959.1" cy="310.1" r="2.9"/>
<circle cx="995.2" cy="327.3" r="2.9"/>
<circle cx="986.2" cy="297.3" r="2.9"/>
<circle cx="891.4" cy="374.4" r="2.9"/>
<circle cx="891.4" cy="400.2" r="2.9"/>
<circle cx="1126.0" cy="194.4" r="2.9"/>
<circle cx="1085.4" cy="211.6" r="2.9"/>
<circle cx="954.6" cy="297.3" r="2.9"/>
<circle cx="873.4" cy="395.9" r="2.9"/>
<circle cx="909.5" cy="370.2" r="2.9"/>
<circle cx="859.9" cy="413.0" r="2.9"/>
<circle cx="968.1" cy="297.3" r="2.9"/>
<circle cx="1139.5" cy="143.0" r="2.9"/>
<circle cx="896.0" cy="383.0" r="2.9"/>
<circle cx="900.5" cy="361.6" r="2.9"/>
<circle cx="909.5" cy="365.9" r="2.9"/>
<circle cx="896.0" cy="374.4" r="2.9"/>
<circle cx="1049.3" cy="203.0" r="2.9"/>
<circle cx="1044.8" cy="237.3" r="2.9"/>
<circle cx="1044.8" cy="241.6" r="2.9"/>
<circle cx="859.9" cy="400.2" r="2.9"/>
<circle cx="1008.7" cy="271.6" r="2.9"/>
<circle cx="1008.7" cy="267.3" r="2.9"/>
<circle cx="999.7" cy="280.1" r="2.9"/>
<circle cx="846.3" cy="408.7" r="2.9"/>
<circle cx="1067.3" cy="224.4" r="2.9"/>
<circle cx="963.6" cy="297.3" r="2.9"/>
<circle cx="828.3" cy="443.0" r="2.9"/>
<circle cx="1031.3" cy="258.7" r="2.9"/>
<circle cx="995.2" cy="250.1" r="2.9"/>
<circle cx="914.0" cy="357.3" r="2.9"/>
<circle cx="823.8" cy="443.0" r="2.9"/>
<circle cx="1126.0" cy="173.0" r="2.9"/>
<circle cx="859.9" cy="417.3" r="2.9"/>
<circle cx="1058.3" cy="211.6" r="2.9"/>
<circle cx="1112.4" cy="164.4" r="2.9"/>
<circle cx="941.1" cy="310.1" r="2.9"/>
<circle cx="900.5" cy="370.2" r="2.9"/>
<circle cx="1026.8" cy="267.3" r="2.9"/>
<circle cx="832.8" cy="421.6" r="2.9"/>
<circle cx="877.9" cy="378.7" r="2.9"/>
<circle cx="1026.8" cy="245.9" r="2.9"/>
<circle cx="828.3" cy="443.0" r="2.9"/>
<circle cx="914.0" cy="361.6" r="2.9"/>
<circle cx="886.9" cy="391.6" r="2.9"/>
<circle cx="977.1" cy="288.7" r="2.9"/>
<circle cx="828.3" cy="443.0" r="2.9"/>
<circle cx="1008.7" cy="241.6" r="2.9"/>
<circle cx="873.4" cy="387.3" r="2.9"/>
<circle cx="995.2" cy="263.0" r="2.9"/>
<circle cx="1058.3" cy="228.7" r="2.9"/>
<circle cx="1071.8" cy="228.7" r="2.9"/>
<circle cx="1022.2" cy="245.9" r="2.9"/>
<circle cx="995.2" cy="267.3" r="2.9"/>
<circle cx="995.2" cy="284.4" r="2.9"/>
<circle cx="923.0" cy="357.3" r="2.9"/>
<circle cx="905.0" cy="361.6" r="2.9"/>
<circle cx="823.8" cy="443.0" r="2.9"/>
<circle cx="1044.8" cy="250.1" r="2.9"/>
<circle cx="841.8" cy="425.9" r="2.9"/>
<circle cx="1040.3" cy="203.0" r="2.9"/>
<circle cx="941.1" cy="335.9" r="2.9"/>
<circle cx="1049.3" cy="228.7" r="2.9"/>
<circle cx="941.1" cy="340.2" r="2.9"/>
<circle cx="855.4" cy="413.0" r="2.9"/>
<circle cx="963.6" cy="301.6" r="2.9"/>
<circle cx="886.9" cy="383.0" r="2.9"/>
<circle cx="936.5" cy="335.9" r="2.9"/>
<circle cx="850.9" cy="417.3" r="2.9"/>
<circle cx="823.8" cy="443.0" r="2.9"/>
<circle cx="950.1" cy="353.0" r="2.9"/>
<circle cx="1008.7" cy="258.7" r="2.9"/>
<circle cx="945.6" cy="318.7" r="2.9"/>
<circle cx="841.8" cy="421.6" r="2.9"/>
<circle cx="995.2" cy="258.7" r="2.9"/>
<circle cx="981.6" cy="301.6" r="2.9"/>
<circle cx="891.4" cy="378.7" r="2.9"/>
<circle cx="823.8" cy="451.6" r="2.9"/>
<circle cx="1076.4" cy="245.9" r="2.9"/>
<circle cx="886.9" cy="383.0" r="2.9"/>
<circle cx="954.6" cy="305.9" r="2.9"/>
<circle cx="923.0" cy="340.2" r="2.9"/>
<circle cx="1071.8" cy="198.7" r="2.9"/>
<circle cx="1067.3" cy="233.0" r="2.9"/>
<circle cx="846.3" cy="421.6" r="2.9"/>
<circle cx="828.3" cy="434.4" r="2.9"/>
<circle cx="864.4" cy="425.9" r="2.9"/>
<circle cx="1008.7" cy="293.0" r="2.9"/>
<circle cx="945.6" cy="335.9" r="2.9"/>
<circle cx="1076.4" cy="228.7" r="2.9"/>
<circle cx="1067.3" cy="198.7" r="2.9"/>
<circle cx="923.0" cy="361.6" r="2.9"/>
<circle cx="999.7" cy="267.3" r="2.9"/>
<circle cx="959.1" cy="318.7" r="2.9"/>
<circle cx="1008.7" cy="275.9" r="2.9"/>
<circle cx="1040.3" cy="237.3" r="2.9"/>
<circle cx="986.2" cy="250.1" r="2.9"/>
<circle cx="868.9" cy="400.2" r="2.9"/>
<circle cx="1067.3" cy="203.0" r="2.9"/>
<circle cx="1080.9" cy="194.4" r="2.9"/>
<circle cx="1144.0" cy="185.9" r="2.9"/>
<circle cx="896.0" cy="348.7" r="2.9"/>
<circle cx="923.0" cy="378.7" r="2.9"/>
<circle cx="814.8" cy="438.7" r="2.9"/>
<circle cx="1004.2" cy="284.4" r="2.9"/>
<circle cx="864.4" cy="430.2" r="2.9"/>
<circle cx="963.6" cy="318.7" r="2.9"/>
<circle cx="855.4" cy="413.0" r="2.9"/>
<circle cx="1085.4" cy="181.6" r="2.9"/>
<circle cx="877.9" cy="395.9" r="2.9"/>
<circle cx="896.0" cy="408.7" r="2.9"/>
<circle cx="828.3" cy="425.9" r="2.9"/>
<circle cx="877.9" cy="383.0" r="2.9"/>
<circle cx="945.6" cy="353.0" r="2.9"/>
<circle cx="1076.4" cy="220.1" r="2.9"/>
<circle cx="841.8" cy="421.6" r="2.9"/>
<circle cx="882.4" cy="383.0" r="2.9"/>
<circle cx="1040.3" cy="233.0" r="2.9"/>
<circle cx="954.6" cy="348.7" r="2.9"/>
<circle cx="832.8" cy="443.0" r="2.9"/>
<circle cx="868.9" cy="438.7" r="2.9"/>
<circle cx="905.0" cy="361.6" r="2.9"/>
<circle cx="995.2" cy="288.7" r="2.9"/>
<circle cx="1080.9" cy="164.4" r="2.9"/>
<circle cx="1076.4" cy="228.7" r="2.9"/>
<circle cx="995.2" cy="271.6" r="2.9"/>
<circle cx="905.0" cy="365.9" r="2.9"/>
<circle cx="1116.9" cy="203.0" r="2.9"/>
<circle cx="882.4" cy="395.9" r="2.9"/>
<circle cx="918.5" cy="340.2" r="2.9"/>
<circle cx="868.9" cy="400.2" r="2.9"/>
<circle cx="832.8" cy="421.6" r="2.9"/>
<circle cx="963.6" cy="323.0" r="2.9"/>
<circle cx="923.0" cy="344.4" r="2.9"/>
<circle cx="1026.8" cy="275.9" r="2.9"/>
<circle cx="859.9" cy="421.6" r="2.9"/>
<circle cx="823.8" cy="473.0" r="2.9"/>
<circle cx="814.8" cy="464.4" r="2.9"/>
<circle cx="999.7" cy="314.4" r="2.9"/>
<circle cx="1017.7" cy="297.3" r="2.9"/>
<circle cx="945.6" cy="340.2" r="2.9"/>
<circle cx="832.8" cy="443.0" r="2.9"/>
<circle cx="1017.7" cy="271.6" r="2.9"/>
<circle cx="990.7" cy="327.3" r="2.9"/>
<circle cx="945.6" cy="353.0" r="2.9"/>
<circle cx="1035.8" cy="237.3" r="2.9"/>
<circle cx="932.0" cy="365.9" r="2.9"/>
<circle cx="1040.3" cy="245.9" r="2.9"/>
<circle cx="882.4" cy="383.0" r="2.9"/>
<circle cx="954.6" cy="305.9" r="2.9"/>
<circle cx="936.5" cy="331.6" r="2.9"/>
<circle cx="914.0" cy="370.2" r="2.9"/>
<circle cx="972.6" cy="305.9" r="2.9"/>
<circle cx="855.4" cy="421.6" r="2.9"/>
<circle cx="873.4" cy="378.7" r="2.9"/>
<circle cx="1103.4" cy="220.1" r="2.9"/>
<circle cx="995.2" cy="301.6" r="2.9"/>
<circle cx="1112.4" cy="173.0" r="2.9"/>
<circle cx="995.2" cy="284.4" r="2.9"/>
<circle cx="945.6" cy="340.2" r="2.9"/>
<circle cx="837.3" cy="413.0" r="2.9"/>
<circle cx="905.0" cy="357.3" r="2.9"/>
<circle cx="981.6" cy="271.6" r="2.9"/>
<circle cx="846.3" cy="395.9" r="2.9"/>
<circle cx="1067.3" cy="241.6" r="2.9"/>
<circle cx="859.9" cy="430.2" r="2.9"/>
<circle cx="859.9" cy="400.2" r="2.9"/>
<circle cx="999.7" cy="323.0" r="2.9"/>
<circle cx="959.1" cy="331.6" r="2.9"/>
<circle cx="846.3" cy="421.6" r="2.9"/>
<circle cx="1049.3" cy="220.1" r="2.9"/>
<circle cx="877.9" cy="391.6" r="2.9"/>
<circle cx="819.3" cy="451.6" r="2.9"/>
<circle cx="841.8" cy="430.2" r="2.9"/>
<circle cx="873.4" cy="400.2" r="2.9"/>
<circle cx="909.5" cy="365.9" r="2.9"/>
<circle cx="868.9" cy="374.4" r="2.9"/>
<circle cx="950.1" cy="340.2" r="2.9"/>
<circle cx="950.1" cy="310.1" r="2.9"/>
<circle cx="918.5" cy="353.0" r="2.9"/>
<circle cx="1013.2" cy="288.7" r="2.9"/>
<circle cx="1013.2" cy="254.4" r="2.9"/>
<circle cx="968.1" cy="293.0" r="2.9"/>
<circle cx="1044.8" cy="245.9" r="2.9"/>
<circle cx="954.6" cy="323.0" r="2.9"/>
<circle cx="927.5" cy="378.7" r="2.9"/>
<circle cx="1026.8" cy="245.9" r="2.9"/>
<circle cx="932.0" cy="344.4" r="2.9"/>
<circle cx="1008.7" cy="310.1" r="2.9"/>
<circle cx="968.1" cy="305.9" r="2.9"/>
<circle cx="1116.9" cy="151.6" r="2.9"/>
<circle cx="1040.3" cy="228.7" r="2.9"/>
<circle cx="900.5" cy="357.3" r="2.9"/>
<circle cx="990.7" cy="271.6" r="2.9"/>
<circle cx="981.6" cy="267.3" r="2.9"/>
<circle cx="859.9" cy="404.4" r="2.9"/>
<circle cx="1116.9" cy="130.1" r="2.9"/>
<circle cx="855.4" cy="417.3" r="2.9"/>
<circle cx="1044.8" cy="224.4" r="2.9"/>
<circle cx="1076.4" cy="164.4" r="2.9"/>
<circle cx="837.3" cy="421.6" r="2.9"/>
<circle cx="909.5" cy="340.2" r="2.9"/>
<circle cx="1044.8" cy="254.4" r="2.9"/>
<circle cx="1135.0" cy="138.7" r="2.9"/>
<circle cx="909.5" cy="361.6" r="2.9"/>
<circle cx="1013.2" cy="254.4" r="2.9"/>
<circle cx="1022.2" cy="280.1" r="2.9"/>
<circle cx="927.5" cy="331.6" r="2.9"/>
<circle cx="1062.8" cy="228.7" r="2.9"/>
<circle cx="995.2" cy="263.0" r="2.9"/>
<circle cx="1098.9" cy="151.6" r="2.9"/>
<circle cx="837.3" cy="425.9" r="2.9"/>
<circle cx="950.1" cy="323.0" r="2.9"/>
<circle cx="905.0" cy="374.4" r="2.9"/>
<circle cx="1017.7" cy="267.3" r="2.9"/>
<circle cx="846.3" cy="443.0" r="2.9"/>
<circle cx="1062.8" cy="271.6" r="2.9"/>
<circle cx="814.8" cy="443.0" r="2.9"/>
<circle cx="1044.8" cy="211.6" r="2.9"/>
<circle cx="1022.2" cy="233.0" r="2.9"/>
<circle cx="1116.9" cy="168.7" r="2.9"/>
<circle cx="1031.3" cy="258.7" r="2.9"/>
<circle cx="950.1" cy="305.9" r="2.9"/>
<circle cx="936.5" cy="357.3" r="2.9"/>
<circle cx="1107.9" cy="151.6" r="2.9"/>
<circle cx="1035.8" cy="228.7" r="2.9"/>
<circle cx="1035.8" cy="233.0" r="2.9"/>
<circle cx="868.9" cy="374.4" r="2.9"/>
<circle cx="905.0" cy="365.9" r="2.9"/>
<circle cx="918.5" cy="370.2" r="2.9"/>
<circle cx="1067.3" cy="198.7" r="2.9"/>
<circle cx="950.1" cy="374.4" r="2.9"/>
<circle cx="1076.4" cy="190.1" r="2.9"/>
<circle cx="819.3" cy="447.3" r="2.9"/>
<circle cx="990.7" cy="271.6" r="2.9"/>
<circle cx="909.5" cy="374.4" r="2.9"/>
<circle cx="923.0" cy="344.4" r="2.9"/>
<circle cx="990.7" cy="275.9" r="2.9"/>
<circle cx="1035.8" cy="228.7" r="2.9"/>
<circle cx="963.6" cy="340.2" r="2.9"/>
<circle cx="828.3" cy="434.4" r="2.9"/>
<circle cx="1049.3" cy="237.3" r="2.9"/>
<circle cx="1071.8" cy="198.7" r="2.9"/>
<circle cx="990.7" cy="288.7" r="2.9"/>
<circle cx="1067.3" cy="211.6" r="2.9"/>
<circle cx="823.8" cy="451.6" r="2.9"/>
<circle cx="909.5" cy="353.0" r="2.9"/>
<circle cx="1103.4" cy="181.6" r="2.9"/>
<circle cx="1153.0" cy="138.7" r="2.9"/>
<circle cx="868.9" cy="404.4" r="2.9"/>
<circle cx="1013.2" cy="245.9" r="2.9"/>
<circle cx="900.5" cy="365.9" r="2.9"/>
<circle cx="927.5" cy="314.4" r="2.9"/>
<circle cx="914.0" cy="340.2" r="2.9"/>
<circle cx="832.8" cy="443.0" r="2.9"/>
<circle cx="1071.8" cy="190.1" r="2.9"/>
<circle cx="832.8" cy="443.0" r="2.9"/>
<circle cx="1022.2" cy="258.7" r="2.9"/>
<circle cx="945.6" cy="301.6" r="2.9"/>
<circle cx="972.6" cy="305.9" r="2.9"/>
<circle cx="814.8" cy="434.4" r="2.9"/>
<circle cx="954.6" cy="340.2" r="2.9"/>
<circle cx="882.4" cy="383.0" r="2.9"/>
<circle cx="1017.7" cy="245.9" r="2.9"/>
<circle cx="981.6" cy="297.3" r="2.9"/>
<circle cx="1035.8" cy="198.7" r="2.9"/>
<circle cx="972.6" cy="310.1" r="2.9"/>
<circle cx="886.9" cy="400.2" r="2.9"/>
<circle cx="900.5" cy="378.7" r="2.9"/>
<circle cx="1062.8" cy="211.6" r="2.9"/>
<circle cx="995.2" cy="263.0" r="2.9"/>
<circle cx="1004.2" cy="280.1" r="2.9"/>
<circle cx="963.6" cy="335.9" r="2.9"/>
<circle cx="814.8" cy="481.6" r="2.9"/>
<circle cx="1026.8" cy="258.7" r="2.9"/>
<circle cx="823.8" cy="477.3" r="2.9"/>
<circle cx="896.0" cy="391.6" r="2.9"/>
<circle cx="999.7" cy="245.9" r="2.9"/>
<circle cx="945.6" cy="344.4" r="2.9"/>
<circle cx="900.5" cy="370.2" r="2.9"/>
<circle cx="909.5" cy="370.2" r="2.9"/>
<circle cx="981.6" cy="280.1" r="2.9"/>
<circle cx="1058.3" cy="190.1" r="2.9"/>
<circle cx="1031.3" cy="224.4" r="2.9"/>
<circle cx="864.4" cy="408.7" r="2.9"/>
<circle cx="1031.3" cy="254.4" r="2.9"/>
<circle cx="936.5" cy="318.7" r="2.9"/>
<circle cx="828.3" cy="430.2" r="2.9"/>
<circle cx="1058.3" cy="207.3" r="2.9"/>
<circle cx="819.3" cy="425.9" r="2.9"/>
<circle cx="1053.8" cy="241.6" r="2.9"/>
<circle cx="837.3" cy="425.9" r="2.9"/>
<circle cx="814.8" cy="460.2" r="2.9"/>
<circle cx="941.1" cy="357.3" r="2.9"/>
<circle cx="814.8" cy="443.0" r="2.9"/>
<circle cx="1067.3" cy="233.0" r="2.9"/>
<circle cx="1017.7" cy="263.0" r="2.9"/>
<circle cx="1116.9" cy="155.9" r="2.9"/>
<circle cx="877.9" cy="400.2" r="2.9"/>
<circle cx="891.4" cy="391.6" r="2.9"/>
<circle cx="918.5" cy="361.6" r="2.9"/>
<circle cx="837.3" cy="430.2" r="2.9"/>
<circle cx="877.9" cy="391.6" r="2.9"/>
<circle cx="1094.4" cy="185.9" r="2.9"/>
<circle cx="905.0" cy="370.2" r="2.9"/>
<circle cx="1103.4" cy="198.7" r="2.9"/>
<circle cx="823.8" cy="438.7" r="2.9"/>
<circle cx="972.6" cy="323.0" r="2.9"/>
<circle cx="950.1" cy="344.4" r="2.9"/>
<circle cx="864.4" cy="417.3" r="2.9"/>
<circle cx="1126.0" cy="138.7" r="2.9"/>
<circle cx="886.9" cy="400.2" r="2.9"/>
<circle cx="832.8" cy="430.2" r="2.9"/>
<circle cx="1080.9" cy="237.3" r="2.9"/>
<circle cx="954.6" cy="297.3" r="2.9"/>
<circle cx="1107.9" cy="147.3" r="2.9"/>
<circle cx="900.5" cy="370.2" r="2.9"/>
<circle cx="855.4" cy="404.4" r="2.9"/>
<circle cx="981.6" cy="314.4" r="2.9"/>
<circle cx="959.1" cy="335.9" r="2.9"/>
<circle cx="1103.4" cy="190.1" r="2.9"/>
<circle cx="950.1" cy="293.0" r="2.9"/>
<circle cx="945.6" cy="327.3" r="2.9"/>
<circle cx="873.4" cy="383.0" r="2.9"/>
<circle cx="846.3" cy="391.6" r="2.9"/>
<circle cx="1049.3" cy="245.9" r="2.9"/>
<circle cx="918.5" cy="348.7" r="2.9"/>
<circle cx="814.8" cy="443.0" r="2.9"/>
<circle cx="932.0" cy="310.1" r="2.9"/>
<circle cx="837.3" cy="417.3" r="2.9"/>
<circle cx="900.5" cy="348.7" r="2.9"/>
<circle cx="896.0" cy="400.2" r="2.9"/>
<circle cx="891.4" cy="374.4" r="2.9"/>
<circle cx="873.4" cy="400.2" r="2.9"/>
<circle cx="963.6" cy="293.0" r="2.9"/>
<circle cx="1031.3" cy="250.1" r="2.9"/>
<circle cx="1062.8" cy="198.7" r="2.9"/>
<circle cx="914.0" cy="370.2" r="2.9"/>
<circle cx="1085.4" cy="198.7" r="2.9"/>
<circle cx="1044.8" cy="220.1" r="2.9"/>
<circle cx="846.3" cy="430.2" r="2.9"/>
<circle cx="1049.3" cy="245.9" r="2.9"/>
<circle cx="855.4" cy="408.7" r="2.9"/>
<circle cx="1026.8" cy="271.6" r="2.9"/>
<circle cx="905.0" cy="370.2" r="2.9"/>
<circle cx="1035.8" cy="237.3" r="2.9"/>
<circle cx="886.9" cy="408.7" r="2.9"/>
<circle cx="990.7" cy="258.7" r="2.9"/>
<circle cx="832.8" cy="421.6" r="2.9"/>
<circle cx="823.8" cy="438.7" r="2.9"/>
<circle cx="832.8" cy="447.3" r="2.9"/>
<circle cx="873.4" cy="378.7" r="2.9"/>
<circle cx="936.5" cy="331.6" r="2.9"/>
<circle cx="1094.4" cy="190.1" r="2.9"/>
<circle cx="1103.4" cy="194.4" r="2.9"/>
<circle cx="886.9" cy="374.4" r="2.9"/>
<circle cx="909.5" cy="348.7" r="2.9"/>
<circle cx="864.4" cy="400.2" r="2.9"/>
<circle cx="1071.8" cy="181.6" r="2.9"/>
<circle cx="1026.8" cy="310.1" r="2.9"/>
<circle cx="868.9" cy="378.7" r="2.9"/>
<circle cx="945.6" cy="353.0" r="2.9"/>
<circle cx="855.4" cy="413.0" r="2.9"/>
<circle cx="1044.8" cy="250.1" r="2.9"/>
<circle cx="981.6" cy="288.7" r="2.9"/>
<circle cx="873.4" cy="404.4" r="2.9"/>
<circle cx="963.6" cy="288.7" r="2.9"/>
<circle cx="909.5" cy="318.7" r="2.9"/>
<circle cx="1049.3" cy="207.3" r="2.9"/>
<circle cx="891.4" cy="374.4" r="2.9"/>
<circle cx="968.1" cy="297.3" r="2.9"/>
<circle cx="846.3" cy="425.9" r="2.9"/>
<circle cx="1126.0" cy="121.6" r="2.9"/>
<circle cx="859.9" cy="387.3" r="2.9"/>
<circle cx="999.7" cy="301.6" r="2.9"/>
<circle cx="819.3" cy="447.3" r="2.9"/>
<circle cx="1049.3" cy="215.9" r="2.9"/>
<circle cx="868.9" cy="400.2" r="2.9"/>
<circle cx="1035.8" cy="185.9" r="2.9"/>
<circle cx="850.9" cy="408.7" r="2.9"/>
<circle cx="1098.9" cy="173.0" r="2.9"/>
<circle cx="864.4" cy="417.3" r="2.9"/>
<circle cx="828.3" cy="430.2" r="2.9"/>
<circle cx="896.0" cy="340.2" r="2.9"/>
<circle cx="945.6" cy="318.7" r="2.9"/>
<circle cx="968.1" cy="301.6" r="2.9"/>
<circle cx="1094.4" cy="211.6" r="2.9"/>
<circle cx="972.6" cy="293.0" r="2.9"/>
<circle cx="954.6" cy="327.3" r="2.9"/>
<circle cx="837.3" cy="443.0" r="2.9"/>
<circle cx="1103.4" cy="164.4" r="2.9"/>
<circle cx="972.6" cy="301.6" r="2.9"/>
<circle cx="1017.7" cy="280.1" r="2.9"/>
<circle cx="900.5" cy="383.0" r="2.9"/>
<circle cx="945.6" cy="314.4" r="2.9"/>
<circle cx="1026.8" cy="245.9" r="2.9"/>
<circle cx="959.1" cy="310.1" r="2.9"/>
<circle cx="1080.9" cy="198.7" r="2.9"/>
<circle cx="891.4" cy="361.6" r="2.9"/>
<circle cx="909.5" cy="340.2" r="2.9"/>
<circle cx="855.4" cy="421.6" r="2.9"/>
<circle cx="896.0" cy="327.3" r="2.9"/>
<circle cx="914.0" cy="361.6" r="2.9"/>
<circle cx="986.2" cy="305.9" r="2.9"/>
<circle cx="837.3" cy="421.6" r="2.9"/>
<circle cx="963.6" cy="305.9" r="2.9"/>
<circle cx="1071.8" cy="237.3" r="2.9"/>
<circle cx="891.4" cy="365.9" r="2.9"/>
<circle cx="1031.3" cy="237.3" r="2.9"/>
<circle cx="977.1" cy="314.4" r="2.9"/>
<circle cx="1080.9" cy="198.7" r="2.9"/>
<circle cx="900.5" cy="378.7" r="2.9"/>
<circle cx="918.5" cy="344.4" r="2.9"/>
<circle cx="819.3" cy="455.9" r="2.9"/>
<circle cx="905.0" cy="353.0" r="2.9"/>
<circle cx="932.0" cy="323.0" r="2.9"/>
<circle cx="1008.7" cy="237.3" r="2.9"/>
<circle cx="859.9" cy="408.7" r="2.9"/>
<circle cx="1076.4" cy="245.9" r="2.9"/>
<circle cx="959.1" cy="297.3" r="2.9"/>
<circle cx="923.0" cy="353.0" r="2.9"/>
<circle cx="950.1" cy="331.6" r="2.9"/>
<circle cx="1026.8" cy="284.4" r="2.9"/>
<circle cx="995.2" cy="275.9" r="2.9"/>
<circle cx="968.1" cy="310.1" r="2.9"/>
<circle cx="882.4" cy="391.6" r="2.9"/>
<circle cx="900.5" cy="395.9" r="2.9"/>
<circle cx="1112.4" cy="190.1" r="2.9"/>
<circle cx="963.6" cy="323.0" r="2.9"/>
<circle cx="1062.8" cy="181.6" r="2.9"/>
<circle cx="986.2" cy="297.3" r="2.9"/>
<circle cx="905.0" cy="318.7" r="2.9"/>
<circle cx="1031.3" cy="258.7" r="2.9"/>
<circle cx="909.5" cy="387.3" r="2.9"/>
<circle cx="868.9" cy="395.9" r="2.9"/>
<circle cx="886.9" cy="370.2" r="2.9"/>
<circle cx="873.4" cy="387.3" r="2.9"/>
<circle cx="850.9" cy="413.0" r="2.9"/>
<circle cx="927.5" cy="327.3" r="2.9"/>
<circle cx="1017.7" cy="245.9" r="2.9"/>
<circle cx="1004.2" cy="263.0" r="2.9"/>
<circle cx="1008.7" cy="263.0" r="2.9"/>
<circle cx="1062.8" cy="211.6" r="2.9"/>
<circle cx="1044.8" cy="271.6" r="2.9"/>
<circle cx="927.5" cy="361.6" r="2.9"/>
<circle cx="1008.7" cy="250.1" r="2.9"/>
<circle cx="1049.3" cy="245.9" r="2.9"/>
<circle cx="877.9" cy="400.2" r="2.9"/>
<circle cx="823.8" cy="451.6" r="2.9"/>
<circle cx="841.8" cy="421.6" r="2.9"/>
<circle cx="850.9" cy="404.4" r="2.9"/>
<circle cx="1148.5" cy="95.8" r="2.9"/>
<circle cx="1080.9" cy="185.9" r="2.9"/>
<circle cx="963.6" cy="335.9" r="2.9"/>
<circle cx="859.9" cy="404.4" r="2.9"/>
<circle cx="1035.8" cy="203.0" r="2.9"/>
<circle cx="868.9" cy="404.4" r="2.9"/>
<circle cx="859.9" cy="395.9" r="2.9"/>
<circle cx="905.0" cy="387.3" r="2.9"/>
<circle cx="936.5" cy="318.7" r="2.9"/>
<circle cx="846.3" cy="413.0" r="2.9"/>
<circle cx="873.4" cy="391.6" r="2.9"/>
<circle cx="905.0" cy="353.0" r="2.9"/>
<circle cx="1080.9" cy="224.4" r="2.9"/>
<circle cx="1080.9" cy="215.9" r="2.9"/>
<circle cx="819.3" cy="443.0" r="2.9"/>
<circle cx="1017.7" cy="293.0" r="2.9"/>
<circle cx="868.9" cy="383.0" r="2.9"/>
<circle cx="963.6" cy="327.3" r="2.9"/>
<circle cx="877.9" cy="391.6" r="2.9"/>
<circle cx="986.2" cy="293.0" r="2.9"/>
<circle cx="900.5" cy="348.7" r="2.9"/>
<circle cx="855.4" cy="395.9" r="2.9"/>
<circle cx="1004.2" cy="293.0" r="2.9"/>
<circle cx="873.4" cy="395.9" r="2.9"/>
<circle cx="850.9" cy="408.7" r="2.9"/>
<circle cx="896.0" cy="357.3" r="2.9"/>
<circle cx="1022.2" cy="258.7" r="2.9"/>
<circle cx="1076.4" cy="233.0" r="2.9"/>
<circle cx="886.9" cy="413.0" r="2.9"/>
<circle cx="868.9" cy="408.7" r="2.9"/>
<circle cx="914.0" cy="370.2" r="2.9"/>
<circle cx="977.1" cy="305.9" r="2.9"/>
<circle cx="986.2" cy="310.1" r="2.9"/>
<circle cx="968.1" cy="288.7" r="2.9"/>
<circle cx="981.6" cy="335.9" r="2.9"/>
<circle cx="968.1" cy="323.0" r="2.9"/>
<circle cx="914.0" cy="361.6" r="2.9"/>
<circle cx="886.9" cy="383.0" r="2.9"/>
<circle cx="936.5" cy="331.6" r="2.9"/>
<circle cx="1013.2" cy="211.6" r="2.9"/>
<circle cx="995.2" cy="275.9" r="2.9"/>
<circle cx="819.3" cy="451.6" r="2.9"/>
<circle cx="1089.9" cy="181.6" r="2.9"/>
<circle cx="841.8" cy="421.6" r="2.9"/>
<circle cx="914.0" cy="370.2" r="2.9"/>
<circle cx="990.7" cy="284.4" r="2.9"/>
<circle cx="1013.2" cy="271.6" r="2.9"/>
<circle cx="986.2" cy="293.0" r="2.9"/>
<circle cx="968.1" cy="305.9" r="2.9"/>
<circle cx="977.1" cy="314.4" r="2.9"/>
<circle cx="1103.4" cy="198.7" r="2.9"/>
<circle cx="990.7" cy="301.6" r="2.9"/>
<circle cx="832.8" cy="438.7" r="2.9"/>
<circle cx="1076.4" cy="228.7" r="2.9"/>
<circle cx="918.5" cy="361.6" r="2.9"/>
<circle cx="1004.2" cy="310.1" r="2.9"/>
<circle cx="891.4" cy="404.4" r="2.9"/>
<circle cx="1080.9" cy="215.9" r="2.9"/>
<circle cx="819.3" cy="468.7" r="2.9"/>
<circle cx="882.4" cy="400.2" r="2.9"/>
<circle cx="864.4" cy="425.9" r="2.9"/>
<circle cx="855.4" cy="404.4" r="2.9"/>
<circle cx="968.1" cy="331.6" r="2.9"/>
<circle cx="941.1" cy="318.7" r="2.9"/>
<circle cx="950.1" cy="288.7" r="2.9"/>
<circle cx="868.9" cy="400.2" r="2.9"/>
<circle cx="1040.3" cy="237.3" r="2.9"/>
<circle cx="868.9" cy="413.0" r="2.9"/>
<circle cx="882.4" cy="383.0" r="2.9"/>
<circle cx="927.5" cy="310.1" r="2.9"/>
<circle cx="850.9" cy="400.2" r="2.9"/>
<circle cx="859.9" cy="404.4" r="2.9"/>
<circle cx="1049.3" cy="203.0" r="2.9"/>
<circle cx="995.2" cy="275.9" r="2.9"/>
<circle cx="1017.7" cy="241.6" r="2.9"/>
<circle cx="981.6" cy="305.9" r="2.9"/>
<circle cx="1107.9" cy="194.4" r="2.9"/>
<circle cx="950.1" cy="344.4" r="2.9"/>
<circle cx="1004.2" cy="288.7" r="2.9"/>
<circle cx="1022.2" cy="258.7" r="2.9"/>
<circle cx="1026.8" cy="228.7" r="2.9"/>
<circle cx="859.9" cy="417.3" r="2.9"/>
<circle cx="841.8" cy="421.6" r="2.9"/>
<circle cx="837.3" cy="425.9" r="2.9"/>
<circle cx="900.5" cy="378.7" r="2.9"/>
<circle cx="841.8" cy="430.2" r="2.9"/>
<circle cx="963.6" cy="318.7" r="2.9"/>
<circle cx="995.2" cy="284.4" r="2.9"/>
<circle cx="1058.3" cy="233.0" r="2.9"/>
<circle cx="1076.4" cy="215.9" r="2.9"/>
<circle cx="1076.4" cy="198.7" r="2.9"/>
<circle cx="841.8" cy="425.9" r="2.9"/>
<circle cx="995.2" cy="318.7" r="2.9"/>
<circle cx="932.0" cy="340.2" r="2.9"/>
<circle cx="1049.3" cy="258.7" r="2.9"/>
<circle cx="864.4" cy="417.3" r="2.9"/>
<circle cx="814.8" cy="455.9" r="2.9"/>
<circle cx="1139.5" cy="164.4" r="2.9"/>
<circle cx="981.6" cy="280.1" r="2.9"/>
<circle cx="914.0" cy="344.4" r="2.9"/>
<circle cx="850.9" cy="395.9" r="2.9"/>
<circle cx="990.7" cy="271.6" r="2.9"/>
<circle cx="864.4" cy="400.2" r="2.9"/>
<circle cx="941.1" cy="318.7" r="2.9"/>
<circle cx="832.8" cy="425.9" r="2.9"/>
<circle cx="1035.8" cy="250.1" r="2.9"/>
<circle cx="914.0" cy="387.3" r="2.9"/>
<circle cx="846.3" cy="417.3" r="2.9"/>
<circle cx="905.0" cy="361.6" r="2.9"/>
<circle cx="1044.8" cy="237.3" r="2.9"/>
<circle cx="896.0" cy="357.3" r="2.9"/>
<circle cx="932.0" cy="361.6" r="2.9"/>
<circle cx="1130.5" cy="130.1" r="2.9"/>
<circle cx="981.6" cy="275.9" r="2.9"/>
<circle cx="954.6" cy="331.6" r="2.9"/>
<circle cx="1071.8" cy="211.6" r="2.9"/>
<circle cx="990.7" cy="297.3" r="2.9"/>
<circle cx="855.4" cy="421.6" r="2.9"/>
<circle cx="914.0" cy="361.6" r="2.9"/>
<circle cx="927.5" cy="353.0" r="2.9"/>
<circle cx="832.8" cy="434.4" r="2.9"/>
<circle cx="823.8" cy="443.0" r="2.9"/>
<circle cx="1085.4" cy="198.7" r="2.9"/>
<circle cx="941.1" cy="353.0" r="2.9"/>
<circle cx="914.0" cy="370.2" r="2.9"/>
<circle cx="909.5" cy="361.6" r="2.9"/>
<circle cx="977.1" cy="310.1" r="2.9"/>
<circle cx="877.9" cy="391.6" r="2.9"/>
<circle cx="900.5" cy="353.0" r="2.9"/>
<circle cx="905.0" cy="365.9" r="2.9"/>
<circle cx="1053.8" cy="250.1" r="2.9"/>
<circle cx="1022.2" cy="267.3" r="2.9"/>
<circle cx="896.0" cy="378.7" r="2.9"/>
<circle cx="990.7" cy="254.4" r="2.9"/>
<circle cx="932.0" cy="340.2" r="2.9"/>
<circle cx="959.1" cy="305.9" r="2.9"/>
<circle cx="918.5" cy="370.2" r="2.9"/>
<circle cx="855.4" cy="417.3" r="2.9"/>
<circle cx="900.5" cy="348.7" r="2.9"/>
<circle cx="877.9" cy="400.2" r="2.9"/>
<circle cx="905.0" cy="378.7" r="2.9"/>
<circle cx="1026.8" cy="267.3" r="2.9"/>
<circle cx="873.4" cy="413.0" r="2.9"/>
<circle cx="1040.3" cy="254.4" r="2.9"/>
<circle cx="950.1" cy="323.0" r="2.9"/>
<circle cx="918.5" cy="357.3" r="2.9"/>
<circle cx="990.7" cy="314.4" r="2.9"/>
<circle cx="1004.2" cy="275.9" r="2.9"/>
<circle cx="868.9" cy="404.4" r="2.9"/>
<circle cx="1080.9" cy="211.6" r="2.9"/>
<circle cx="995.2" cy="254.4" r="2.9"/>
<circle cx="932.0" cy="353.0" r="2.9"/>
<circle cx="855.4" cy="413.0" r="2.9"/>
<circle cx="945.6" cy="348.7" r="2.9"/>
<circle cx="886.9" cy="370.2" r="2.9"/>
<circle cx="918.5" cy="340.2" r="2.9"/>
<circle cx="914.0" cy="365.9" r="2.9"/>
<circle cx="882.4" cy="383.0" r="2.9"/>
<circle cx="932.0" cy="374.4" r="2.9"/>
<circle cx="981.6" cy="288.7" r="2.9"/>
<circle cx="1089.9" cy="237.3" r="2.9"/>
<circle cx="864.4" cy="421.6" r="2.9"/>
<circle cx="1040.3" cy="228.7" r="2.9"/>
<circle cx="828.3" cy="434.4" r="2.9"/>
<circle cx="923.0" cy="344.4" r="2.9"/>
<circle cx="873.4" cy="365.9" r="2.9"/>
<circle cx="968.1" cy="271.6" r="2.9"/>
<circle cx="900.5" cy="331.6" r="2.9"/>
<circle cx="846.3" cy="421.6" r="2.9"/>
<circle cx="954.6" cy="305.9" r="2.9"/>
<circle cx="936.5" cy="370.2" r="2.9"/>
<circle cx="990.7" cy="305.9" r="2.9"/>
<circle cx="855.4" cy="378.7" r="2.9"/>
<circle cx="1112.4" cy="211.6" r="2.9"/>
<circle cx="868.9" cy="395.9" r="2.9"/>
<circle cx="909.5" cy="361.6" r="2.9"/>
<circle cx="868.9" cy="404.4" r="2.9"/>
<circle cx="819.3" cy="455.9" r="2.9"/>
<circle cx="927.5" cy="365.9" r="2.9"/>
<circle cx="1076.4" cy="198.7" r="2.9"/>
<circle cx="963.6" cy="297.3" r="2.9"/>
<circle cx="846.3" cy="434.4" r="2.9"/>
<circle cx="873.4" cy="408.7" r="2.9"/>
<circle cx="868.9" cy="404.4" r="2.9"/>
<circle cx="927.5" cy="357.3" r="2.9"/>
<circle cx="1035.8" cy="215.9" r="2.9"/>
<circle cx="1044.8" cy="228.7" r="2.9"/>
<circle cx="1080.9" cy="224.4" r="2.9"/>
<circle cx="968.1" cy="301.6" r="2.9"/>
<circle cx="896.0" cy="383.0" r="2.9"/>
<circle cx="918.5" cy="327.3" r="2.9"/>
<circle cx="814.8" cy="460.2" r="2.9"/>
<circle cx="972.6" cy="314.4" r="2.9"/>
<circle cx="959.1" cy="280.1" r="2.9"/>
<circle cx="1017.7" cy="275.9" r="2.9"/>
<circle cx="891.4" cy="383.0" r="2.9"/>
<circle cx="1013.2" cy="297.3" r="2.9"/>
<circle cx="968.1" cy="293.0" r="2.9"/>
<circle cx="1058.3" cy="220.1" r="2.9"/>
<circle cx="855.4" cy="408.7" r="2.9"/>
<circle cx="909.5" cy="370.2" r="2.9"/>
<circle cx="914.0" cy="353.0" r="2.9"/>
<circle cx="873.4" cy="400.2" r="2.9"/>
<circle cx="954.6" cy="297.3" r="2.9"/>
<circle cx="819.3" cy="438.7" r="2.9"/>
<circle cx="828.3" cy="451.6" r="2.9"/>
<circle cx="981.6" cy="301.6" r="2.9"/>
<circle cx="995.2" cy="301.6" r="2.9"/>
<circle cx="1022.2" cy="250.1" r="2.9"/>
<circle cx="927.5" cy="331.6" r="2.9"/>
<circle cx="923.0" cy="340.2" r="2.9"/>
<circle cx="819.3" cy="451.6" r="2.9"/>
<circle cx="841.8" cy="430.2" r="2.9"/>
<circle cx="850.9" cy="404.4" r="2.9"/>
<circle cx="1035.8" cy="280.1" r="2.9"/>
<circle cx="1035.8" cy="245.9" r="2.9"/>
<circle cx="905.0" cy="391.6" r="2.9"/>
<circle cx="1049.3" cy="245.9" r="2.9"/>
<circle cx="981.6" cy="305.9" r="2.9"/>
<circle cx="859.9" cy="434.4" r="2.9"/>
<circle cx="927.5" cy="335.9" r="2.9"/>
<circle cx="896.0" cy="378.7" r="2.9"/>
<circle cx="1058.3" cy="198.7" r="2.9"/>
<circle cx="859.9" cy="413.0" r="2.9"/>
<circle cx="873.4" cy="378.7" r="2.9"/>
<circle cx="941.1" cy="310.1" r="2.9"/>
<circle cx="1076.4" cy="224.4" r="2.9"/>
<circle cx="945.6" cy="361.6" r="2.9"/>
<circle cx="837.3" cy="417.3" r="2.9"/>
<circle cx="1049.3" cy="228.7" r="2.9"/>
<circle cx="999.7" cy="293.0" r="2.9"/>
<circle cx="999.7" cy="284.4" r="2.9"/>
<circle cx="941.1" cy="314.4" r="2.9"/>
<circle cx="873.4" cy="391.6" r="2.9"/>
<circle cx="1035.8" cy="245.9" r="2.9"/>
<circle cx="1089.9" cy="185.9" r="2.9"/>
<circle cx="1008.7" cy="293.0" r="2.9"/>
<circle cx="1089.9" cy="190.1" r="2.9"/>
<circle cx="1013.2" cy="297.3" r="2.9"/>
<circle cx="1116.9" cy="194.4" r="2.9"/>
<circle cx="932.0" cy="335.9" r="2.9"/>
<circle cx="868.9" cy="400.2" r="2.9"/>
<circle cx="1017.7" cy="267.3" r="2.9"/>
<circle cx="1044.8" cy="258.7" r="2.9"/>
<circle cx="918.5" cy="374.4" r="2.9"/>
<circle cx="819.3" cy="455.9" r="2.9"/>
<circle cx="914.0" cy="344.4" r="2.9"/>
<circle cx="972.6" cy="323.0" r="2.9"/>
<circle cx="1103.4" cy="198.7" r="2.9"/>
<circle cx="850.9" cy="443.0" r="2.9"/>
<circle cx="864.4" cy="391.6" r="2.9"/>
<circle cx="972.6" cy="327.3" r="2.9"/>
<circle cx="819.3" cy="438.7" r="2.9"/>
<circle cx="963.6" cy="297.3" r="2.9"/>
<circle cx="864.4" cy="400.2" r="2.9"/>
<circle cx="1121.5" cy="190.1" r="2.9"/>
<circle cx="932.0" cy="357.3" r="2.9"/>
<circle cx="832.8" cy="443.0" r="2.9"/>
<circle cx="855.4" cy="408.7" r="2.9"/>
<circle cx="909.5" cy="353.0" r="2.9"/>
<circle cx="914.0" cy="361.6" r="2.9"/>
<circle cx="828.3" cy="430.2" r="2.9"/>
<circle cx="905.0" cy="361.6" r="2.9"/>
<circle cx="1031.3" cy="254.4" r="2.9"/>
<circle cx="828.3" cy="455.9" r="2.9"/>
<circle cx="1013.2" cy="245.9" r="2.9"/>
<circle cx="1022.2" cy="275.9" r="2.9"/>
<circle cx="1062.8" cy="207.3" r="2.9"/>
<circle cx="923.0" cy="344.4" r="2.9"/>
<circle cx="941.1" cy="310.1" r="2.9"/>
<circle cx="914.0" cy="357.3" r="2.9"/>
<circle cx="1017.7" cy="241.6" r="2.9"/>
<circle cx="877.9" cy="374.4" r="2.9"/>
<circle cx="1049.3" cy="207.3" r="2.9"/>
<circle cx="977.1" cy="310.1" r="2.9"/>
<circle cx="963.6" cy="340.2" r="2.9"/>
<circle cx="855.4" cy="430.2" r="2.9"/>
<circle cx="828.3" cy="443.0" r="2.9"/>
<circle cx="977.1" cy="280.1" r="2.9"/>
<circle cx="1031.3" cy="211.6" r="2.9"/>
<circle cx="864.4" cy="408.7" r="2.9"/>
<circle cx="1017.7" cy="293.0" r="2.9"/>
<circle cx="1040.3" cy="198.7" r="2.9"/>
<circle cx="877.9" cy="417.3" r="2.9"/>
<circle cx="886.9" cy="370.2" r="2.9"/>
<circle cx="837.3" cy="447.3" r="2.9"/>
<circle cx="968.1" cy="310.1" r="2.9"/>
<circle cx="1071.8" cy="190.1" r="2.9"/>
<circle cx="859.9" cy="383.0" r="2.9"/>
<circle cx="1098.9" cy="185.9" r="2.9"/>
<circle cx="1044.8" cy="190.1" r="2.9"/>
<circle cx="1135.0" cy="181.6" r="2.9"/>
<circle cx="1049.3" cy="215.9" r="2.9"/>
<circle cx="1053.8" cy="237.3" r="2.9"/>
<circle cx="981.6" cy="280.1" r="2.9"/>
<circle cx="1071.8" cy="245.9" r="2.9"/>
<circle cx="864.4" cy="395.9" r="2.9"/>
<circle cx="891.4" cy="353.0" r="2.9"/>
<circle cx="959.1" cy="305.9" r="2.9"/>
<circle cx="900.5" cy="378.7" r="2.9"/>
<circle cx="1040.3" cy="263.0" r="2.9"/>
<circle cx="864.4" cy="404.4" r="2.9"/>
<circle cx="877.9" cy="383.0" r="2.9"/>
<circle cx="1022.2" cy="254.4" r="2.9"/>
<circle cx="846.3" cy="434.4" r="2.9"/>
<circle cx="1053.8" cy="233.0" r="2.9"/>
<circle cx="905.0" cy="353.0" r="2.9"/>
<circle cx="905.0" cy="395.9" r="2.9"/>
<circle cx="828.3" cy="421.6" r="2.9"/>
<circle cx="859.9" cy="357.3" r="2.9"/>
<circle cx="986.2" cy="275.9" r="2.9"/>
<circle cx="1058.3" cy="250.1" r="2.9"/>
<circle cx="837.3" cy="425.9" r="2.9"/>
<circle cx="1094.4" cy="203.0" r="2.9"/>
<circle cx="1026.8" cy="250.1" r="2.9"/>
<circle cx="986.2" cy="271.6" r="2.9"/>
<circle cx="932.0" cy="301.6" r="2.9"/>
<circle cx="905.0" cy="361.6" r="2.9"/>
<circle cx="1031.3" cy="275.9" r="2.9"/>
<circle cx="914.0" cy="387.3" r="2.9"/>
<circle cx="828.3" cy="434.4" r="2.9"/>
<circle cx="873.4" cy="391.6" r="2.9"/>
<circle cx="932.0" cy="340.2" r="2.9"/>
<circle cx="1008.7" cy="258.7" r="2.9"/>
<circle cx="882.4" cy="387.3" r="2.9"/>
<circle cx="909.5" cy="400.2" r="2.9"/>
<circle cx="877.9" cy="383.0" r="2.9"/>
<circle cx="1126.0" cy="138.7" r="2.9"/>
<circle cx="1076.4" cy="211.6" r="2.9"/>
<circle cx="1026.8" cy="245.9" r="2.9"/>
<circle cx="1035.8" cy="220.1" r="2.9"/>
<circle cx="977.1" cy="305.9" r="2.9"/>
<circle cx="1040.3" cy="254.4" r="2.9"/>
<circle cx="941.1" cy="335.9" r="2.9"/>
<circle cx="995.2" cy="288.7" r="2.9"/>
<circle cx="832.8" cy="430.2" r="2.9"/>
<circle cx="936.5" cy="314.4" r="2.9"/>
<circle cx="832.8" cy="430.2" r="2.9"/>
<circle cx="995.2" cy="288.7" r="2.9"/>
<circle cx="1035.8" cy="263.0" r="2.9"/>
<circle cx="882.4" cy="383.0" r="2.9"/>
<circle cx="837.3" cy="455.9" r="2.9"/>
<circle cx="832.8" cy="443.0" r="2.9"/>
<circle cx="1058.3" cy="220.1" r="2.9"/>
<circle cx="1035.8" cy="224.4" r="2.9"/>
<circle cx="1017.7" cy="254.4" r="2.9"/>
<circle cx="814.8" cy="434.4" r="2.9"/>
<circle cx="986.2" cy="335.9" r="2.9"/>
<circle cx="945.6" cy="340.2" r="2.9"/>
<circle cx="1062.8" cy="241.6" r="2.9"/>
<circle cx="1049.3" cy="237.3" r="2.9"/>
<circle cx="986.2" cy="275.9" r="2.9"/>
<circle cx="1013.2" cy="241.6" r="2.9"/>
<circle cx="823.8" cy="443.0" r="2.9"/>
<circle cx="905.0" cy="348.7" r="2.9"/>
<circle cx="850.9" cy="421.6" r="2.9"/>
<circle cx="1013.2" cy="220.1" r="2.9"/>
<circle cx="814.8" cy="438.7" r="2.9"/>
<circle cx="1013.2" cy="267.3" r="2.9"/>
<circle cx="905.0" cy="365.9" r="2.9"/>
<circle cx="832.8" cy="400.2" r="2.9"/>
<circle cx="977.1" cy="314.4" r="2.9"/>
<circle cx="909.5" cy="353.0" r="2.9"/>
<circle cx="1076.4" cy="237.3" r="2.9"/>
<circle cx="841.8" cy="434.4" r="2.9"/>
<circle cx="819.3" cy="447.3" r="2.9"/>
<circle cx="932.0" cy="378.7" r="2.9"/>
<circle cx="963.6" cy="297.3" r="2.9"/>
<circle cx="981.6" cy="293.0" r="2.9"/>
<circle cx="832.8" cy="447.3" r="2.9"/>
<circle cx="864.4" cy="408.7" r="2.9"/>
<circle cx="846.3" cy="425.9" r="2.9"/>
<circle cx="882.4" cy="400.2" r="2.9"/>
<circle cx="864.4" cy="408.7" r="2.9"/>
<circle cx="954.6" cy="353.0" r="2.9"/>
<circle cx="914.0" cy="365.9" r="2.9"/>
<circle cx="932.0" cy="344.4" r="2.9"/>
<circle cx="841.8" cy="434.4" r="2.9"/>
<circle cx="832.8" cy="434.4" r="2.9"/>
<circle cx="832.8" cy="408.7" r="2.9"/>
<circle cx="990.7" cy="314.4" r="2.9"/>
<circle cx="990.7" cy="305.9" r="2.9"/>
<circle cx="1004.2" cy="263.0" r="2.9"/>
<circle cx="1035.8" cy="245.9" r="2.9"/>
<circle cx="828.3" cy="451.6" r="2.9"/>
<circle cx="1026.8" cy="258.7" r="2.9"/>
<circle cx="1040.3" cy="245.9" r="2.9"/>
<circle cx="941.1" cy="348.7" r="2.9"/>
<circle cx="1058.3" cy="250.1" r="2.9"/>
<circle cx="1022.2" cy="258.7" r="2.9"/>
<circle cx="968.1" cy="331.6" r="2.9"/>
<circle cx="841.8" cy="455.9" r="2.9"/>
<circle cx="986.2" cy="297.3" r="2.9"/>
<circle cx="1026.8" cy="263.0" r="2.9"/>
<circle cx="909.5" cy="370.2" r="2.9"/>
<circle cx="1035.8" cy="215.9" r="2.9"/>
<circle cx="941.1" cy="327.3" r="2.9"/>
<circle cx="886.9" cy="387.3" r="2.9"/>
<circle cx="873.4" cy="391.6" r="2.9"/>
<circle cx="932.0" cy="340.2" r="2.9"/>
<circle cx="873.4" cy="378.7" r="2.9"/>
<circle cx="832.8" cy="327.3" r="2.9"/>
<circle cx="986.2" cy="395.9" r="2.9"/>
<circle cx="999.7" cy="391.6" r="2.9"/>
<circle cx="1013.2" cy="398.0" r="2.9"/>
<circle cx="945.6" cy="361.6" r="2.9"/>
<circle cx="905.0" cy="449.4" r="2.9"/>
<circle cx="828.3" cy="473.0" r="2.9"/>
<circle cx="832.8" cy="475.2" r="2.9"/>
<circle cx="819.3" cy="468.7" r="2.9"/>
<circle cx="1139.5" cy="104.4" r="2.9"/>
<circle cx="1116.9" cy="117.3" r="2.9"/>
<circle cx="1157.5" cy="164.4" r="2.9"/>
</g>
<line x1="776.6" y1="478.4" x2="1200.5" y2="108.0" stroke="#d4372b" stroke-width="2.6"/>
<rect x="147.2" y="746.1" width="424.1" height="402.8" fill="none" stroke="#333" stroke-width="1.1"/>
<line x1="162.7" y1="1148.9" x2="162.7" y2="1156.9" stroke="#333" stroke-width="1"/>
<text x="162.7" y="1175.6" font-size="21" text-anchor="middle" fill="#111" stroke="#111" stroke-width="0.3">0</text>
<line x1="271.4" y1="1148.9" x2="271.4" y2="1156.9" stroke="#333" stroke-width="1"/>
<text x="271.4" y="1175.6" font-size="21" text-anchor="middle" fill="#111" stroke="#111" stroke-width="0.3">100</text>
<line x1="380.1" y1="1148.9" x2="380.1" y2="1156.9" stroke="#333" stroke-width="1"/>
<text x="380.1" y="1175.6" font-size="21" text-anchor="middle" fill="#111" stroke="#111" stroke-width="0.3">200</text>
<line x1="488.8" y1="1148.9" x2="488.8" y2="1156.9" stroke="#333" stroke-width="1"/>
<text x="488.8" y="1175.6" font-size="21" text-anchor="middle" fill="#111" stroke="#111" stroke-width="0.3">300</text>
<line x1="139.2" y1="1135.5" x2="147.2" y2="1135.5" stroke="#333" stroke-width="1"/>
<text x="128.5" y="1135.5" font-size="20.5" text-anchor="middle" fill="#111" stroke="#111" stroke-width="0.3" transform="rotate(-90 128.5 1135.5)">0.6</text>
<line x1="139.2" y1="1041.9" x2="147.2" y2="1041.9" stroke="#333" stroke-width="1"/>
<text x="128.5" y="1041.9" font-size="20.5" text-anchor="middle" fill="#111" stroke="#111" stroke-width="0.3" transform="rotate(-90 128.5 1041.9)">0.7</text>
<line x1="139.2" y1="948.3" x2="147.2" y2="948.3" stroke="#333" stroke-width="1"/>
<text x="128.5" y="948.3" font-size="20.5" text-anchor="middle" fill="#111" stroke="#111" stroke-width="0.3" transform="rotate(-90 128.5 948.3)">0.8</text>
<line x1="139.2" y1="854.7" x2="147.2" y2="854.7" stroke="#333" stroke-width="1"/>
<text x="128.5" y="854.7" font-size="20.5" text-anchor="middle" fill="#111" stroke="#111" stroke-width="0.3" transform="rotate(-90 128.5 854.7)">0.9</text>
<line x1="139.2" y1="761.1" x2="147.2" y2="761.1" stroke="#333" stroke-width="1"/>
<text x="128.5" y="761.1" font-size="20.5" text-anchor="middle" fill="#111" stroke="#111" stroke-width="0.3" transform="rotate(-90 128.5 761.1)">1.0</text>
<text x="357.4" y="1206.5" font-size="25" text-anchor="middle" fill="#111" stroke="#111" stroke-width="0.3" textLength="210.7" lengthAdjust="spacingAndGlyphs">Number of features</text>
<text x="78.8" y="944.8" font-size="25" text-anchor="middle" fill="#111" stroke="#111" stroke-width="0.3" textLength="419.2" lengthAdjust="spacingAndGlyphs" transform="rotate(-90 78.8 944.8)">Correlation observed vs predicted age</text>
<text x="108.7" y="948.0" font-size="24.5" text-anchor="middle" fill="#111" stroke="#111" stroke-width="0.3" textLength="140.2" lengthAdjust="spacingAndGlyphs" transform="rotate(-90 108.7 948.0)">(r spearman)</text>
<rect x="163.0" y="1138.4" width="4.1" height="10.5" fill="#111"/>
<rect x="168.0" y="1138.4" width="5.9" height="10.5" fill="#111"/>
<rect x="175.4" y="1138.4" width="2.7" height="10.5" fill="#777"/>
<rect x="178.1" y="1138.4" width="6.8" height="10.5" fill="#151515"/>
<rect x="187.0" y="1138.4" width="5.9" height="10.5" fill="#333"/>
<g stroke="#111" stroke-width="1.1">
<line x1="195.2" y1="1138.4" x2="195.2" y2="1148.9"/>
<line x1="198.5" y1="1138.4" x2="198.5" y2="1148.9"/>
<line x1="199.6" y1="1138.4" x2="199.6" y2="1148.9"/>
<line x1="201.0" y1="1138.4" x2="201.0" y2="1148.9"/>
<line x1="202.0" y1="1138.4" x2="202.0" y2="1148.9"/>
<line x1="203.8" y1="1138.4" x2="203.8" y2="1148.9"/>
<line x1="205.2" y1="1138.4" x2="205.2" y2="1148.9"/>
<line x1="207.3" y1="1138.4" x2="207.3" y2="1148.9"/>
<line x1="208.3" y1="1138.4" x2="208.3" y2="1148.9"/>
<line x1="209.3" y1="1138.4" x2="209.3" y2="1148.9"/>
<line x1="213.6" y1="1138.4" x2="213.6" y2="1148.9"/>
<line x1="217.0" y1="1138.4" x2="217.0" y2="1148.9"/>
<line x1="218.6" y1="1138.4" x2="218.6" y2="1148.9"/>
<line x1="221.3" y1="1138.4" x2="221.3" y2="1148.9"/>
<line x1="223.2" y1="1138.4" x2="223.2" y2="1148.9"/>
<line x1="224.2" y1="1138.4" x2="224.2" y2="1148.9"/>
<line x1="225.6" y1="1138.4" x2="225.6" y2="1148.9"/>
<line x1="227.0" y1="1138.4" x2="227.0" y2="1148.9"/>
<line x1="228.6" y1="1138.4" x2="228.6" y2="1148.9"/>
<line x1="231.3" y1="1138.4" x2="231.3" y2="1148.9"/>
<line x1="240.9" y1="1138.4" x2="240.9" y2="1148.9"/>
<line x1="244.1" y1="1138.4" x2="244.1" y2="1148.9"/>
<line x1="246.6" y1="1138.4" x2="246.6" y2="1148.9"/>
<line x1="252.3" y1="1138.4" x2="252.3" y2="1148.9"/>
<line x1="260.4" y1="1138.4" x2="260.4" y2="1148.9"/>
<line x1="263.7" y1="1138.4" x2="263.7" y2="1148.9"/>
<line x1="265.3" y1="1138.4" x2="265.3" y2="1148.9"/>
<line x1="267.7" y1="1138.4" x2="267.7" y2="1148.9"/>
<line x1="272.6" y1="1138.4" x2="272.6" y2="1148.9"/>
<line x1="277.5" y1="1138.4" x2="277.5" y2="1148.9"/>
<line x1="285.6" y1="1138.4" x2="285.6" y2="1148.9"/>
<line x1="288.9" y1="1138.4" x2="288.9" y2="1148.9"/>
<line x1="293.0" y1="1138.4" x2="293.0" y2="1148.9"/>
<line x1="307.6" y1="1138.4" x2="307.6" y2="1148.9"/>
<line x1="310.9" y1="1138.4" x2="310.9" y2="1148.9"/>
<line x1="321.4" y1="1138.4" x2="321.4" y2="1148.9"/>
<line x1="328.0" y1="1138.4" x2="328.0" y2="1148.9"/>
<line x1="336.9" y1="1138.4" x2="336.9" y2="1148.9"/>
<line x1="347.5" y1="1138.4" x2="347.5" y2="1148.9"/>
<line x1="356.3" y1="1138.4" x2="356.3" y2="1148.9"/>
<line x1="366.3" y1="1138.4" x2="366.3" y2="1148.9"/>
<line x1="370.2" y1="1138.4" x2="370.2" y2="1148.9"/>
<line x1="375.5" y1="1138.4" x2="375.5" y2="1148.9"/>
<line x1="382.3" y1="1138.4" x2="382.3" y2="1148.9"/>
<line x1="400.4" y1="1138.4" x2="400.4" y2="1148.9"/>
<line x1="407.5" y1="1138.4" x2="407.5" y2="1148.9"/>
<line x1="419.5" y1="1138.4" x2="419.5" y2="1148.9"/>
<line x1="424.3" y1="1138.4" x2="424.3" y2="1148.9"/>
<line x1="427.3" y1="1138.4" x2="427.3" y2="1148.9"/>
<line x1="444.4" y1="1138.4" x2="444.4" y2="1148.9"/>
<line x1="455.7" y1="1138.4" x2="455.7" y2="1148.9"/>
<line x1="472.8" y1="1138.4" x2="472.8" y2="1148.9"/>
<line x1="485.2" y1="1138.4" x2="485.2" y2="1148.9"/>
<line x1="501.9" y1="1138.4" x2="501.9" y2="1148.9"/>
<line x1="518.4" y1="1138.4" x2="518.4" y2="1148.9"/>
<line x1="549.1" y1="1138.4" x2="549.1" y2="1148.9"/>
<line x1="555.7" y1="1138.4" x2="555.7" y2="1148.9"/>
</g>
<path d="M171.4,836 L171.4,814.8 L176.3,814.8 L555.6,763.1" fill="none" stroke="#d6312a" stroke-width="1.7" stroke-dasharray="5.5,6.9"/>
<path d="M171.4,836 L171.4,814.8 L176.3,814.8 L555.6,769.6" fill="none" stroke="#3d3895" stroke-width="1.7" stroke-dasharray="5.5,6.9"/>
<path d="M163.7,1046.3 L164.5,1005.2 L165.3,972.9 L166.1,937.4 L167.4,921.3 L168.5,900.3 L169.4,876.1 L170.2,861.6 L171.1,849.2 L173.7,838.8 L178.1,833.6 L179.6,827.0 L183.7,815.9 L191.4,809.2 L198.1,807.0 L209.2,801.8 L227.7,796.7 L250.0,793.3 L270.0,791.2 L290.3,789.7 L330.0,787.4 L391.0,785.1 L450.0,783.5 L555.6,781.2" fill="none" stroke="#d6312a" stroke-width="2.5" stroke-linejoin="round"/>
<path d="M163.7,1046.3 L164.5,1005.2 L165.3,972.9 L166.1,937.4 L167.4,921.3 L168.5,900.3 L169.4,876.1 L170.2,861.6 L171.1,849.2 L173.7,838.8 L178.1,833.6 L179.6,827.0 L183.7,815.9 L191.4,809.2 L198.1,807.0 L209.2,801.8 L227.7,796.7 L250.0,793.3 L270.0,791.2 L290.3,789.7 L330.0,788.0 L391.0,786.9 L450.0,786.7 L555.6,787.0" fill="none" stroke="#3d3895" stroke-width="2.4" stroke-linejoin="round"/>
<rect x="424.3" y="1086.2" width="147.0" height="62.7" fill="#fff" stroke="#333" stroke-width="1.1"/>
<line x1="438.5" y1="1107" x2="471.7" y2="1107" stroke="#d6312a" stroke-width="2.4"/>
<line x1="438.5" y1="1127.6" x2="471.7" y2="1127.6" stroke="#3d3895" stroke-width="2.4"/>
<text x="475.8" y="1112.8" font-size="20" text-anchor="start" fill="#111" stroke="#111" stroke-width="0.3" textLength="88.8" lengthAdjust="spacingAndGlyphs">Discovery</text>
<text x="475.8" y="1133.3" font-size="20" text-anchor="start" fill="#111" stroke="#111" stroke-width="0.3" textLength="87.5" lengthAdjust="spacingAndGlyphs">Validation</text>
<g stroke="#111" stroke-width="1.1">
<line x1="427.3" y1="1138.4" x2="427.3" y2="1148.9"/>
<line x1="444.4" y1="1138.4" x2="444.4" y2="1148.9"/>
<line x1="455.7" y1="1138.4" x2="455.7" y2="1148.9"/>
<line x1="472.8" y1="1138.4" x2="472.8" y2="1148.9"/>
<line x1="485.2" y1="1138.4" x2="485.2" y2="1148.9"/>
<line x1="501.9" y1="1138.4" x2="501.9" y2="1148.9"/>
<line x1="518.4" y1="1138.4" x2="518.4" y2="1148.9"/>
<line x1="549.1" y1="1138.4" x2="549.1" y2="1148.9"/>
<line x1="555.7" y1="1138.4" x2="555.7" y2="1148.9"/>
</g>
<defs>
<linearGradient id="g1"><stop offset="0.00" stop-color="rgb(234, 220, 58)"/><stop offset="0.25" stop-color="rgb(234, 220, 58)"/><stop offset="0.50" stop-color="rgb(234, 220, 58)"/><stop offset="0.75" stop-color="rgb(234, 220, 58)"/><stop offset="1.00" stop-color="rgb(234, 220, 58)"/></linearGradient>
<linearGradient id="g2"><stop offset="0.00" stop-color="rgb(148, 140, 46)"/><stop offset="0.25" stop-color="rgb(234, 220, 58)"/><stop offset="0.50" stop-color="rgb(234, 220, 58)"/><stop offset="0.75" stop-color="rgb(234, 220, 58)"/><stop offset="1.00" stop-color="rgb(148, 140, 46)"/></linearGradient>
<linearGradient id="g3"><stop offset="0.00" stop-color="rgb(234, 220, 58)"/><stop offset="0.25" stop-color="rgb(234, 220, 58)"/><stop offset="0.50" stop-color="rgb(234, 220, 58)"/><stop offset="0.75" stop-color="rgb(234, 220, 58)"/><stop offset="1.00" stop-color="rgb(234, 220, 58)"/></linearGradient>
<linearGradient id="g4"><stop offset="0.00" stop-color="rgb(84, 80, 36)"/><stop offset="0.25" stop-color="rgb(84, 80, 36)"/><stop offset="0.50" stop-color="rgb(84, 80, 36)"/><stop offset="0.75" stop-color="rgb(84, 80, 36)"/><stop offset="1.00" stop-color="rgb(84, 80, 36)"/></linearGradient>
<linearGradient id="g5"><stop offset="0.00" stop-color="rgb(24, 52, 64)"/><stop offset="0.25" stop-color="rgb(22, 22, 21)"/><stop offset="0.50" stop-color="rgb(22, 22, 21)"/><stop offset="0.75" stop-color="rgb(22, 22, 21)"/><stop offset="1.00" stop-color="rgb(22, 22, 21)"/></linearGradient>
<linearGradient id="g6"><stop offset="0.00" stop-color="rgb(22, 22, 21)"/><stop offset="0.25" stop-color="rgb(22, 22, 21)"/><stop offset="0.50" stop-color="rgb(22, 22, 21)"/><stop offset="0.75" stop-color="rgb(22, 22, 21)"/><stop offset="1.00" stop-color="rgb(22, 22, 21)"/></linearGradient>
<linearGradient id="g7"><stop offset="0.00" stop-color="rgb(24, 52, 64)"/><stop offset="0.25" stop-color="rgb(22, 22, 21)"/><stop offset="0.50" stop-color="rgb(22, 22, 21)"/><stop offset="0.75" stop-color="rgb(84, 80, 36)"/><stop offset="1.00" stop-color="rgb(84, 80, 36)"/></linearGradient>
<linearGradient id="g8"><stop offset="0.00" stop-color="rgb(22, 22, 21)"/><stop offset="0.25" stop-color="rgb(22, 22, 21)"/><stop offset="0.50" stop-color="rgb(84, 80, 36)"/><stop offset="0.75" stop-color="rgb(148, 140, 46)"/><stop offset="1.00" stop-color="rgb(148, 140, 46)"/></linearGradient>
<linearGradient id="g9"><stop offset="0.00" stop-color="rgb(22, 22, 21)"/><stop offset="0.25" stop-color="rgb(22, 22, 21)"/><stop offset="0.50" stop-color="rgb(22, 22, 21)"/><stop offset="0.75" stop-color="rgb(22, 22, 21)"/><stop offset="1.00" stop-color="rgb(22, 22, 21)"/></linearGradient>
<linearGradient id="g10"><stop offset="0.00" stop-color="rgb(24, 52, 64)"/><stop offset="0.25" stop-color="rgb(24, 52, 64)"/><stop offset="0.50" stop-color="rgb(24, 52, 64)"/><stop offset="0.75" stop-color="rgb(24, 52, 64)"/><stop offset="1.00" stop-color="rgb(24, 52, 64)"/></linearGradient>
<linearGradient id="g11"><stop offset="0.00" stop-color="rgb(22, 22, 21)"/><stop offset="0.25" stop-color="rgb(22, 22, 21)"/><stop offset="0.50" stop-color="rgb(22, 22, 21)"/><stop offset="0.75" stop-color="rgb(22, 22, 21)"/><stop offset="1.00" stop-color="rgb(22, 22, 21)"/></linearGradient>
<linearGradient id="g12"><stop offset="0.00" stop-color="rgb(148, 140, 46)"/><stop offset="0.25" stop-color="rgb(148, 140, 46)"/><stop offset="0.50" stop-color="rgb(148, 140, 46)"/><stop offset="0.75" stop-color="rgb(84, 80, 36)"/><stop offset="1.00" stop-color="rgb(84, 80, 36)"/></linearGradient>
<linearGradient id="g13"><stop offset="0.00" stop-color="rgb(234, 220, 58)"/><stop offset="0.25" stop-color="rgb(84, 80, 36)"/><stop offset="0.50" stop-color="rgb(22, 22, 21)"/><stop offset="0.75" stop-color="rgb(22, 22, 21)"/><stop offset="1.00" stop-color="rgb(22, 22, 21)"/></linearGradient>
<linearGradient id="g14"><stop offset="0.00" stop-color="rgb(22, 22, 21)"/><stop offset="0.25" stop-color="rgb(24, 52, 64)"/><stop offset="0.50" stop-color="rgb(22, 22, 21)"/><stop offset="0.75" stop-color="rgb(22, 22, 21)"/><stop offset="1.00" stop-color="rgb(22, 22, 21)"/></linearGradient>
<linearGradient id="g15"><stop offset="0.00" stop-color="rgb(148, 140, 46)"/><stop offset="0.25" stop-color="rgb(148, 140, 46)"/><stop offset="0.50" stop-color="rgb(148, 140, 46)"/><stop offset="0.75" stop-color="rgb(148, 140, 46)"/><stop offset="1.00" stop-color="rgb(148, 140, 46)"/></linearGradient>
<linearGradient id="g16"><stop offset="0.00" stop-color="rgb(148, 140, 46)"/><stop offset="0.25" stop-color="rgb(148, 140, 46)"/><stop offset="0.50" stop-color="rgb(148, 140, 46)"/><stop offset="0.75" stop-color="rgb(148, 140, 46)"/><stop offset="1.00" stop-color="rgb(234, 220, 58)"/></linearGradient>
<linearGradient id="g17"><stop offset="0.00" stop-color="rgb(84, 80, 36)"/><stop offset="0.25" stop-color="rgb(234, 220, 58)"/><stop offset="0.50" stop-color="rgb(234, 220, 58)"/><stop offset="0.75" stop-color="rgb(234, 220, 58)"/><stop offset="1.00" stop-color="rgb(234, 220, 58)"/></linearGradient>
<linearGradient id="g18"><stop offset="0.00" stop-color="rgb(234, 220, 58)"/><stop offset="0.25" stop-color="rgb(234, 220, 58)"/><stop offset="0.50" stop-color="rgb(148, 140, 46)"/><stop offset="0.75" stop-color="rgb(148, 140, 46)"/><stop offset="1.00" stop-color="rgb(148, 140, 46)"/></linearGradient>
<linearGradient id="g19"><stop offset="0.00" stop-color="rgb(84, 80, 36)"/><stop offset="0.25" stop-color="rgb(84, 80, 36)"/><stop offset="0.50" stop-color="rgb(84, 80, 36)"/><stop offset="0.75" stop-color="rgb(84, 80, 36)"/><stop offset="1.00" stop-color="rgb(84, 80, 36)"/></linearGradient>
<linearGradient id="g20"><stop offset="0.00" stop-color="rgb(22, 22, 21)"/><stop offset="0.25" stop-color="rgb(22, 22, 21)"/><stop offset="0.50" stop-color="rgb(84, 80, 36)"/><stop offset="0.75" stop-color="rgb(84, 80, 36)"/><stop offset="1.00" stop-color="rgb(148, 140, 46)"/></linearGradient>
<linearGradient id="g21"><stop offset="0.00" stop-color="rgb(234, 220, 58)"/><stop offset="0.25" stop-color="rgb(234, 220, 58)"/><stop offset="0.50" stop-color="rgb(234, 220, 58)"/><stop offset="0.75" stop-color="rgb(234, 220, 58)"/><stop offset="1.00" stop-color="rgb(234, 220, 58)"/></linearGradient>
<linearGradient id="g22"><stop offset="0.00" stop-color="rgb(148, 140, 46)"/><stop offset="0.25" stop-color="rgb(148, 140, 46)"/><stop offset="0.50" stop-color="rgb(148, 140, 46)"/><stop offset="0.75" stop-color="rgb(84, 80, 36)"/><stop offset="1.00" stop-color="rgb(84, 80, 36)"/></linearGradient>
<linearGradient id="g23"><stop offset="0.00" stop-color="rgb(234, 220, 58)"/><stop offset="0.25" stop-color="rgb(148, 140, 46)"/><stop offset="0.50" stop-color="rgb(148, 140, 46)"/><stop offset="0.75" stop-color="rgb(84, 80, 36)"/><stop offset="1.00" stop-color="rgb(84, 80, 36)"/></linearGradient>
<linearGradient id="g24"><stop offset="0.00" stop-color="rgb(234, 220, 58)"/><stop offset="0.25" stop-color="rgb(234, 220, 58)"/><stop offset="0.50" stop-color="rgb(234, 220, 58)"/><stop offset="0.75" stop-color="rgb(148, 140, 46)"/><stop offset="1.00" stop-color="rgb(234, 220, 58)"/></linearGradient>
<linearGradient id="g25"><stop offset="0.00" stop-color="rgb(234, 220, 58)"/><stop offset="0.25" stop-color="rgb(148, 140, 46)"/><stop offset="0.50" stop-color="rgb(148, 140, 46)"/><stop offset="0.75" stop-color="rgb(148, 140, 46)"/><stop offset="1.00" stop-color="rgb(148, 140, 46)"/></linearGradient>
<linearGradient id="g26"><stop offset="0.00" stop-color="rgb(22, 22, 21)"/><stop offset="0.25" stop-color="rgb(84, 80, 36)"/><stop offset="0.50" stop-color="rgb(148, 140, 46)"/><stop offset="0.75" stop-color="rgb(148, 140, 46)"/><stop offset="1.00" stop-color="rgb(84, 80, 36)"/></linearGradient>
<linearGradient id="g27"><stop offset="0.00" stop-color="rgb(148, 140, 46)"/><stop offset="0.25" stop-color="rgb(148, 140, 46)"/><stop offset="0.50" stop-color="rgb(148, 140, 46)"/><stop offset="0.75" stop-color="rgb(84, 80, 36)"/><stop offset="1.00" stop-color="rgb(22, 22, 21)"/></linearGradient>
<linearGradient id="g28"><stop offset="0.00" stop-color="rgb(234, 220, 58)"/><stop offset="0.25" stop-color="rgb(148, 140, 46)"/><stop offset="0.50" stop-color="rgb(84, 80, 36)"/><stop offset="0.75" stop-color="rgb(24, 52, 64)"/><stop offset="1.00" stop-color="rgb(24, 52, 64)"/></linearGradient>
<linearGradient id="g29"><stop offset="0.00" stop-color="rgb(22, 22, 21)"/><stop offset="0.25" stop-color="rgb(22, 22, 21)"/><stop offset="0.50" stop-color="rgb(22, 22, 21)"/><stop offset="0.75" stop-color="rgb(22, 22, 21)"/><stop offset="1.00" stop-color="rgb(22, 22, 21)"/></linearGradient>
<linearGradient id="g30"><stop offset="0.00" stop-color="rgb(22, 22, 21)"/><stop offset="0.25" stop-color="rgb(22, 22, 21)"/><stop offset="0.50" stop-color="rgb(22, 22, 21)"/><stop offset="0.75" stop-color="rgb(24, 52, 64)"/><stop offset="1.00" stop-color="rgb(24, 52, 64)"/></linearGradient>
<linearGradient id="g31"><stop offset="0.00" stop-color="rgb(22, 22, 21)"/><stop offset="0.25" stop-color="rgb(22, 22, 21)"/><stop offset="0.50" stop-color="rgb(22, 22, 21)"/><stop offset="0.75" stop-color="rgb(22, 22, 21)"/><stop offset="1.00" stop-color="rgb(22, 22, 21)"/></linearGradient>
<linearGradient id="g32"><stop offset="0.00" stop-color="rgb(22, 22, 21)"/><stop offset="0.25" stop-color="rgb(24, 52, 64)"/><stop offset="0.50" stop-color="rgb(24, 52, 64)"/><stop offset="0.75" stop-color="rgb(22, 22, 21)"/><stop offset="1.00" stop-color="rgb(24, 52, 64)"/></linearGradient>
<linearGradient id="g33"><stop offset="0.00" stop-color="rgb(84, 80, 36)"/><stop offset="0.25" stop-color="rgb(22, 22, 21)"/><stop offset="0.50" stop-color="rgb(22, 22, 21)"/><stop offset="0.75" stop-color="rgb(22, 22, 21)"/><stop offset="1.00" stop-color="rgb(24, 52, 64)"/></linearGradient>
<linearGradient id="g34"><stop offset="0.00" stop-color="rgb(22, 22, 21)"/><stop offset="0.25" stop-color="rgb(22, 22, 21)"/><stop offset="0.50" stop-color="rgb(22, 22, 21)"/><stop offset="0.75" stop-color="rgb(22, 22, 21)"/><stop offset="1.00" stop-color="rgb(22, 22, 21)"/></linearGradient>
<linearGradient id="g35"><stop offset="0.00" stop-color="rgb(24, 52, 64)"/><stop offset="0.25" stop-color="rgb(22, 22, 21)"/><stop offset="0.50" stop-color="rgb(22, 22, 21)"/><stop offset="0.75" stop-color="rgb(22, 22, 21)"/><stop offset="1.00" stop-color="rgb(22, 22, 21)"/></linearGradient>
<linearGradient id="g36"><stop offset="0.00" stop-color="rgb(24, 52, 64)"/><stop offset="0.25" stop-color="rgb(24, 52, 64)"/><stop offset="0.50" stop-color="rgb(24, 52, 64)"/><stop offset="0.75" stop-color="rgb(22, 22, 21)"/><stop offset="1.00" stop-color="rgb(22, 22, 21)"/></linearGradient>
<linearGradient id="g37"><stop offset="0.00" stop-color="rgb(84, 80, 36)"/><stop offset="0.25" stop-color="rgb(84, 80, 36)"/><stop offset="0.50" stop-color="rgb(84, 80, 36)"/><stop offset="0.75" stop-color="rgb(84, 80, 36)"/><stop offset="1.00" stop-color="rgb(22, 22, 21)"/></linearGradient>
<linearGradient id="g38"><stop offset="0.00" stop-color="rgb(84, 80, 36)"/><stop offset="0.25" stop-color="rgb(84, 80, 36)"/><stop offset="0.50" stop-color="rgb(84, 80, 36)"/><stop offset="0.75" stop-color="rgb(84, 80, 36)"/><stop offset="1.00" stop-color="rgb(84, 80, 36)"/></linearGradient>
<linearGradient id="g39"><stop offset="0.00" stop-color="rgb(84, 80, 36)"/><stop offset="0.25" stop-color="rgb(84, 80, 36)"/><stop offset="0.50" stop-color="rgb(148, 140, 46)"/><stop offset="0.75" stop-color="rgb(148, 140, 46)"/><stop offset="1.00" stop-color="rgb(148, 140, 46)"/></linearGradient>
<linearGradient id="g40"><stop offset="0.00" stop-color="rgb(148, 140, 46)"/><stop offset="0.25" stop-color="rgb(148, 140, 46)"/><stop offset="0.50" stop-color="rgb(148, 140, 46)"/><stop offset="0.75" stop-color="rgb(84, 80, 36)"/><stop offset="1.00" stop-color="rgb(84, 80, 36)"/></linearGradient>
<linearGradient id="g41"><stop offset="0.00" stop-color="rgb(84, 80, 36)"/><stop offset="0.25" stop-color="rgb(22, 22, 21)"/><stop offset="0.50" stop-color="rgb(22, 22, 21)"/><stop offset="0.75" stop-color="rgb(22, 22, 21)"/><stop offset="1.00" stop-color="rgb(84, 80, 36)"/></linearGradient>
<linearGradient id="g42"><stop offset="0.00" stop-color="rgb(34, 120, 158)"/><stop offset="0.25" stop-color="rgb(24, 52, 64)"/><stop offset="0.50" stop-color="rgb(24, 52, 64)"/><stop offset="0.75" stop-color="rgb(22, 22, 21)"/><stop offset="1.00" stop-color="rgb(22, 22, 21)"/></linearGradient>
<linearGradient id="g43"><stop offset="0.00" stop-color="rgb(148, 140, 46)"/><stop offset="0.25" stop-color="rgb(84, 80, 36)"/><stop offset="0.50" stop-color="rgb(84, 80, 36)"/><stop offset="0.75" stop-color="rgb(22, 22, 21)"/><stop offset="1.00" stop-color="rgb(24, 52, 64)"/></linearGradient>
<linearGradient id="g44"><stop offset="0.00" stop-color="rgb(84, 80, 36)"/><stop offset="0.25" stop-color="rgb(84, 80, 36)"/><stop offset="0.50" stop-color="rgb(22, 22, 21)"/><stop offset="0.75" stop-color="rgb(24, 52, 64)"/><stop offset="1.00" stop-color="rgb(24, 52, 64)"/></linearGradient>
<linearGradient id="g45"><stop offset="0.00" stop-color="rgb(22, 22, 21)"/><stop offset="0.25" stop-color="rgb(22, 22, 21)"/><stop offset="0.50" stop-color="rgb(22, 22, 21)"/><stop offset="0.75" stop-color="rgb(22, 22, 21)"/><stop offset="1.00" stop-color="rgb(22, 22, 21)"/></linearGradient>
<linearGradient id="g46"><stop offset="0.00" stop-color="rgb(22, 22, 21)"/><stop offset="0.25" stop-color="rgb(22, 22, 21)"/><stop offset="0.50" stop-color="rgb(24, 52, 64)"/><stop offset="0.75" stop-color="rgb(24, 52, 64)"/><stop offset="1.00" stop-color="rgb(34, 120, 158)"/></linearGradient>
<linearGradient id="g47"><stop offset="0.00" stop-color="rgb(22, 22, 21)"/><stop offset="0.25" stop-color="rgb(22, 22, 21)"/><stop offset="0.50" stop-color="rgb(22, 22, 21)"/><stop offset="0.75" stop-color="rgb(148, 140, 46)"/><stop offset="1.00" stop-color="rgb(148, 140, 46)"/></linearGradient>
<linearGradient id="g48"><stop offset="0.00" stop-color="rgb(24, 52, 64)"/><stop offset="0.25" stop-color="rgb(22, 22, 21)"/><stop offset="0.50" stop-color="rgb(22, 22, 21)"/><stop offset="0.75" stop-color="rgb(22, 22, 21)"/><stop offset="1.00" stop-color="rgb(22, 22, 21)"/></linearGradient>
<linearGradient id="g49"><stop offset="0.00" stop-color="rgb(84, 80, 36)"/><stop offset="0.25" stop-color="rgb(84, 80, 36)"/><stop offset="0.50" stop-color="rgb(22, 22, 21)"/><stop offset="0.75" stop-color="rgb(22, 22, 21)"/><stop offset="1.00" stop-color="rgb(22, 22, 21)"/></linearGradient>
<linearGradient id="g50"><stop offset="0.00" stop-color="rgb(24, 52, 64)"/><stop offset="0.25" stop-color="rgb(24, 52, 64)"/><stop offset="0.50" stop-color="rgb(24, 52, 64)"/><stop offset="0.75" stop-color="rgb(24, 52, 64)"/><stop offset="1.00" stop-color="rgb(24, 52, 64)"/></linearGradient>
<linearGradient id="g51"><stop offset="0.00" stop-color="rgb(30, 168, 218)"/><stop offset="0.25" stop-color="rgb(30, 168, 218)"/><stop offset="0.50" stop-color="rgb(30, 168, 218)"/><stop offset="0.75" stop-color="rgb(30, 168, 218)"/><stop offset="1.00" stop-color="rgb(30, 168, 218)"/></linearGradient>
<linearGradient id="g52"><stop offset="0.00" stop-color="rgb(34, 120, 158)"/><stop offset="0.25" stop-color="rgb(34, 120, 158)"/><stop offset="0.50" stop-color="rgb(34, 120, 158)"/><stop offset="0.75" stop-color="rgb(34, 120, 158)"/><stop offset="1.00" stop-color="rgb(24, 52, 64)"/></linearGradient>
<linearGradient id="g53"><stop offset="0.00" stop-color="rgb(30, 168, 218)"/><stop offset="0.25" stop-color="rgb(34, 120, 158)"/><stop offset="0.50" stop-color="rgb(34, 120, 158)"/><stop offset="0.75" stop-color="rgb(24, 52, 64)"/><stop offset="1.00" stop-color="rgb(24, 52, 64)"/></linearGradient>
<linearGradient id="g54"><stop offset="0.00" stop-color="rgb(22, 22, 21)"/><stop offset="0.25" stop-color="rgb(22, 22, 21)"/><stop offset="0.50" stop-color="rgb(22, 22, 21)"/><stop offset="0.75" stop-color="rgb(24, 52, 64)"/><stop offset="1.00" stop-color="rgb(34, 120, 158)"/></linearGradient>
<linearGradient id="g55"><stop offset="0.00" stop-color="rgb(34, 120, 158)"/><stop offset="0.25" stop-color="rgb(34, 120, 158)"/><stop offset="0.50" stop-color="rgb(34, 120, 158)"/><stop offset="0.75" stop-color="rgb(30, 168, 218)"/><stop offset="1.00" stop-color="rgb(34, 120, 158)"/></linearGradient>
<linearGradient id="g56"><stop offset="0.00" stop-color="rgb(24, 52, 64)"/><stop offset="0.25" stop-color="rgb(24, 52, 64)"/><stop offset="0.50" stop-color="rgb(24, 52, 64)"/><stop offset="0.75" stop-color="rgb(24, 52, 64)"/><stop offset="1.00" stop-color="rgb(24, 52, 64)"/></linearGradient>
<linearGradient id="g57"><stop offset="0.00" stop-color="rgb(34, 120, 158)"/><stop offset="0.25" stop-color="rgb(34, 120, 158)"/><stop offset="0.50" stop-color="rgb(34, 120, 158)"/><stop offset="0.75" stop-color="rgb(34, 120, 158)"/><stop offset="1.00" stop-color="rgb(34, 120, 158)"/></linearGradient>
<linearGradient id="g58"><stop offset="0.00" stop-color="rgb(34, 120, 158)"/><stop offset="0.25" stop-color="rgb(22, 22, 21)"/><stop offset="0.50" stop-color="rgb(24, 52, 64)"/><stop offset="0.75" stop-color="rgb(34, 120, 158)"/><stop offset="1.00" stop-color="rgb(34, 120, 158)"/></linearGradient>
<linearGradient id="g59"><stop offset="0.00" stop-color="rgb(30, 168, 218)"/><stop offset="0.25" stop-color="rgb(30, 168, 218)"/><stop offset="0.50" stop-color="rgb(30, 168, 218)"/><stop offset="0.75" stop-color="rgb(30, 168, 218)"/><stop offset="1.00" stop-color="rgb(30, 168, 218)"/></linearGradient>
<linearGradient id="g60"><stop offset="0.00" stop-color="rgb(34, 120, 158)"/><stop offset="0.25" stop-color="rgb(34, 120, 158)"/><stop offset="0.50" stop-color="rgb(34, 120, 158)"/><stop offset="0.75" stop-color="rgb(34, 120, 158)"/><stop offset="1.00" stop-color="rgb(34, 120, 158)"/></linearGradient>
<linearGradient id="g61"><stop offset="0.00" stop-color="rgb(34, 120, 158)"/><stop offset="0.25" stop-color="rgb(30, 168, 218)"/><stop offset="0.50" stop-color="rgb(30, 168, 218)"/><stop offset="0.75" stop-color="rgb(30, 168, 218)"/><stop offset="1.00" stop-color="rgb(30, 168, 218)"/></linearGradient>
<linearGradient id="g62"><stop offset="0.00" stop-color="rgb(34, 120, 158)"/><stop offset="0.25" stop-color="rgb(34, 120, 158)"/><stop offset="0.50" stop-color="rgb(34, 120, 158)"/><stop offset="0.75" stop-color="rgb(24, 52, 64)"/><stop offset="1.00" stop-color="rgb(24, 52, 64)"/></linearGradient>
<linearGradient id="g63"><stop offset="0.00" stop-color="rgb(30, 168, 218)"/><stop offset="0.25" stop-color="rgb(34, 120, 158)"/><stop offset="0.50" stop-color="rgb(34, 120, 158)"/><stop offset="0.75" stop-color="rgb(34, 120, 158)"/><stop offset="1.00" stop-color="rgb(34, 120, 158)"/></linearGradient>
<linearGradient id="g64"><stop offset="0.00" stop-color="rgb(34, 120, 158)"/><stop offset="0.25" stop-color="rgb(34, 120, 158)"/><stop offset="0.50" stop-color="rgb(34, 120, 158)"/><stop offset="0.75" stop-color="rgb(34, 120, 158)"/><stop offset="1.00" stop-color="rgb(24, 52, 64)"/></linearGradient>
<linearGradient id="g65"><stop offset="0.00" stop-color="rgb(24, 52, 64)"/><stop offset="0.25" stop-color="rgb(22, 22, 21)"/><stop offset="0.50" stop-color="rgb(24, 52, 64)"/><stop offset="0.75" stop-color="rgb(24, 52, 64)"/><stop offset="1.00" stop-color="rgb(24, 52, 64)"/></linearGradient>
<linearGradient id="g66"><stop offset="0.00" stop-color="rgb(34, 120, 158)"/><stop offset="0.25" stop-color="rgb(34, 120, 158)"/><stop offset="0.50" stop-color="rgb(34, 120, 158)"/><stop offset="0.75" stop-color="rgb(34, 120, 158)"/><stop offset="1.00" stop-color="rgb(34, 120, 158)"/></linearGradient>
<linearGradient id="g67"><stop offset="0.00" stop-color="rgb(24, 52, 64)"/><stop offset="0.25" stop-color="rgb(24, 52, 64)"/><stop offset="0.50" stop-color="rgb(24, 52, 64)"/><stop offset="0.75" stop-color="rgb(24, 52, 64)"/><stop offset="1.00" stop-color="rgb(24, 52, 64)"/></linearGradient>
<linearGradient id="g68"><stop offset="0.00" stop-color="rgb(30, 168, 218)"/><stop offset="0.25" stop-color="rgb(30, 168, 218)"/><stop offset="0.50" stop-color="rgb(30, 168, 218)"/><stop offset="0.75" stop-color="rgb(30, 168, 218)"/><stop offset="1.00" stop-color="rgb(30, 168, 218)"/></linearGradient>
<linearGradient id="g69"><stop offset="0.00" stop-color="rgb(34, 120, 158)"/><stop offset="0.25" stop-color="rgb(34, 120, 158)"/><stop offset="0.50" stop-color="rgb(34, 120, 158)"/><stop offset="0.75" stop-color="rgb(34, 120, 158)"/><stop offset="1.00" stop-color="rgb(34, 120, 158)"/></linearGradient>
<linearGradient id="g70"><stop offset="0.00" stop-color="rgb(30, 168, 218)"/><stop offset="0.25" stop-color="rgb(30, 168, 218)"/><stop offset="0.50" stop-color="rgb(30, 168, 218)"/><stop offset="0.75" stop-color="rgb(30, 168, 218)"/><stop offset="1.00" stop-color="rgb(30, 168, 218)"/></linearGradient>
<linearGradient id="g71"><stop offset="0.00" stop-color="rgb(24, 52, 64)"/><stop offset="0.25" stop-color="rgb(34, 120, 158)"/><stop offset="0.50" stop-color="rgb(34, 120, 158)"/><stop offset="0.75" stop-color="rgb(34, 120, 158)"/><stop offset="1.00" stop-color="rgb(34, 120, 158)"/></linearGradient>
<linearGradient id="g72"><stop offset="0.00" stop-color="rgb(30, 168, 218)"/><stop offset="0.25" stop-color="rgb(30, 168, 218)"/><stop offset="0.50" stop-color="rgb(30, 168, 218)"/><stop offset="0.75" stop-color="rgb(30, 168, 218)"/><stop offset="1.00" stop-color="rgb(30, 168, 218)"/></linearGradient>
<linearGradient id="g73"><stop offset="0.00" stop-color="rgb(30, 168, 218)"/><stop offset="0.25" stop-color="rgb(30, 168, 218)"/><stop offset="0.50" stop-color="rgb(30, 168, 218)"/><stop offset="0.75" stop-color="rgb(34, 120, 158)"/><stop offset="1.00" stop-color="rgb(24, 52, 64)"/></linearGradient>
<linearGradient id="g74"><stop offset="0.00" stop-color="rgb(30, 168, 218)"/><stop offset="0.25" stop-color="rgb(34, 120, 158)"/><stop offset="0.50" stop-color="rgb(34, 120, 158)"/><stop offset="0.75" stop-color="rgb(24, 52, 64)"/><stop offset="1.00" stop-color="rgb(24, 52, 64)"/></linearGradient>
<linearGradient id="g75"><stop offset="0.00" stop-color="rgb(234, 220, 58)"/><stop offset="0.25" stop-color="rgb(234, 220, 58)"/><stop offset="0.50" stop-color="rgb(234, 220, 58)"/><stop offset="0.75" stop-color="rgb(234, 220, 58)"/><stop offset="1.00" stop-color="rgb(234, 220, 58)"/></linearGradient>
<linearGradient id="g76"><stop offset="0.00" stop-color="rgb(84, 80, 36)"/><stop offset="0.25" stop-color="rgb(84, 80, 36)"/><stop offset="0.50" stop-color="rgb(84, 80, 36)"/><stop offset="0.75" stop-color="rgb(84, 80, 36)"/><stop offset="1.00" stop-color="rgb(84, 80, 36)"/></linearGradient>
<linearGradient id="g77"><stop offset="0.00" stop-color="rgb(148, 140, 46)"/><stop offset="0.25" stop-color="rgb(148, 140, 46)"/><stop offset="0.50" stop-color="rgb(148, 140, 46)"/><stop offset="0.75" stop-color="rgb(84, 80, 36)"/><stop offset="1.00" stop-color="rgb(24, 52, 64)"/></linearGradient>
<linearGradient id="g78"><stop offset="0.00" stop-color="rgb(84, 80, 36)"/><stop offset="0.25" stop-color="rgb(22, 22, 21)"/><stop offset="0.50" stop-color="rgb(22, 22, 21)"/><stop offset="0.75" stop-color="rgb(84, 80, 36)"/><stop offset="1.00" stop-color="rgb(84, 80, 36)"/></linearGradient>
<linearGradient id="g79"><stop offset="0.00" stop-color="rgb(148, 140, 46)"/><stop offset="0.25" stop-color="rgb(148, 140, 46)"/><stop offset="0.50" stop-color="rgb(148, 140, 46)"/><stop offset="0.75" stop-color="rgb(148, 140, 46)"/><stop offset="1.00" stop-color="rgb(148, 140, 46)"/></linearGradient>
<linearGradient id="g80"><stop offset="0.00" stop-color="rgb(234, 220, 58)"/><stop offset="0.25" stop-color="rgb(148, 140, 46)"/><stop offset="0.50" stop-color="rgb(148, 140, 46)"/><stop offset="0.75" stop-color="rgb(148, 140, 46)"/><stop offset="1.00" stop-color="rgb(148, 140, 46)"/></linearGradient>
<linearGradient id="g81"><stop offset="0.00" stop-color="rgb(84, 80, 36)"/><stop offset="0.25" stop-color="rgb(148, 140, 46)"/><stop offset="0.50" stop-color="rgb(148, 140, 46)"/><stop offset="0.75" stop-color="rgb(148, 140, 46)"/><stop offset="1.00" stop-color="rgb(148, 140, 46)"/></linearGradient>
<linearGradient id="g82"><stop offset="0.00" stop-color="rgb(22, 22, 21)"/><stop offset="0.25" stop-color="rgb(84, 80, 36)"/><stop offset="0.50" stop-color="rgb(84, 80, 36)"/><stop offset="0.75" stop-color="rgb(22, 22, 21)"/><stop offset="1.00" stop-color="rgb(84, 80, 36)"/></linearGradient>
<linearGradient id="g83"><stop offset="0.00" stop-color="rgb(148, 140, 46)"/><stop offset="0.25" stop-color="rgb(148, 140, 46)"/><stop offset="0.50" stop-color="rgb(148, 140, 46)"/><stop offset="0.75" stop-color="rgb(148, 140, 46)"/><stop offset="1.00" stop-color="rgb(148, 140, 46)"/></linearGradient>
<linearGradient id="g84"><stop offset="0.00" stop-color="rgb(234, 220, 58)"/><stop offset="0.25" stop-color="rgb(234, 220, 58)"/><stop offset="0.50" stop-color="rgb(234, 220, 58)"/><stop offset="0.75" stop-color="rgb(234, 220, 58)"/><stop offset="1.00" stop-color="rgb(234, 220, 58)"/></linearGradient>
<linearGradient id="g85"><stop offset="0.00" stop-color="rgb(148, 140, 46)"/><stop offset="0.25" stop-color="rgb(148, 140, 46)"/><stop offset="0.50" stop-color="rgb(148, 140, 46)"/><stop offset="0.75" stop-color="rgb(148, 140, 46)"/><stop offset="1.00" stop-color="rgb(148, 140, 46)"/></linearGradient>
<linearGradient id="g86"><stop offset="0.00" stop-color="rgb(24, 52, 64)"/><stop offset="0.25" stop-color="rgb(24, 52, 64)"/><stop offset="0.50" stop-color="rgb(22, 22, 21)"/><stop offset="0.75" stop-color="rgb(22, 22, 21)"/><stop offset="1.00" stop-color="rgb(22, 22, 21)"/></linearGradient>
<linearGradient id="g87"><stop offset="0.00" stop-color="rgb(148, 140, 46)"/><stop offset="0.25" stop-color="rgb(148, 140, 46)"/><stop offset="0.50" stop-color="rgb(148, 140, 46)"/><stop offset="0.75" stop-color="rgb(148, 140, 46)"/><stop offset="1.00" stop-color="rgb(148, 140, 46)"/></linearGradient>
<linearGradient id="g88"><stop offset="0.00" stop-color="rgb(24, 52, 64)"/><stop offset="0.25" stop-color="rgb(22, 22, 21)"/><stop offset="0.50" stop-color="rgb(22, 22, 21)"/><stop offset="0.75" stop-color="rgb(22, 22, 21)"/><stop offset="1.00" stop-color="rgb(84, 80, 36)"/></linearGradient>
<linearGradient id="g89"><stop offset="0.00" stop-color="rgb(148, 140, 46)"/><stop offset="0.25" stop-color="rgb(148, 140, 46)"/><stop offset="0.50" stop-color="rgb(148, 140, 46)"/><stop offset="0.75" stop-color="rgb(148, 140, 46)"/><stop offset="1.00" stop-color="rgb(148, 140, 46)"/></linearGradient>
<linearGradient id="g90"><stop offset="0.00" stop-color="rgb(24, 52, 64)"/><stop offset="0.25" stop-color="rgb(22, 22, 21)"/><stop offset="0.50" stop-color="rgb(22, 22, 21)"/><stop offset="0.75" stop-color="rgb(22, 22, 21)"/><stop offset="1.00" stop-color="rgb(22, 22, 21)"/></linearGradient>
<linearGradient id="g91"><stop offset="0.00" stop-color="rgb(24, 52, 64)"/><stop offset="0.25" stop-color="rgb(24, 52, 64)"/><stop offset="0.50" stop-color="rgb(24, 52, 64)"/><stop offset="0.75" stop-color="rgb(24, 52, 64)"/><stop offset="1.00" stop-color="rgb(24, 52, 64)"/></linearGradient>
<linearGradient id="g92"><stop offset="0.00" stop-color="rgb(34, 120, 158)"/><stop offset="0.25" stop-color="rgb(24, 52, 64)"/><stop offset="0.50" stop-color="rgb(24, 52, 64)"/><stop offset="0.75" stop-color="rgb(24, 52, 64)"/><stop offset="1.00" stop-color="rgb(34, 120, 158)"/></linearGradient>
<linearGradient id="g93"><stop offset="0.00" stop-color="rgb(34, 120, 158)"/><stop offset="0.25" stop-color="rgb(34, 120, 158)"/><stop offset="0.50" stop-color="rgb(34, 120, 158)"/><stop offset="0.75" stop-color="rgb(50, 188, 228)"/><stop offset="1.00" stop-color="rgb(50, 188, 228)"/></linearGradient>
<linearGradient id="g94"><stop offset="0.00" stop-color="rgb(22, 22, 21)"/><stop offset="0.25" stop-color="rgb(84, 80, 36)"/><stop offset="0.50" stop-color="rgb(84, 80, 36)"/><stop offset="0.75" stop-color="rgb(84, 80, 36)"/><stop offset="1.00" stop-color="rgb(84, 80, 36)"/></linearGradient>
<linearGradient id="g95"><stop offset="0.00" stop-color="rgb(84, 80, 36)"/><stop offset="0.25" stop-color="rgb(84, 80, 36)"/><stop offset="0.50" stop-color="rgb(84, 80, 36)"/><stop offset="0.75" stop-color="rgb(84, 80, 36)"/><stop offset="1.00" stop-color="rgb(84, 80, 36)"/></linearGradient>
<linearGradient id="g96"><stop offset="0.00" stop-color="rgb(148, 140, 46)"/><stop offset="0.25" stop-color="rgb(148, 140, 46)"/><stop offset="0.50" stop-color="rgb(148, 140, 46)"/><stop offset="0.75" stop-color="rgb(84, 80, 36)"/><stop offset="1.00" stop-color="rgb(22, 22, 21)"/></linearGradient>
<linearGradient id="g97"><stop offset="0.00" stop-color="rgb(234, 220, 58)"/><stop offset="0.25" stop-color="rgb(84, 80, 36)"/><stop offset="0.50" stop-color="rgb(84, 80, 36)"/><stop offset="0.75" stop-color="rgb(22, 22, 21)"/><stop offset="1.00" stop-color="rgb(34, 120, 158)"/></linearGradient>
<linearGradient id="g98"><stop offset="0.00" stop-color="rgb(148, 140, 46)"/><stop offset="0.25" stop-color="rgb(84, 80, 36)"/><stop offset="0.50" stop-color="rgb(84, 80, 36)"/><stop offset="0.75" stop-color="rgb(24, 52, 64)"/><stop offset="1.00" stop-color="rgb(24, 52, 64)"/></linearGradient>
<linearGradient id="g99"><stop offset="0.00" stop-color="rgb(148, 140, 46)"/><stop offset="0.25" stop-color="rgb(148, 140, 46)"/><stop offset="0.50" stop-color="rgb(84, 80, 36)"/><stop offset="0.75" stop-color="rgb(84, 80, 36)"/><stop offset="1.00" stop-color="rgb(22, 22, 21)"/></linearGradient>
<linearGradient id="g100"><stop offset="0.00" stop-color="rgb(22, 22, 21)"/><stop offset="0.25" stop-color="rgb(22, 22, 21)"/><stop offset="0.50" stop-color="rgb(22, 22, 21)"/><stop offset="0.75" stop-color="rgb(22, 22, 21)"/><stop offset="1.00" stop-color="rgb(22, 22, 21)"/></linearGradient>
<linearGradient id="g101"><stop offset="0.00" stop-color="rgb(22, 22, 21)"/><stop offset="0.25" stop-color="rgb(22, 22, 21)"/><stop offset="0.50" stop-color="rgb(22, 22, 21)"/><stop offset="0.75" stop-color="rgb(84, 80, 36)"/><stop offset="1.00" stop-color="rgb(84, 80, 36)"/></linearGradient>
<linearGradient id="g102"><stop offset="0.00" stop-color="rgb(22, 22, 21)"/><stop offset="0.25" stop-color="rgb(22, 22, 21)"/><stop offset="0.50" stop-color="rgb(22, 22, 21)"/><stop offset="0.75" stop-color="rgb(22, 22, 21)"/><stop offset="1.00" stop-color="rgb(22, 22, 21)"/></linearGradient>
<linearGradient id="g103"><stop offset="0.00" stop-color="rgb(22, 22, 21)"/><stop offset="0.25" stop-color="rgb(24, 52, 64)"/><stop offset="0.50" stop-color="rgb(24, 52, 64)"/><stop offset="0.75" stop-color="rgb(24, 52, 64)"/><stop offset="1.00" stop-color="rgb(24, 52, 64)"/></linearGradient>
<linearGradient id="g104"><stop offset="0.00" stop-color="rgb(22, 22, 21)"/><stop offset="0.25" stop-color="rgb(22, 22, 21)"/><stop offset="0.50" stop-color="rgb(22, 22, 21)"/><stop offset="0.75" stop-color="rgb(22, 22, 21)"/><stop offset="1.00" stop-color="rgb(22, 22, 21)"/></linearGradient>
<linearGradient id="g105"><stop offset="0.00" stop-color="rgb(24, 52, 64)"/><stop offset="0.25" stop-color="rgb(24, 52, 64)"/><stop offset="0.50" stop-color="rgb(24, 52, 64)"/><stop offset="0.75" stop-color="rgb(22, 22, 21)"/><stop offset="1.00" stop-color="rgb(24, 52, 64)"/></linearGradient>
<linearGradient id="g106"><stop offset="0.00" stop-color="rgb(24, 52, 64)"/><stop offset="0.25" stop-color="rgb(24, 52, 64)"/><stop offset="0.50" stop-color="rgb(24, 52, 64)"/><stop offset="0.75" stop-color="rgb(24, 52, 64)"/><stop offset="1.00" stop-color="rgb(22, 22, 21)"/></linearGradient>
<linearGradient id="g107"><stop offset="0.00" stop-color="rgb(22, 22, 21)"/><stop offset="0.25" stop-color="rgb(22, 22, 21)"/><stop offset="0.50" stop-color="rgb(22, 22, 21)"/><stop offset="0.75" stop-color="rgb(24, 52, 64)"/><stop offset="1.00" stop-color="rgb(24, 52, 64)"/></linearGradient>
<linearGradient id="g108"><stop offset="0.00" stop-color="rgb(22, 22, 21)"/><stop offset="0.25" stop-color="rgb(22, 22, 21)"/><stop offset="0.50" stop-color="rgb(22, 22, 21)"/><stop offset="0.75" stop-color="rgb(22, 22, 21)"/><stop offset="1.00" stop-color="rgb(22, 22, 21)"/></linearGradient>
<linearGradient id="g109"><stop offset="0.00" stop-color="rgb(24, 52, 64)"/><stop offset="0.25" stop-color="rgb(22, 22, 21)"/><stop offset="0.50" stop-color="rgb(22, 22, 21)"/><stop offset="0.75" stop-color="rgb(22, 22, 21)"/><stop offset="1.00" stop-color="rgb(22, 22, 21)"/></linearGradient>
<linearGradient id="g110"><stop offset="0.00" stop-color="rgb(84, 80, 36)"/><stop offset="0.25" stop-color="rgb(22, 22, 21)"/><stop offset="0.50" stop-color="rgb(22, 22, 21)"/><stop offset="0.75" stop-color="rgb(24, 52, 64)"/><stop offset="1.00" stop-color="rgb(34, 120, 158)"/></linearGradient>
<linearGradient id="g111"><stop offset="0.00" stop-color="rgb(24, 52, 64)"/><stop offset="0.25" stop-color="rgb(34, 120, 158)"/><stop offset="0.50" stop-color="rgb(34, 120, 158)"/><stop offset="0.75" stop-color="rgb(34, 120, 158)"/><stop offset="1.00" stop-color="rgb(34, 120, 158)"/></linearGradient>
<linearGradient id="g112"><stop offset="0.00" stop-color="rgb(30, 168, 218)"/><stop offset="0.25" stop-color="rgb(34, 120, 158)"/><stop offset="0.50" stop-color="rgb(24, 52, 64)"/><stop offset="0.75" stop-color="rgb(22, 22, 21)"/><stop offset="1.00" stop-color="rgb(22, 22, 21)"/></linearGradient>
<linearGradient id="g113"><stop offset="0.00" stop-color="rgb(24, 52, 64)"/><stop offset="0.25" stop-color="rgb(24, 52, 64)"/><stop offset="0.50" stop-color="rgb(24, 52, 64)"/><stop offset="0.75" stop-color="rgb(24, 52, 64)"/><stop offset="1.00" stop-color="rgb(22, 22, 21)"/></linearGradient>
<linearGradient id="g114"><stop offset="0.00" stop-color="rgb(34, 120, 158)"/><stop offset="0.25" stop-color="rgb(34, 120, 158)"/><stop offset="0.50" stop-color="rgb(34, 120, 158)"/><stop offset="0.75" stop-color="rgb(24, 52, 64)"/><stop offset="1.00" stop-color="rgb(22, 22, 21)"/></linearGradient>
<linearGradient id="g115"><stop offset="0.00" stop-color="rgb(34, 120, 158)"/><stop offset="0.25" stop-color="rgb(24, 52, 64)"/><stop offset="0.50" stop-color="rgb(24, 52, 64)"/><stop offset="0.75" stop-color="rgb(24, 52, 64)"/><stop offset="1.00" stop-color="rgb(22, 22, 21)"/></linearGradient>
<linearGradient id="g116"><stop offset="0.00" stop-color="rgb(30, 168, 218)"/><stop offset="0.25" stop-color="rgb(34, 120, 158)"/><stop offset="0.50" stop-color="rgb(34, 120, 158)"/><stop offset="0.75" stop-color="rgb(24, 52, 64)"/><stop offset="1.00" stop-color="rgb(22, 22, 21)"/></linearGradient>
<linearGradient id="g117"><stop offset="0.00" stop-color="rgb(34, 120, 158)"/><stop offset="0.25" stop-color="rgb(30, 168, 218)"/><stop offset="0.50" stop-color="rgb(30, 168, 218)"/><stop offset="0.75" stop-color="rgb(30, 168, 218)"/><stop offset="1.00" stop-color="rgb(30, 168, 218)"/></linearGradient>
<linearGradient id="g118"><stop offset="0.00" stop-color="rgb(24, 52, 64)"/><stop offset="0.25" stop-color="rgb(30, 168, 218)"/><stop offset="0.50" stop-color="rgb(30, 168, 218)"/><stop offset="0.75" stop-color="rgb(34, 120, 158)"/><stop offset="1.00" stop-color="rgb(34, 120, 158)"/></linearGradient>
<linearGradient id="g119"><stop offset="0.00" stop-color="rgb(22, 22, 21)"/><stop offset="0.25" stop-color="rgb(22, 22, 21)"/><stop offset="0.50" stop-color="rgb(22, 22, 21)"/><stop offset="0.75" stop-color="rgb(22, 22, 21)"/><stop offset="1.00" stop-color="rgb(22, 22, 21)"/></linearGradient>
<linearGradient id="g120"><stop offset="0.00" stop-color="rgb(30, 168, 218)"/><stop offset="0.25" stop-color="rgb(22, 22, 21)"/><stop offset="0.50" stop-color="rgb(22, 22, 21)"/><stop offset="0.75" stop-color="rgb(22, 22, 21)"/><stop offset="1.00" stop-color="rgb(22, 22, 21)"/></linearGradient>
<linearGradient id="g121"><stop offset="0.00" stop-color="rgb(34, 120, 158)"/><stop offset="0.25" stop-color="rgb(22, 22, 21)"/><stop offset="0.50" stop-color="rgb(22, 22, 21)"/><stop offset="0.75" stop-color="rgb(22, 22, 21)"/><stop offset="1.00" stop-color="rgb(22, 22, 21)"/></linearGradient>
<linearGradient id="g122"><stop offset="0.00" stop-color="rgb(22, 22, 21)"/><stop offset="0.25" stop-color="rgb(84, 80, 36)"/><stop offset="0.50" stop-color="rgb(84, 80, 36)"/><stop offset="0.75" stop-color="rgb(148, 140, 46)"/><stop offset="1.00" stop-color="rgb(148, 140, 46)"/></linearGradient>
<linearGradient id="g123"><stop offset="0.00" stop-color="rgb(22, 22, 21)"/><stop offset="0.25" stop-color="rgb(84, 80, 36)"/><stop offset="0.50" stop-color="rgb(84, 80, 36)"/><stop offset="0.75" stop-color="rgb(22, 22, 21)"/><stop offset="1.00" stop-color="rgb(24, 52, 64)"/></linearGradient>
<linearGradient id="g124"><stop offset="0.00" stop-color="rgb(22, 22, 21)"/><stop offset="0.25" stop-color="rgb(22, 22, 21)"/><stop offset="0.50" stop-color="rgb(22, 22, 21)"/><stop offset="0.75" stop-color="rgb(22, 22, 21)"/><stop offset="1.00" stop-color="rgb(22, 22, 21)"/></linearGradient>
<linearGradient id="g125"><stop offset="0.00" stop-color="rgb(22, 22, 21)"/><stop offset="0.25" stop-color="rgb(24, 52, 64)"/><stop offset="0.50" stop-color="rgb(24, 52, 64)"/><stop offset="0.75" stop-color="rgb(24, 52, 64)"/><stop offset="1.00" stop-color="rgb(22, 22, 21)"/></linearGradient>
<linearGradient id="g126"><stop offset="0.00" stop-color="rgb(22, 22, 21)"/><stop offset="0.25" stop-color="rgb(22, 22, 21)"/><stop offset="0.50" stop-color="rgb(22, 22, 21)"/><stop offset="0.75" stop-color="rgb(22, 22, 21)"/><stop offset="1.00" stop-color="rgb(84, 80, 36)"/></linearGradient>
<linearGradient id="g127"><stop offset="0.00" stop-color="rgb(30, 168, 218)"/><stop offset="0.25" stop-color="rgb(24, 52, 64)"/><stop offset="0.50" stop-color="rgb(22, 22, 21)"/><stop offset="0.75" stop-color="rgb(22, 22, 21)"/><stop offset="1.00" stop-color="rgb(84, 80, 36)"/></linearGradient>
<linearGradient id="g128"><stop offset="0.00" stop-color="rgb(30, 168, 218)"/><stop offset="0.25" stop-color="rgb(34, 120, 158)"/><stop offset="0.50" stop-color="rgb(34, 120, 158)"/><stop offset="0.75" stop-color="rgb(24, 52, 64)"/><stop offset="1.00" stop-color="rgb(24, 52, 64)"/></linearGradient>
<linearGradient id="g129"><stop offset="0.00" stop-color="rgb(30, 168, 218)"/><stop offset="0.25" stop-color="rgb(24, 52, 64)"/><stop offset="0.50" stop-color="rgb(24, 52, 64)"/><stop offset="0.75" stop-color="rgb(24, 52, 64)"/><stop offset="1.00" stop-color="rgb(22, 22, 21)"/></linearGradient>
<linearGradient id="g130"><stop offset="0.00" stop-color="rgb(30, 168, 218)"/><stop offset="0.25" stop-color="rgb(34, 120, 158)"/><stop offset="0.50" stop-color="rgb(34, 120, 158)"/><stop offset="0.75" stop-color="rgb(24, 52, 64)"/><stop offset="1.00" stop-color="rgb(24, 52, 64)"/></linearGradient>
<linearGradient id="g131"><stop offset="0.00" stop-color="rgb(30, 168, 218)"/><stop offset="0.25" stop-color="rgb(34, 120, 158)"/><stop offset="0.50" stop-color="rgb(34, 120, 158)"/><stop offset="0.75" stop-color="rgb(34, 120, 158)"/><stop offset="1.00" stop-color="rgb(34, 120, 158)"/></linearGradient>
<linearGradient id="g132"><stop offset="0.00" stop-color="rgb(34, 120, 158)"/><stop offset="0.25" stop-color="rgb(30, 168, 218)"/><stop offset="0.50" stop-color="rgb(30, 168, 218)"/><stop offset="0.75" stop-color="rgb(30, 168, 218)"/><stop offset="1.00" stop-color="rgb(30, 168, 218)"/></linearGradient>
<linearGradient id="g133"><stop offset="0.00" stop-color="rgb(24, 52, 64)"/><stop offset="0.25" stop-color="rgb(24, 52, 64)"/><stop offset="0.50" stop-color="rgb(24, 52, 64)"/><stop offset="0.75" stop-color="rgb(24, 52, 64)"/><stop offset="1.00" stop-color="rgb(24, 52, 64)"/></linearGradient>
<linearGradient id="g134"><stop offset="0.00" stop-color="rgb(34, 120, 158)"/><stop offset="0.25" stop-color="rgb(34, 120, 158)"/><stop offset="0.50" stop-color="rgb(34, 120, 158)"/><stop offset="0.75" stop-color="rgb(24, 52, 64)"/><stop offset="1.00" stop-color="rgb(24, 52, 64)"/></linearGradient>
<linearGradient id="g135"><stop offset="0.00" stop-color="rgb(34, 120, 158)"/><stop offset="0.25" stop-color="rgb(34, 120, 158)"/><stop offset="0.50" stop-color="rgb(34, 120, 158)"/><stop offset="0.75" stop-color="rgb(34, 120, 158)"/><stop offset="1.00" stop-color="rgb(34, 120, 158)"/></linearGradient>
<linearGradient id="g136"><stop offset="0.00" stop-color="rgb(24, 52, 64)"/><stop offset="0.25" stop-color="rgb(34, 120, 158)"/><stop offset="0.50" stop-color="rgb(34, 120, 158)"/><stop offset="0.75" stop-color="rgb(34, 120, 158)"/><stop offset="1.00" stop-color="rgb(34, 120, 158)"/></linearGradient>
<linearGradient id="g137"><stop offset="0.00" stop-color="rgb(30, 168, 218)"/><stop offset="0.25" stop-color="rgb(30, 168, 218)"/><stop offset="0.50" stop-color="rgb(30, 168, 218)"/><stop offset="0.75" stop-color="rgb(30, 168, 218)"/><stop offset="1.00" stop-color="rgb(30, 168, 218)"/></linearGradient>
<linearGradient id="g138"><stop offset="0.00" stop-color="rgb(30, 168, 218)"/><stop offset="0.25" stop-color="rgb(30, 168, 218)"/><stop offset="0.50" stop-color="rgb(34, 120, 158)"/><stop offset="0.75" stop-color="rgb(34, 120, 158)"/><stop offset="1.00" stop-color="rgb(24, 52, 64)"/></linearGradient>
<linearGradient id="g139"><stop offset="0.00" stop-color="rgb(30, 168, 218)"/><stop offset="0.25" stop-color="rgb(30, 168, 218)"/><stop offset="0.50" stop-color="rgb(30, 168, 218)"/><stop offset="0.75" stop-color="rgb(30, 168, 218)"/><stop offset="1.00" stop-color="rgb(30, 168, 218)"/></linearGradient>
<linearGradient id="g140"><stop offset="0.00" stop-color="rgb(30, 168, 218)"/><stop offset="0.25" stop-color="rgb(30, 168, 218)"/><stop offset="0.50" stop-color="rgb(30, 168, 218)"/><stop offset="0.75" stop-color="rgb(34, 120, 158)"/><stop offset="1.00" stop-color="rgb(24, 52, 64)"/></linearGradient>
<linearGradient id="g141"><stop offset="0.00" stop-color="rgb(30, 168, 218)"/><stop offset="0.25" stop-color="rgb(30, 168, 218)"/><stop offset="0.50" stop-color="rgb(30, 168, 218)"/><stop offset="0.75" stop-color="rgb(30, 168, 218)"/><stop offset="1.00" stop-color="rgb(30, 168, 218)"/></linearGradient>
</defs>
<rect x="757.3" y="713.2" width="208.7" height="4.6" fill="url(#g1)"/>
<rect x="757.3" y="717.5" width="208.7" height="2.8" fill="url(#g2)"/>
<rect x="757.3" y="720.0" width="208.7" height="5.8" fill="url(#g3)"/>
<rect x="757.3" y="725.5" width="208.7" height="1.8" fill="url(#g4)"/>
<rect x="757.3" y="727.0" width="208.7" height="3.6" fill="url(#g5)"/>
<rect x="757.3" y="730.3" width="208.7" height="5.8" fill="url(#g6)"/>
<rect x="757.3" y="735.8" width="208.7" height="4.3" fill="url(#g7)"/>
<rect x="757.3" y="739.8" width="208.7" height="4.3" fill="url(#g8)"/>
<rect x="757.3" y="743.8" width="208.7" height="4.3" fill="url(#g9)"/>
<rect x="757.3" y="747.8" width="208.7" height="8.2" fill="url(#g10)"/>
<rect x="757.3" y="755.7" width="208.7" height="1.9" fill="url(#g11)"/>
<rect x="757.3" y="757.3" width="208.7" height="3.5" fill="url(#g12)"/>
<rect x="757.3" y="760.5" width="208.7" height="3.5" fill="url(#g13)"/>
<rect x="757.3" y="763.7" width="208.7" height="5.6" fill="url(#g14)"/>
<rect x="757.3" y="769.0" width="208.7" height="2.7" fill="url(#g15)"/>
<rect x="757.3" y="771.4" width="208.7" height="3.4" fill="url(#g16)"/>
<rect x="757.3" y="774.5" width="208.7" height="5.9" fill="url(#g17)"/>
<rect x="757.3" y="780.1" width="208.7" height="6.7" fill="url(#g18)"/>
<rect x="757.3" y="786.5" width="208.7" height="2.7" fill="url(#g19)"/>
<rect x="757.3" y="788.9" width="208.7" height="7.4" fill="url(#g20)"/>
<rect x="757.3" y="796.0" width="208.7" height="7.5" fill="url(#g21)"/>
<rect x="757.3" y="803.2" width="208.7" height="3.4" fill="url(#g22)"/>
<rect x="757.3" y="806.3" width="208.7" height="6.7" fill="url(#g23)"/>
<rect x="757.3" y="812.7" width="208.7" height="7.5" fill="url(#g24)"/>
<rect x="757.3" y="819.9" width="208.7" height="4.4" fill="url(#g25)"/>
<rect x="757.3" y="824.0" width="208.7" height="7.4" fill="url(#g26)"/>
<rect x="757.3" y="831.1" width="208.7" height="6.7" fill="url(#g27)"/>
<rect x="757.3" y="837.5" width="208.7" height="10.6" fill="url(#g28)"/>
<rect x="757.3" y="847.8" width="208.7" height="8.5" fill="url(#g29)"/>
<rect x="757.3" y="856.0" width="208.7" height="8.8" fill="url(#g30)"/>
<rect x="757.3" y="864.5" width="208.7" height="15.8" fill="url(#g31)"/>
<rect x="757.3" y="880.0" width="208.7" height="8.3" fill="url(#g32)"/>
<rect x="757.3" y="888.0" width="208.7" height="6.3" fill="url(#g33)"/>
<rect x="757.3" y="894.0" width="208.7" height="13.3" fill="url(#g34)"/>
<rect x="757.3" y="907.0" width="208.7" height="6.3" fill="url(#g35)"/>
<rect x="757.3" y="913.0" width="208.7" height="10.0" fill="url(#g36)"/>
<rect x="757.3" y="922.7" width="208.7" height="12.4" fill="url(#g37)"/>
<rect x="757.3" y="934.8" width="208.7" height="5.0" fill="url(#g38)"/>
<rect x="757.3" y="939.5" width="208.7" height="9.8" fill="url(#g39)"/>
<rect x="757.3" y="949.0" width="208.7" height="10.7" fill="url(#g40)"/>
<rect x="757.3" y="959.4" width="208.7" height="9.1" fill="url(#g41)"/>
<rect x="757.3" y="968.2" width="208.7" height="7.4" fill="url(#g42)"/>
<rect x="757.3" y="975.3" width="208.7" height="7.5" fill="url(#g43)"/>
<rect x="757.3" y="982.5" width="208.7" height="8.4" fill="url(#g44)"/>
<rect x="757.3" y="990.6" width="208.7" height="9.0" fill="url(#g45)"/>
<rect x="757.3" y="999.3" width="208.7" height="8.3" fill="url(#g46)"/>
<rect x="757.3" y="1007.3" width="208.7" height="2.7" fill="url(#g47)"/>
<rect x="757.3" y="1009.7" width="208.7" height="5.8" fill="url(#g48)"/>
<rect x="757.3" y="1015.2" width="208.7" height="4.3" fill="url(#g49)"/>
<rect x="757.3" y="1019.2" width="208.7" height="5.1" fill="url(#g50)"/>
<rect x="757.3" y="1024.0" width="208.7" height="20.3" fill="url(#g51)"/>
<rect x="757.3" y="1044.0" width="208.7" height="3.5" fill="url(#g52)"/>
<rect x="757.3" y="1047.2" width="208.7" height="9.0" fill="url(#g53)"/>
<rect x="757.3" y="1055.9" width="208.7" height="6.7" fill="url(#g54)"/>
<rect x="757.3" y="1062.3" width="208.7" height="7.4" fill="url(#g55)"/>
<rect x="757.3" y="1069.4" width="208.7" height="5.9" fill="url(#g56)"/>
<rect x="757.3" y="1075.0" width="208.7" height="6.6" fill="url(#g57)"/>
<rect x="757.3" y="1081.3" width="208.7" height="11.5" fill="url(#g58)"/>
<rect x="757.3" y="1092.5" width="208.7" height="7.6" fill="url(#g59)"/>
<rect x="757.3" y="1099.8" width="208.7" height="5.0" fill="url(#g60)"/>
<rect x="757.3" y="1104.5" width="208.7" height="5.1" fill="url(#g61)"/>
<rect x="757.3" y="1109.3" width="208.7" height="5.1" fill="url(#g62)"/>
<rect x="757.3" y="1114.1" width="208.7" height="7.4" fill="url(#g63)"/>
<rect x="757.3" y="1121.2" width="208.7" height="5.1" fill="url(#g64)"/>
<rect x="757.3" y="1126.0" width="208.7" height="9.1" fill="url(#g65)"/>
<rect x="757.3" y="1134.8" width="208.7" height="5.0" fill="url(#g66)"/>
<rect x="757.3" y="1139.5" width="208.7" height="9.0" fill="url(#g67)"/>
<rect x="757.3" y="1148.2" width="208.7" height="6.6" fill="url(#g68)"/>
<rect x="757.3" y="1154.5" width="208.7" height="3.5" fill="url(#g69)"/>
<rect x="757.3" y="1157.7" width="208.7" height="8.3" fill="url(#g70)"/>
<rect x="757.3" y="1165.7" width="208.7" height="5.0" fill="url(#g71)"/>
<rect x="757.3" y="1170.4" width="208.7" height="8.3" fill="url(#g72)"/>
<rect x="757.3" y="1178.4" width="208.7" height="6.7" fill="url(#g73)"/>
<rect x="757.3" y="1184.8" width="208.7" height="5.1" fill="url(#g74)"/>
<rect x="966.0" y="713.2" width="207.0" height="12.6" fill="url(#g75)"/>
<rect x="966.0" y="725.5" width="207.0" height="2.8" fill="url(#g76)"/>
<rect x="966.0" y="728.0" width="207.0" height="7.3" fill="url(#g77)"/>
<rect x="966.0" y="735.0" width="207.0" height="4.3" fill="url(#g78)"/>
<rect x="966.0" y="739.0" width="207.0" height="7.5" fill="url(#g79)"/>
<rect x="966.0" y="746.2" width="207.0" height="4.2" fill="url(#g80)"/>
<rect x="966.0" y="750.1" width="207.0" height="3.5" fill="url(#g81)"/>
<rect x="966.0" y="753.3" width="207.0" height="4.3" fill="url(#g82)"/>
<rect x="966.0" y="757.3" width="207.0" height="3.5" fill="url(#g83)"/>
<rect x="966.0" y="760.5" width="207.0" height="9.6" fill="url(#g84)"/>
<rect x="966.0" y="769.8" width="207.0" height="4.2" fill="url(#g85)"/>
<rect x="966.0" y="773.7" width="207.0" height="9.1" fill="url(#g86)"/>
<rect x="966.0" y="782.5" width="207.0" height="8.2" fill="url(#g87)"/>
<rect x="966.0" y="790.4" width="207.0" height="5.9" fill="url(#g88)"/>
<rect x="966.0" y="796.0" width="207.0" height="6.7" fill="url(#g89)"/>
<rect x="966.0" y="802.4" width="207.0" height="10.6" fill="url(#g90)"/>
<rect x="966.0" y="812.7" width="207.0" height="3.5" fill="url(#g91)"/>
<rect x="966.0" y="815.9" width="207.0" height="4.3" fill="url(#g92)"/>
<rect x="966.0" y="819.9" width="207.0" height="5.2" fill="url(#g93)"/>
<rect x="966.0" y="824.8" width="207.0" height="4.2" fill="url(#g94)"/>
<rect x="966.0" y="828.7" width="207.0" height="6.7" fill="url(#g95)"/>
<rect x="966.0" y="835.1" width="207.0" height="6.7" fill="url(#g96)"/>
<rect x="966.0" y="841.5" width="207.0" height="5.8" fill="url(#g97)"/>
<rect x="966.0" y="847.0" width="207.0" height="6.7" fill="url(#g98)"/>
<rect x="966.0" y="853.4" width="207.0" height="11.4" fill="url(#g99)"/>
<rect x="966.0" y="864.5" width="207.0" height="15.8" fill="url(#g100)"/>
<rect x="966.0" y="880.0" width="207.0" height="4.8" fill="url(#g101)"/>
<rect x="966.0" y="884.5" width="207.0" height="3.5" fill="url(#g102)"/>
<rect x="966.0" y="887.7" width="207.0" height="5.1" fill="url(#g103)"/>
<rect x="966.0" y="892.5" width="207.0" height="6.7" fill="url(#g104)"/>
<rect x="966.0" y="898.9" width="207.0" height="5.0" fill="url(#g105)"/>
<rect x="966.0" y="903.6" width="207.0" height="7.5" fill="url(#g106)"/>
<rect x="966.0" y="910.8" width="207.0" height="7.5" fill="url(#g107)"/>
<rect x="966.0" y="918.0" width="207.0" height="18.7" fill="url(#g108)"/>
<rect x="966.0" y="936.4" width="207.0" height="8.2" fill="url(#g109)"/>
<rect x="966.0" y="944.3" width="207.0" height="9.9" fill="url(#g110)"/>
<rect x="966.0" y="953.9" width="207.0" height="10.6" fill="url(#g111)"/>
<rect x="966.0" y="964.2" width="207.0" height="12.2" fill="url(#g112)"/>
<rect x="966.0" y="976.1" width="207.0" height="6.7" fill="url(#g113)"/>
<rect x="966.0" y="982.5" width="207.0" height="7.8" fill="url(#g114)"/>
<rect x="966.0" y="990.0" width="207.0" height="10.4" fill="url(#g115)"/>
<rect x="966.0" y="1000.1" width="207.0" height="7.5" fill="url(#g116)"/>
<rect x="966.0" y="1007.3" width="207.0" height="5.0" fill="url(#g117)"/>
<rect x="966.0" y="1012.0" width="207.0" height="12.3" fill="url(#g118)"/>
<rect x="966.0" y="1024.0" width="207.0" height="5.0" fill="url(#g119)"/>
<rect x="966.0" y="1028.7" width="207.0" height="11.5" fill="url(#g120)"/>
<rect x="966.0" y="1039.9" width="207.0" height="3.6" fill="url(#g121)"/>
<rect x="966.0" y="1043.2" width="207.0" height="6.6" fill="url(#g122)"/>
<rect x="966.0" y="1049.5" width="207.0" height="6.7" fill="url(#g123)"/>
<rect x="966.0" y="1055.9" width="207.0" height="6.7" fill="url(#g124)"/>
<rect x="966.0" y="1062.3" width="207.0" height="9.8" fill="url(#g125)"/>
<rect x="966.0" y="1071.8" width="207.0" height="6.7" fill="url(#g126)"/>
<rect x="966.0" y="1078.2" width="207.0" height="9.8" fill="url(#g127)"/>
<rect x="966.0" y="1087.7" width="207.0" height="7.6" fill="url(#g128)"/>
<rect x="966.0" y="1095.0" width="207.0" height="9.0" fill="url(#g129)"/>
<rect x="966.0" y="1103.7" width="207.0" height="5.9" fill="url(#g130)"/>
<rect x="966.0" y="1109.3" width="207.0" height="9.9" fill="url(#g131)"/>
<rect x="966.0" y="1118.9" width="207.0" height="5.0" fill="url(#g132)"/>
<rect x="966.0" y="1123.6" width="207.0" height="4.3" fill="url(#g133)"/>
<rect x="966.0" y="1127.6" width="207.0" height="7.5" fill="url(#g134)"/>
<rect x="966.0" y="1134.8" width="207.0" height="8.2" fill="url(#g135)"/>
<rect x="966.0" y="1142.7" width="207.0" height="5.8" fill="url(#g136)"/>
<rect x="966.0" y="1148.2" width="207.0" height="22.5" fill="url(#g137)"/>
<rect x="966.0" y="1170.4" width="207.0" height="3.5" fill="url(#g138)"/>
<rect x="966.0" y="1173.6" width="207.0" height="5.1" fill="url(#g139)"/>
<rect x="966.0" y="1178.4" width="207.0" height="3.5" fill="url(#g140)"/>
<rect x="966.0" y="1181.6" width="207.0" height="8.3" fill="url(#g141)"/>
<defs><pattern id="hgrid" x="757.3" y="713.2" width="20.7" height="3.176" patternUnits="userSpaceOnUse"><rect x="0" y="0" width="20.7" height="0.7" fill="#b0b0b0"/><rect x="0.30" y="0" width="0.6" height="3.176" fill="#b0b0b0"/><rect x="2.15" y="0" width="0.6" height="3.176" fill="#b0b0b0"/><rect x="4.00" y="0" width="0.6" height="3.176" fill="#b0b0b0"/><rect x="5.85" y="0" width="0.6" height="3.176" fill="#b0b0b0"/><rect x="7.70" y="0" width="0.6" height="3.176" fill="#b0b0b0"/><rect x="11.00" y="0" width="0.6" height="3.176" fill="#b0b0b0"/></pattern></defs>
<rect x="757.3" y="713.2" width="208.7" height="4.3" fill="url(#hgrid)" opacity="0.1"/>
<rect x="757.3" y="717.5" width="208.7" height="2.5" fill="url(#hgrid)" opacity="0.1"/>
<rect x="757.3" y="720.0" width="208.7" height="5.5" fill="url(#hgrid)" opacity="0.1"/>
<rect x="757.3" y="725.5" width="208.7" height="1.5" fill="url(#hgrid)" opacity="0.26"/>
<rect x="757.3" y="727.0" width="208.7" height="3.3" fill="url(#hgrid)" opacity="0.34"/>
<rect x="757.3" y="730.3" width="208.7" height="5.5" fill="url(#hgrid)" opacity="0.34"/>
<rect x="757.3" y="735.8" width="208.7" height="4.0" fill="url(#hgrid)" opacity="0.34"/>
<rect x="757.3" y="739.8" width="208.7" height="4.0" fill="url(#hgrid)" opacity="0.26"/>
<rect x="757.3" y="743.8" width="208.7" height="4.0" fill="url(#hgrid)" opacity="0.34"/>
<rect x="757.3" y="747.8" width="208.7" height="7.9" fill="url(#hgrid)" opacity="0.34"/>
<rect x="757.3" y="755.7" width="208.7" height="1.6" fill="url(#hgrid)" opacity="0.34"/>
<rect x="757.3" y="757.3" width="208.7" height="3.2" fill="url(#hgrid)" opacity="0.26"/>
<rect x="757.3" y="760.5" width="208.7" height="3.2" fill="url(#hgrid)" opacity="0.26"/>
<rect x="757.3" y="763.7" width="208.7" height="5.3" fill="url(#hgrid)" opacity="0.34"/>
<rect x="757.3" y="769.0" width="208.7" height="2.4" fill="url(#hgrid)" opacity="0.2"/>
<rect x="757.3" y="771.4" width="208.7" height="3.1" fill="url(#hgrid)" opacity="0.2"/>
<rect x="757.3" y="774.5" width="208.7" height="5.6" fill="url(#hgrid)" opacity="0.1"/>
<rect x="757.3" y="780.1" width="208.7" height="6.4" fill="url(#hgrid)" opacity="0.1"/>
<rect x="757.3" y="786.5" width="208.7" height="2.4" fill="url(#hgrid)" opacity="0.26"/>
<rect x="757.3" y="788.9" width="208.7" height="7.1" fill="url(#hgrid)" opacity="0.26"/>
<rect x="757.3" y="796.0" width="208.7" height="7.2" fill="url(#hgrid)" opacity="0.1"/>
<rect x="757.3" y="803.2" width="208.7" height="3.1" fill="url(#hgrid)" opacity="0.26"/>
<rect x="757.3" y="806.3" width="208.7" height="6.4" fill="url(#hgrid)" opacity="0.2"/>
<rect x="757.3" y="812.7" width="208.7" height="7.2" fill="url(#hgrid)" opacity="0.1"/>
<rect x="757.3" y="819.9" width="208.7" height="4.1" fill="url(#hgrid)" opacity="0.2"/>
<rect x="757.3" y="824.0" width="208.7" height="7.1" fill="url(#hgrid)" opacity="0.26"/>
<rect x="757.3" y="831.1" width="208.7" height="6.4" fill="url(#hgrid)" opacity="0.26"/>
<rect x="757.3" y="837.5" width="208.7" height="10.3" fill="url(#hgrid)" opacity="0.26"/>
<rect x="757.3" y="847.8" width="208.7" height="8.2" fill="url(#hgrid)" opacity="0.34"/>
<rect x="757.3" y="856.0" width="208.7" height="8.5" fill="url(#hgrid)" opacity="0.34"/>
<rect x="757.3" y="864.5" width="208.7" height="15.5" fill="url(#hgrid)" opacity="0.34"/>
<rect x="757.3" y="880.0" width="208.7" height="8.0" fill="url(#hgrid)" opacity="0.34"/>
<rect x="757.3" y="888.0" width="208.7" height="6.0" fill="url(#hgrid)" opacity="0.34"/>
<rect x="757.3" y="894.0" width="208.7" height="13.0" fill="url(#hgrid)" opacity="0.34"/>
<rect x="757.3" y="907.0" width="208.7" height="6.0" fill="url(#hgrid)" opacity="0.34"/>
<rect x="757.3" y="913.0" width="208.7" height="9.7" fill="url(#hgrid)" opacity="0.34"/>
<rect x="757.3" y="922.7" width="208.7" height="12.1" fill="url(#hgrid)" opacity="0.26"/>
<rect x="757.3" y="934.8" width="208.7" height="4.7" fill="url(#hgrid)" opacity="0.26"/>
<rect x="757.3" y="939.5" width="208.7" height="9.5" fill="url(#hgrid)" opacity="0.26"/>
<rect x="757.3" y="949.0" width="208.7" height="10.4" fill="url(#hgrid)" opacity="0.26"/>
<rect x="757.3" y="959.4" width="208.7" height="8.8" fill="url(#hgrid)" opacity="0.34"/>
<rect x="757.3" y="968.2" width="208.7" height="7.1" fill="url(#hgrid)" opacity="0.34"/>
<rect x="757.3" y="975.3" width="208.7" height="7.2" fill="url(#hgrid)" opacity="0.26"/>
<rect x="757.3" y="982.5" width="208.7" height="8.1" fill="url(#hgrid)" opacity="0.34"/>
<rect x="757.3" y="990.6" width="208.7" height="8.7" fill="url(#hgrid)" opacity="0.34"/>
<rect x="757.3" y="999.3" width="208.7" height="8.0" fill="url(#hgrid)" opacity="0.34"/>
<rect x="757.3" y="1007.3" width="208.7" height="2.4" fill="url(#hgrid)" opacity="0.26"/>
<rect x="757.3" y="1009.7" width="208.7" height="5.5" fill="url(#hgrid)" opacity="0.34"/>
<rect x="757.3" y="1015.2" width="208.7" height="4.0" fill="url(#hgrid)" opacity="0.34"/>
<rect x="757.3" y="1019.2" width="208.7" height="4.8" fill="url(#hgrid)" opacity="0.34"/>
<rect x="757.3" y="1024.0" width="208.7" height="20.0" fill="url(#hgrid)" opacity="0.2"/>
<rect x="757.3" y="1044.0" width="208.7" height="3.2" fill="url(#hgrid)" opacity="0.26"/>
<rect x="757.3" y="1047.2" width="208.7" height="8.7" fill="url(#hgrid)" opacity="0.26"/>
<rect x="757.3" y="1055.9" width="208.7" height="6.4" fill="url(#hgrid)" opacity="0.34"/>
<rect x="757.3" y="1062.3" width="208.7" height="7.1" fill="url(#hgrid)" opacity="0.26"/>
<rect x="757.3" y="1069.4" width="208.7" height="5.6" fill="url(#hgrid)" opacity="0.34"/>
<rect x="757.3" y="1075.0" width="208.7" height="6.3" fill="url(#hgrid)" opacity="0.26"/>
<rect x="757.3" y="1081.3" width="208.7" height="11.2" fill="url(#hgrid)" opacity="0.26"/>
<rect x="757.3" y="1092.5" width="208.7" height="7.3" fill="url(#hgrid)" opacity="0.2"/>
<rect x="757.3" y="1099.8" width="208.7" height="4.7" fill="url(#hgrid)" opacity="0.26"/>
<rect x="757.3" y="1104.5" width="208.7" height="4.8" fill="url(#hgrid)" opacity="0.2"/>
<rect x="757.3" y="1109.3" width="208.7" height="4.8" fill="url(#hgrid)" opacity="0.26"/>
<rect x="757.3" y="1114.1" width="208.7" height="7.1" fill="url(#hgrid)" opacity="0.26"/>
<rect x="757.3" y="1121.2" width="208.7" height="4.8" fill="url(#hgrid)" opacity="0.26"/>
<rect x="757.3" y="1126.0" width="208.7" height="8.8" fill="url(#hgrid)" opacity="0.34"/>
<rect x="757.3" y="1134.8" width="208.7" height="4.7" fill="url(#hgrid)" opacity="0.26"/>
<rect x="757.3" y="1139.5" width="208.7" height="8.7" fill="url(#hgrid)" opacity="0.34"/>
<rect x="757.3" y="1148.2" width="208.7" height="6.3" fill="url(#hgrid)" opacity="0.2"/>
<rect x="757.3" y="1154.5" width="208.7" height="3.2" fill="url(#hgrid)" opacity="0.26"/>
<rect x="757.3" y="1157.7" width="208.7" height="8.0" fill="url(#hgrid)" opacity="0.2"/>
<rect x="757.3" y="1165.7" width="208.7" height="4.7" fill="url(#hgrid)" opacity="0.26"/>
<rect x="757.3" y="1170.4" width="208.7" height="8.0" fill="url(#hgrid)" opacity="0.2"/>
<rect x="757.3" y="1178.4" width="208.7" height="6.4" fill="url(#hgrid)" opacity="0.26"/>
<rect x="757.3" y="1184.8" width="208.7" height="4.8" fill="url(#hgrid)" opacity="0.26"/>
<rect x="966.0" y="713.2" width="207.0" height="12.3" fill="url(#hgrid)" opacity="0.1"/>
<rect x="966.0" y="725.5" width="207.0" height="2.5" fill="url(#hgrid)" opacity="0.26"/>
<rect x="966.0" y="728.0" width="207.0" height="7.0" fill="url(#hgrid)" opacity="0.26"/>
<rect x="966.0" y="735.0" width="207.0" height="4.0" fill="url(#hgrid)" opacity="0.34"/>
<rect x="966.0" y="739.0" width="207.0" height="7.2" fill="url(#hgrid)" opacity="0.2"/>
<rect x="966.0" y="746.2" width="207.0" height="3.9" fill="url(#hgrid)" opacity="0.2"/>
<rect x="966.0" y="750.1" width="207.0" height="3.2" fill="url(#hgrid)" opacity="0.2"/>
<rect x="966.0" y="753.3" width="207.0" height="4.0" fill="url(#hgrid)" opacity="0.34"/>
<rect x="966.0" y="757.3" width="207.0" height="3.2" fill="url(#hgrid)" opacity="0.2"/>
<rect x="966.0" y="760.5" width="207.0" height="9.3" fill="url(#hgrid)" opacity="0.1"/>
<rect x="966.0" y="769.8" width="207.0" height="3.9" fill="url(#hgrid)" opacity="0.2"/>
<rect x="966.0" y="773.7" width="207.0" height="8.8" fill="url(#hgrid)" opacity="0.34"/>
<rect x="966.0" y="782.5" width="207.0" height="7.9" fill="url(#hgrid)" opacity="0.2"/>
<rect x="966.0" y="790.4" width="207.0" height="5.6" fill="url(#hgrid)" opacity="0.34"/>
<rect x="966.0" y="796.0" width="207.0" height="6.4" fill="url(#hgrid)" opacity="0.2"/>
<rect x="966.0" y="802.4" width="207.0" height="10.3" fill="url(#hgrid)" opacity="0.34"/>
<rect x="966.0" y="812.7" width="207.0" height="3.2" fill="url(#hgrid)" opacity="0.34"/>
<rect x="966.0" y="815.9" width="207.0" height="4.0" fill="url(#hgrid)" opacity="0.26"/>
<rect x="966.0" y="819.9" width="207.0" height="4.9" fill="url(#hgrid)" opacity="0.2"/>
<rect x="966.0" y="824.8" width="207.0" height="3.9" fill="url(#hgrid)" opacity="0.26"/>
<rect x="966.0" y="828.7" width="207.0" height="6.4" fill="url(#hgrid)" opacity="0.26"/>
<rect x="966.0" y="835.1" width="207.0" height="6.4" fill="url(#hgrid)" opacity="0.26"/>
<rect x="966.0" y="841.5" width="207.0" height="5.5" fill="url(#hgrid)" opacity="0.26"/>
<rect x="966.0" y="847.0" width="207.0" height="6.4" fill="url(#hgrid)" opacity="0.26"/>
<rect x="966.0" y="853.4" width="207.0" height="11.1" fill="url(#hgrid)" opacity="0.26"/>
<rect x="966.0" y="864.5" width="207.0" height="15.5" fill="url(#hgrid)" opacity="0.34"/>
<rect x="966.0" y="880.0" width="207.0" height="4.5" fill="url(#hgrid)" opacity="0.34"/>
<rect x="966.0" y="884.5" width="207.0" height="3.2" fill="url(#hgrid)" opacity="0.34"/>
<rect x="966.0" y="887.7" width="207.0" height="4.8" fill="url(#hgrid)" opacity="0.34"/>
<rect x="966.0" y="892.5" width="207.0" height="6.4" fill="url(#hgrid)" opacity="0.34"/>
<rect x="966.0" y="898.9" width="207.0" height="4.7" fill="url(#hgrid)" opacity="0.34"/>
<rect x="966.0" y="903.6" width="207.0" height="7.2" fill="url(#hgrid)" opacity="0.34"/>
<rect x="966.0" y="910.8" width="207.0" height="7.2" fill="url(#hgrid)" opacity="0.34"/>
<rect x="966.0" y="918.0" width="207.0" height="18.4" fill="url(#hgrid)" opacity="0.34"/>
<rect x="966.0" y="936.4" width="207.0" height="7.9" fill="url(#hgrid)" opacity="0.34"/>
<rect x="966.0" y="944.3" width="207.0" height="9.6" fill="url(#hgrid)" opacity="0.34"/>
<rect x="966.0" y="953.9" width="207.0" height="10.3" fill="url(#hgrid)" opacity="0.26"/>
<rect x="966.0" y="964.2" width="207.0" height="11.9" fill="url(#hgrid)" opacity="0.26"/>
<rect x="966.0" y="976.1" width="207.0" height="6.4" fill="url(#hgrid)" opacity="0.34"/>
<rect x="966.0" y="982.5" width="207.0" height="7.5" fill="url(#hgrid)" opacity="0.26"/>
<rect x="966.0" y="990.0" width="207.0" height="10.1" fill="url(#hgrid)" opacity="0.34"/>
<rect x="966.0" y="1000.1" width="207.0" height="7.2" fill="url(#hgrid)" opacity="0.26"/>
<rect x="966.0" y="1007.3" width="207.0" height="4.7" fill="url(#hgrid)" opacity="0.2"/>
<rect x="966.0" y="1012.0" width="207.0" height="12.0" fill="url(#hgrid)" opacity="0.26"/>
<rect x="966.0" y="1024.0" width="207.0" height="4.7" fill="url(#hgrid)" opacity="0.34"/>
<rect x="966.0" y="1028.7" width="207.0" height="11.2" fill="url(#hgrid)" opacity="0.34"/>
<rect x="966.0" y="1039.9" width="207.0" height="3.3" fill="url(#hgrid)" opacity="0.34"/>
<rect x="966.0" y="1043.2" width="207.0" height="6.3" fill="url(#hgrid)" opacity="0.26"/>
<rect x="966.0" y="1049.5" width="207.0" height="6.4" fill="url(#hgrid)" opacity="0.34"/>
<rect x="966.0" y="1055.9" width="207.0" height="6.4" fill="url(#hgrid)" opacity="0.34"/>
<rect x="966.0" y="1062.3" width="207.0" height="9.5" fill="url(#hgrid)" opacity="0.34"/>
<rect x="966.0" y="1071.8" width="207.0" height="6.4" fill="url(#hgrid)" opacity="0.34"/>
<rect x="966.0" y="1078.2" width="207.0" height="9.5" fill="url(#hgrid)" opacity="0.34"/>
<rect x="966.0" y="1087.7" width="207.0" height="7.3" fill="url(#hgrid)" opacity="0.26"/>
<rect x="966.0" y="1095.0" width="207.0" height="8.7" fill="url(#hgrid)" opacity="0.34"/>
<rect x="966.0" y="1103.7" width="207.0" height="5.6" fill="url(#hgrid)" opacity="0.26"/>
<rect x="966.0" y="1109.3" width="207.0" height="9.6" fill="url(#hgrid)" opacity="0.26"/>
<rect x="966.0" y="1118.9" width="207.0" height="4.7" fill="url(#hgrid)" opacity="0.2"/>
<rect x="966.0" y="1123.6" width="207.0" height="4.0" fill="url(#hgrid)" opacity="0.34"/>
<rect x="966.0" y="1127.6" width="207.0" height="7.2" fill="url(#hgrid)" opacity="0.26"/>
<rect x="966.0" y="1134.8" width="207.0" height="7.9" fill="url(#hgrid)" opacity="0.26"/>
<rect x="966.0" y="1142.7" width="207.0" height="5.5" fill="url(#hgrid)" opacity="0.26"/>
<rect x="966.0" y="1148.2" width="207.0" height="22.2" fill="url(#hgrid)" opacity="0.2"/>
<rect x="966.0" y="1170.4" width="207.0" height="3.2" fill="url(#hgrid)" opacity="0.26"/>
<rect x="966.0" y="1173.6" width="207.0" height="4.8" fill="url(#hgrid)" opacity="0.2"/>
<rect x="966.0" y="1178.4" width="207.0" height="3.2" fill="url(#hgrid)" opacity="0.26"/>
<rect x="966.0" y="1181.6" width="207.0" height="8.0" fill="url(#hgrid)" opacity="0.2"/>
<line x1="966.0" y1="713.2" x2="966.0" y2="1189.6" stroke="#111" stroke-width="1.8"/>
<line x1="757.3" y1="713.2" x2="757.3" y2="1189.6" stroke="#111" stroke-width="1"/>
<text x="864.0" y="707.9" font-size="23.7" text-anchor="middle" fill="#111" stroke="#111" stroke-width="0.3" textLength="103.9" lengthAdjust="spacingAndGlyphs">Discovery</text>
<text x="1074.0" y="707.9" font-size="23.7" text-anchor="middle" fill="#111" stroke="#111" stroke-width="0.3" textLength="103.0" lengthAdjust="spacingAndGlyphs">Validation</text>
<text x="756.7" y="1209.1" font-size="18" text-anchor="start" fill="#111" stroke="#111" stroke-width="0.3">1</text>
<text x="962.3" y="1209.1" font-size="18" text-anchor="end" fill="#111" stroke="#111" stroke-width="0.3" textLength="32.6" lengthAdjust="spacingAndGlyphs">373</text>
<text x="976.3" y="1209.1" font-size="18" text-anchor="start" fill="#111" stroke="#111" stroke-width="0.3">1</text>
<text x="1171.6" y="1209.1" font-size="18" text-anchor="end" fill="#111" stroke="#111" stroke-width="0.3" textLength="31.8" lengthAdjust="spacingAndGlyphs">373</text>
<text x="756.1" y="1233.8" font-size="23" text-anchor="start" fill="#111" stroke="#111" stroke-width="0.3" textLength="202.1" lengthAdjust="spacingAndGlyphs">Number of proteins</text>
<text x="971.4" y="1233.8" font-size="23" text-anchor="start" fill="#111" stroke="#111" stroke-width="0.3" textLength="202.1" lengthAdjust="spacingAndGlyphs">Number of proteins</text>
<text x="1190.9" y="949.0" font-size="24.5" text-anchor="middle" fill="#111" stroke="#111" stroke-width="0.3" textLength="359.8" lengthAdjust="spacingAndGlyphs" transform="rotate(90 1190.9 949.0)">Clinical and functional parameters</text>
<text x="1205.2" y="1185.3" font-size="19.5" text-anchor="start" fill="#111" stroke="#111" stroke-width="0.3" textLength="146.0" lengthAdjust="spacingAndGlyphs">Signed -log10(p)</text>
<defs><linearGradient id="cbar"><stop offset="0" stop-color="#4aa3d6"/><stop offset="0.3" stop-color="#1d4a66"/><stop offset="0.5" stop-color="#111"/><stop offset="0.72" stop-color="#5e5414"/><stop offset="1" stop-color="#f0e400"/></linearGradient></defs>
<rect x="1252.7" y="1194.3" width="51.2" height="23.2" fill="url(#cbar)"/>
<text x="1247.8" y="1209.7" font-size="16" text-anchor="end" fill="#111" stroke="#111" stroke-width="0.3">-3</text>
<text x="1308.6" y="1209.7" font-size="16" text-anchor="start" fill="#111" stroke="#111" stroke-width="0.3">3</text>
</svg>
</body></html>
